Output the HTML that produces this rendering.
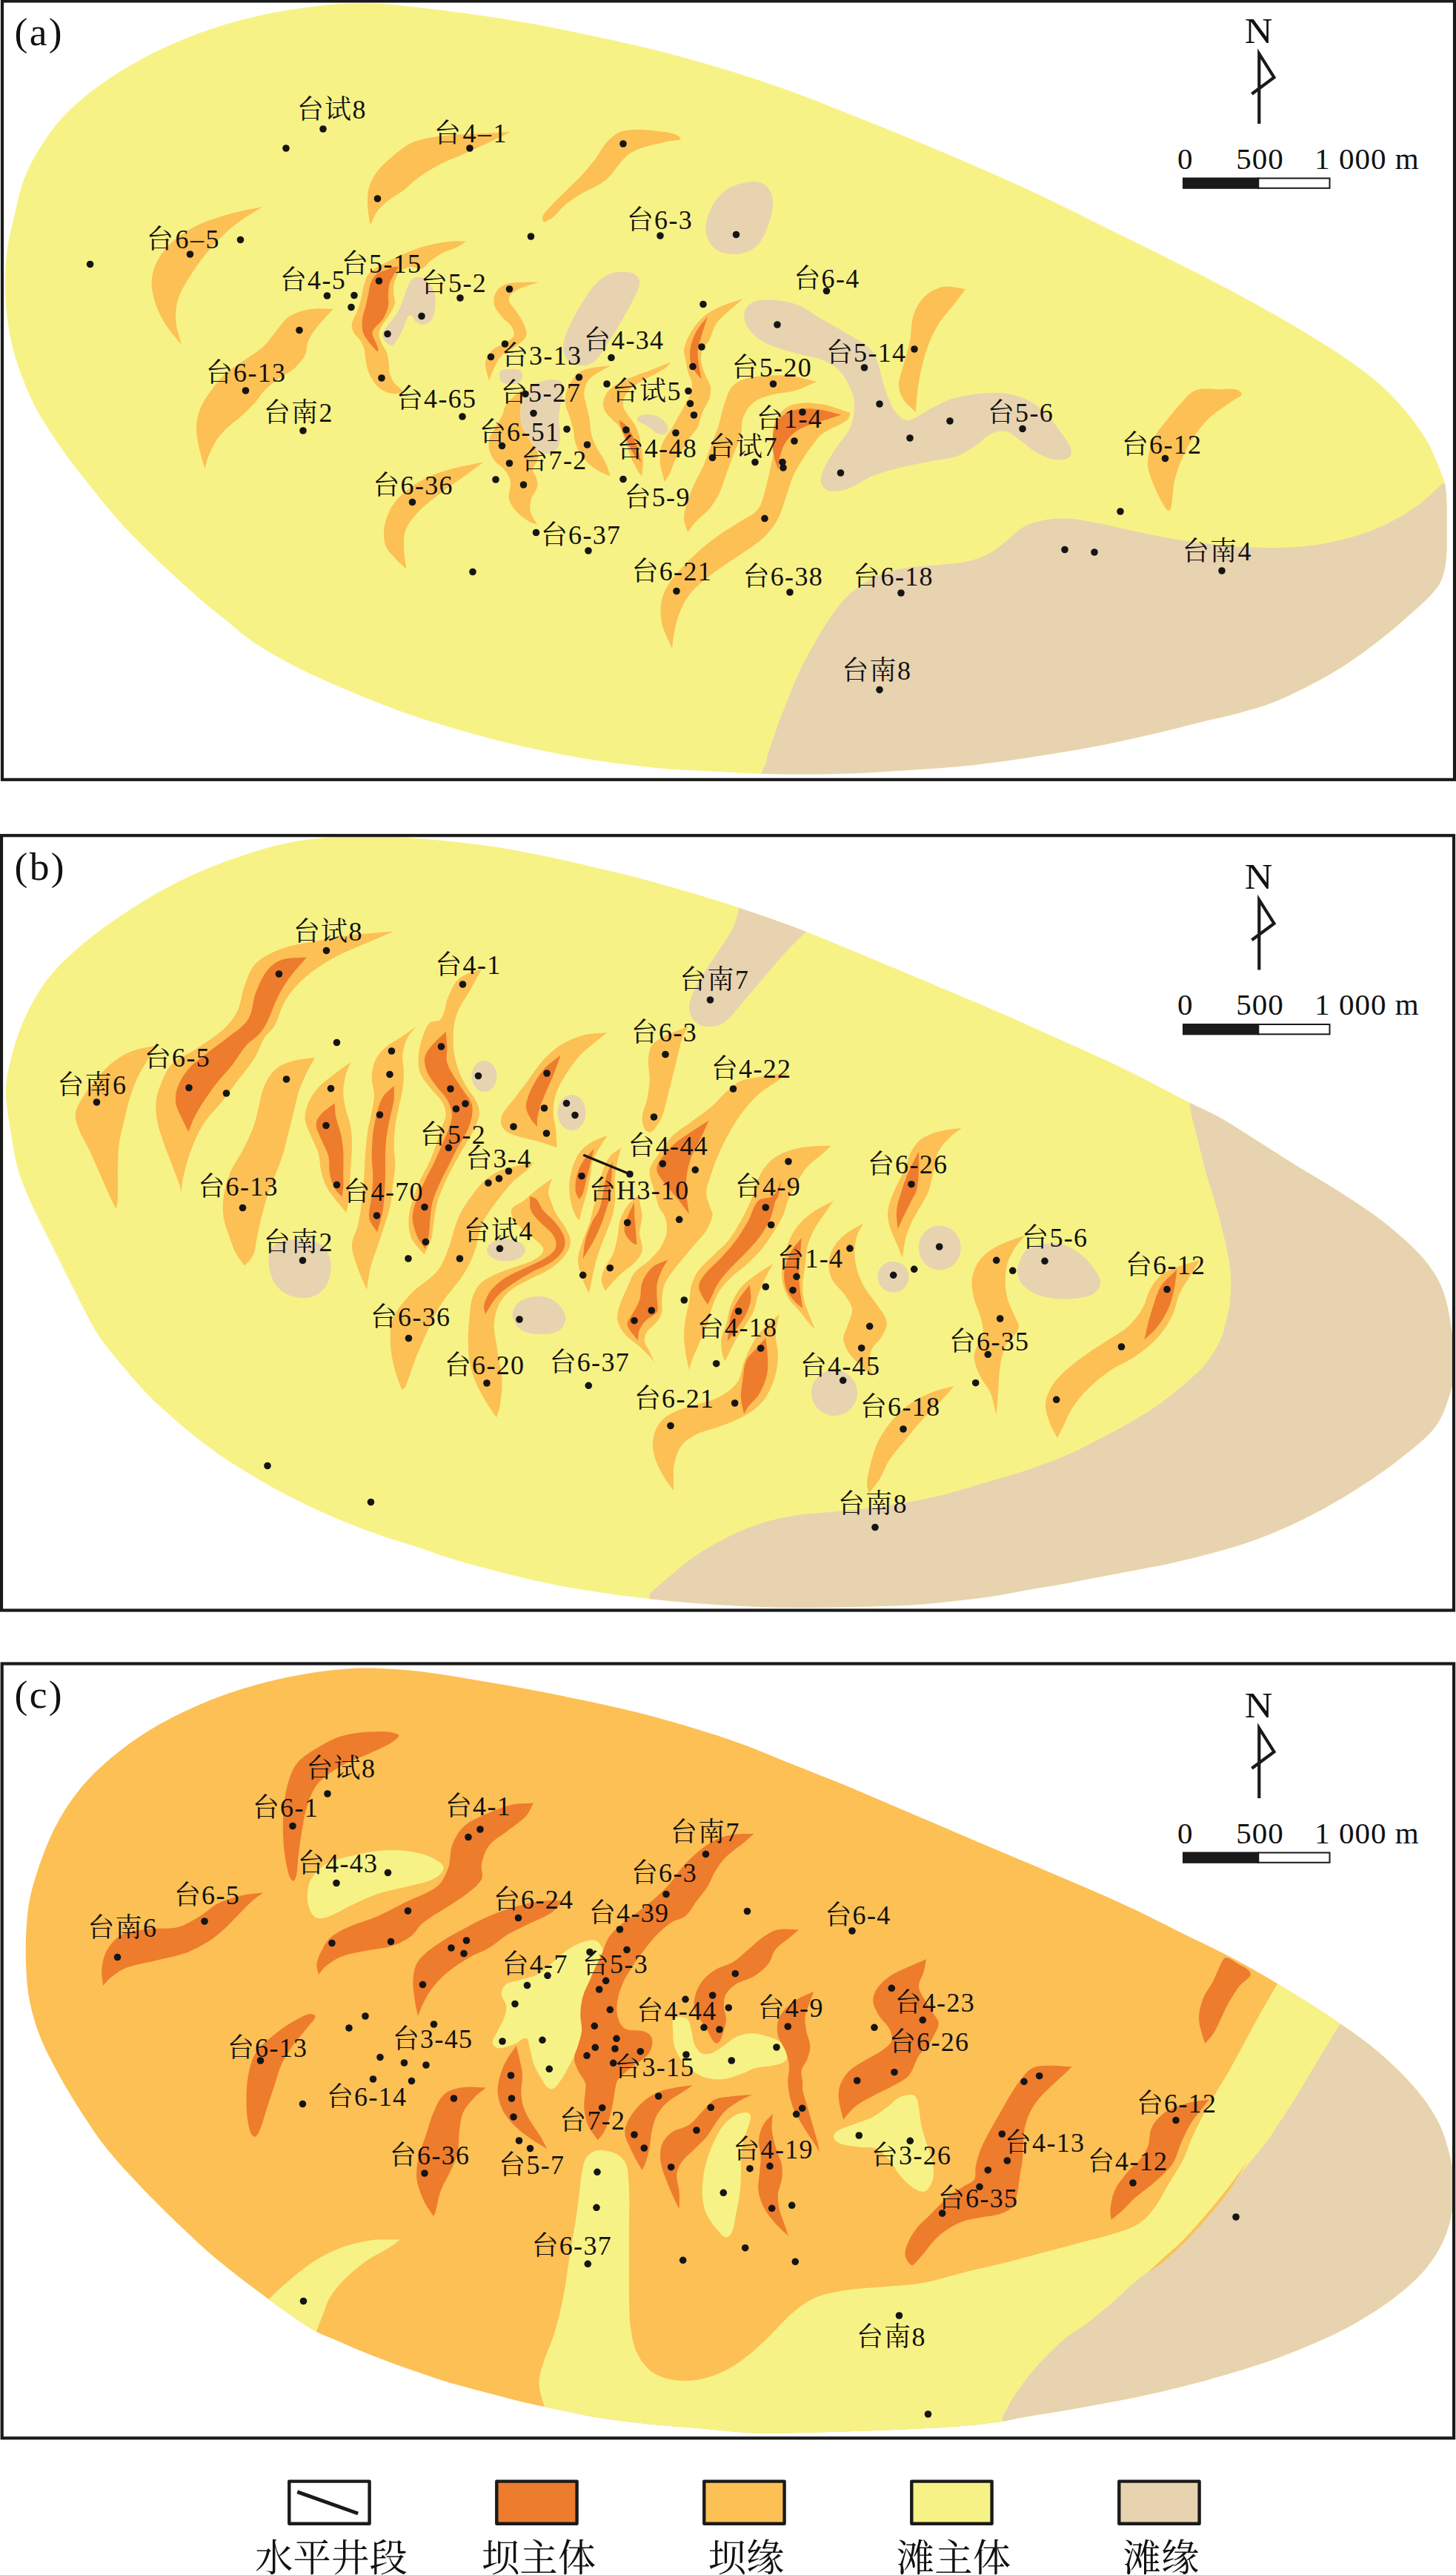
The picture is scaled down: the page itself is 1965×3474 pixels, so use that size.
<!DOCTYPE html>
<html><head><meta charset="utf-8"><title>fig</title>
<style>html,body{margin:0;padding:0;background:#fff}svg{display:block}text{font-family:"Liberation Serif","Noto Serif CJK SC",serif;fill:#111}</style></head><body>
<svg width="1965" height="3474" viewBox="0 0 1965 3474">
<rect width="1965" height="3474" fill="#fff"/>
<g id="a">
<clipPath id="clip_a"><path d="M470.0 4.8C486.5 4.3 503.5 4.5 520.0 5.4C533.3 6.1 546.8 8.0 560.0 9.5C582.7 12.1 606.0 14.8 628.6 18.0C658.2 22.2 688.6 26.7 718.0 32.0C747.5 37.3 777.7 43.7 807.0 50.0C836.5 56.4 866.8 63.0 896.0 70.5C925.9 78.2 956.5 86.9 986.0 96.0C1015.6 105.2 1045.8 115.5 1075.0 126.0C1096.3 133.7 1117.9 142.6 1139.0 151.0C1168.6 162.8 1199.2 174.8 1228.6 187.0C1258.2 199.2 1288.6 212.2 1318.0 225.0C1347.5 237.9 1377.9 251.3 1407.0 265.0C1436.6 279.0 1466.6 294.5 1496.0 309.0C1526.3 324.0 1557.7 339.3 1587.9 354.5C1611.5 366.4 1635.9 378.6 1659.3 391.0C1683.1 403.7 1707.4 417.0 1730.7 430.5C1754.5 444.4 1779.0 458.8 1802.0 474.0C1820.3 486.1 1838.9 498.9 1855.7 513.0C1869.4 524.4 1882.4 537.5 1894.0 551.0C1905.7 564.6 1916.8 579.6 1926.0 595.0C1933.0 606.8 1937.7 620.3 1943.0 633.0C1945.6 639.2 1948.6 645.5 1950.0 652.0C1951.6 659.4 1952.0 667.4 1952.3 675.0C1952.8 685.5 1952.7 696.4 1952.5 707.0C1952.2 724.7 1953.6 743.0 1951.0 760.5C1949.4 771.4 1946.6 783.2 1940.0 792.0C1927.6 808.7 1910.4 822.1 1895.0 836.0C1881.0 848.5 1866.0 860.7 1851.0 872.0C1836.6 882.8 1821.3 893.5 1806.0 903.0C1791.6 912.0 1776.2 920.3 1761.0 928.0C1746.8 935.2 1731.9 942.3 1717.0 948.0C1702.5 953.6 1687.0 957.9 1672.0 962.0C1657.4 966.0 1642.2 969.0 1627.5 972.6C1612.8 976.2 1597.7 980.2 1583.0 983.7C1553.5 990.6 1523.3 998.1 1493.6 1004.0C1464.2 1009.9 1433.6 1014.9 1404.0 1019.5C1374.7 1024.1 1344.5 1028.8 1315.0 1032.0C1286.0 1035.2 1256.1 1037.1 1227.0 1039.0C1195.3 1041.1 1162.7 1043.2 1131.0 1044.0C1099.2 1044.8 1066.4 1044.7 1034.6 1044.0C1002.9 1043.3 970.2 1041.0 938.5 1039.5C925.8 1038.9 912.7 1038.8 900.0 1037.5C870.9 1034.6 840.9 1031.2 812.0 1027.0C789.3 1023.7 765.9 1019.5 743.4 1015.0C720.6 1010.5 697.2 1005.3 674.7 999.7C651.9 994.0 628.5 987.6 606.0 980.8C583.2 974.0 559.8 966.6 537.4 958.5C514.4 950.2 491.2 940.6 468.7 931.0C445.8 921.3 422.2 911.3 400.0 900.0C380.6 890.1 361.1 879.0 343.0 867.0C330.4 858.7 318.8 848.1 307.0 838.6C294.0 828.1 280.6 817.3 268.0 806.4C255.9 796.0 243.7 784.9 232.0 774.0C220.1 763.0 207.9 751.5 196.4 740.0C184.4 728.0 172.0 715.7 160.7 703.0C148.4 689.2 136.5 674.4 125.0 660.0C112.9 644.9 100.3 629.4 89.0 613.6C76.7 596.3 64.4 578.2 53.6 560.0C46.9 548.6 41.0 536.2 36.0 524.0C29.6 508.5 23.5 492.2 19.0 476.0C14.7 460.4 11.6 444.0 9.6 428.0C7.6 412.3 6.9 395.9 7.0 380.0C7.1 365.1 7.9 349.7 10.0 335.0C12.1 320.0 16.1 304.8 19.6 290.0C23.3 274.4 26.3 258.0 32.0 243.0C37.6 228.1 45.1 213.4 53.6 200.0C64.0 183.8 75.5 167.3 89.0 153.6C105.2 137.1 123.9 122.1 143.0 109.0C165.3 93.7 189.7 79.9 214.0 68.0C236.9 56.8 261.5 47.2 285.7 39.0C308.8 31.2 333.2 24.8 357.0 19.6C380.4 14.5 404.9 11.1 428.6 8.0C442.2 6.2 456.3 5.2 470.0 4.8Z"/></clipPath>
<path fill="#F7F285" d="M470.0 4.8C486.5 4.3 503.5 4.5 520.0 5.4C533.3 6.1 546.8 8.0 560.0 9.5C582.7 12.1 606.0 14.8 628.6 18.0C658.2 22.2 688.6 26.7 718.0 32.0C747.5 37.3 777.7 43.7 807.0 50.0C836.5 56.4 866.8 63.0 896.0 70.5C925.9 78.2 956.5 86.9 986.0 96.0C1015.6 105.2 1045.8 115.5 1075.0 126.0C1096.3 133.7 1117.9 142.6 1139.0 151.0C1168.6 162.8 1199.2 174.8 1228.6 187.0C1258.2 199.2 1288.6 212.2 1318.0 225.0C1347.5 237.9 1377.9 251.3 1407.0 265.0C1436.6 279.0 1466.6 294.5 1496.0 309.0C1526.3 324.0 1557.7 339.3 1587.9 354.5C1611.5 366.4 1635.9 378.6 1659.3 391.0C1683.1 403.7 1707.4 417.0 1730.7 430.5C1754.5 444.4 1779.0 458.8 1802.0 474.0C1820.3 486.1 1838.9 498.9 1855.7 513.0C1869.4 524.4 1882.4 537.5 1894.0 551.0C1905.7 564.6 1916.8 579.6 1926.0 595.0C1933.0 606.8 1937.7 620.3 1943.0 633.0C1945.6 639.2 1948.6 645.5 1950.0 652.0C1951.6 659.4 1952.0 667.4 1952.3 675.0C1952.8 685.5 1952.7 696.4 1952.5 707.0C1952.2 724.7 1953.6 743.0 1951.0 760.5C1949.4 771.4 1946.6 783.2 1940.0 792.0C1927.6 808.7 1910.4 822.1 1895.0 836.0C1881.0 848.5 1866.0 860.7 1851.0 872.0C1836.6 882.8 1821.3 893.5 1806.0 903.0C1791.6 912.0 1776.2 920.3 1761.0 928.0C1746.8 935.2 1731.9 942.3 1717.0 948.0C1702.5 953.6 1687.0 957.9 1672.0 962.0C1657.4 966.0 1642.2 969.0 1627.5 972.6C1612.8 976.2 1597.7 980.2 1583.0 983.7C1553.5 990.6 1523.3 998.1 1493.6 1004.0C1464.2 1009.9 1433.6 1014.9 1404.0 1019.5C1374.7 1024.1 1344.5 1028.8 1315.0 1032.0C1286.0 1035.2 1256.1 1037.1 1227.0 1039.0C1195.3 1041.1 1162.7 1043.2 1131.0 1044.0C1099.2 1044.8 1066.4 1044.7 1034.6 1044.0C1002.9 1043.3 970.2 1041.0 938.5 1039.5C925.8 1038.9 912.7 1038.8 900.0 1037.5C870.9 1034.6 840.9 1031.2 812.0 1027.0C789.3 1023.7 765.9 1019.5 743.4 1015.0C720.6 1010.5 697.2 1005.3 674.7 999.7C651.9 994.0 628.5 987.6 606.0 980.8C583.2 974.0 559.8 966.6 537.4 958.5C514.4 950.2 491.2 940.6 468.7 931.0C445.8 921.3 422.2 911.3 400.0 900.0C380.6 890.1 361.1 879.0 343.0 867.0C330.4 858.7 318.8 848.1 307.0 838.6C294.0 828.1 280.6 817.3 268.0 806.4C255.9 796.0 243.7 784.9 232.0 774.0C220.1 763.0 207.9 751.5 196.4 740.0C184.4 728.0 172.0 715.7 160.7 703.0C148.4 689.2 136.5 674.4 125.0 660.0C112.9 644.9 100.3 629.4 89.0 613.6C76.7 596.3 64.4 578.2 53.6 560.0C46.9 548.6 41.0 536.2 36.0 524.0C29.6 508.5 23.5 492.2 19.0 476.0C14.7 460.4 11.6 444.0 9.6 428.0C7.6 412.3 6.9 395.9 7.0 380.0C7.1 365.1 7.9 349.7 10.0 335.0C12.1 320.0 16.1 304.8 19.6 290.0C23.3 274.4 26.3 258.0 32.0 243.0C37.6 228.1 45.1 213.4 53.6 200.0C64.0 183.8 75.5 167.3 89.0 153.6C105.2 137.1 123.9 122.1 143.0 109.0C165.3 93.7 189.7 79.9 214.0 68.0C236.9 56.8 261.5 47.2 285.7 39.0C308.8 31.2 333.2 24.8 357.0 19.6C380.4 14.5 404.9 11.1 428.6 8.0C442.2 6.2 456.3 5.2 470.0 4.8Z"/>
<path fill="#E8D3B0" d="M1034.0 1029.0C1035.0 1024.3 1035.5 1019.5 1037.0 1015.0C1042.2 999.0 1048.0 982.7 1054.0 967.0C1061.5 947.4 1069.3 927.1 1078.0 908.0C1083.9 895.1 1091.0 882.3 1098.0 870.0C1104.3 858.9 1110.8 847.5 1118.0 837.0C1125.6 826.0 1133.3 814.2 1143.0 805.0C1153.3 795.2 1165.3 786.4 1178.0 780.0C1190.4 773.7 1204.4 769.7 1218.0 767.0C1234.3 763.7 1251.5 763.8 1268.0 762.0C1281.2 760.5 1295.1 760.1 1308.0 757.0C1318.4 754.5 1328.6 750.1 1338.0 745.0C1345.3 741.1 1351.5 735.1 1358.0 730.0C1366.3 723.5 1373.7 714.9 1383.0 710.0C1392.1 705.2 1402.8 702.6 1413.0 701.0C1424.4 699.2 1436.5 699.1 1448.0 700.0C1461.4 701.1 1474.9 704.4 1488.0 707.0C1502.9 710.0 1518.1 713.9 1533.0 717.0C1549.5 720.5 1566.4 724.3 1583.0 727.0C1605.7 730.6 1629.1 734.0 1652.0 736.0C1674.4 738.0 1697.5 739.5 1720.0 739.0C1742.9 738.5 1766.5 737.2 1789.0 733.0C1812.3 728.6 1836.1 722.0 1858.0 713.0C1877.3 705.1 1895.8 693.8 1913.0 682.0C1925.3 673.5 1935.7 662.0 1947.0 652.0C1964.7 648.0 1982.3 644.0 2000.0 640.0C2000.0 793.3 2000.0 946.7 2000.0 1100.0C1666.7 1100.0 1333.3 1100.0 1000.0 1100.0C1011.3 1076.3 1022.7 1052.7 1034.0 1029.0Z" clip-path="url(#clip_a)"/>
<path fill="#E8D3B0" d="M1013.0 245.0C1019.7 244.1 1027.8 245.6 1033.0 250.0C1038.7 254.7 1042.3 262.7 1043.0 270.0C1044.0 280.0 1041.2 290.5 1038.0 300.0C1034.5 310.5 1030.6 321.9 1023.0 330.0C1016.7 336.7 1007.1 341.3 998.0 342.5C988.1 343.9 976.6 342.7 968.0 337.5C960.4 332.8 954.7 323.8 953.0 315.0C951.1 305.1 954.0 294.2 958.0 285.0C962.5 274.7 968.9 264.1 978.0 257.5C987.9 250.3 1000.8 246.7 1013.0 245.0Z"/>
<path fill="#E8D3B0" d="M826.7 368.3C835.2 366.2 844.9 365.6 853.3 368.3C858.1 369.8 863.3 374.9 863.3 380.0C863.3 389.4 857.3 398.2 853.3 406.7C848.5 416.9 842.4 426.9 836.7 436.7C831.4 445.6 825.8 454.7 820.0 463.3C814.7 471.2 810.3 480.4 803.3 486.7C798.9 490.6 792.6 493.3 786.7 493.3C779.7 493.3 771.6 491.6 766.7 486.7C761.8 481.8 759.5 473.6 760.0 466.7C760.7 456.3 765.8 446.2 770.0 436.7C774.6 426.3 780.5 416.2 786.7 406.7C792.7 397.5 798.8 387.6 806.7 380.0C812.2 374.7 819.3 370.2 826.7 368.3Z"/>
<path fill="#E8D3B0" d="M565.0 373.6C568.9 374.0 572.9 376.2 575.7 379.0C580.2 383.5 584.3 389.0 586.4 395.0C588.3 400.6 587.9 407.0 587.3 412.9C586.7 418.9 586.1 425.5 582.9 430.7C580.6 434.4 576.3 437.2 572.0 437.9C568.4 438.5 564.4 436.4 561.4 434.3C558.3 432.1 557.9 426.4 554.3 425.4C551.9 424.7 550.2 428.5 549.0 430.7C546.6 435.1 545.7 440.4 543.6 445.0C541.6 449.3 539.1 453.6 536.4 457.5C534.3 460.5 532.9 465.2 529.3 466.0C526.0 466.7 522.5 463.6 520.4 461.0C518.1 458.1 516.0 454.0 516.8 450.4C518.0 444.9 522.5 440.6 525.7 436.0C529.0 431.2 533.4 426.9 536.4 421.8C539.4 416.8 541.5 411.1 543.6 405.7C545.6 400.5 546.8 394.7 549.0 389.6C550.9 385.2 552.6 380.4 556.0 377.0C558.2 374.8 561.8 373.3 565.0 373.6Z"/>
<path fill="#E8D3B0" d="M676.0 500.0C679.9 497.4 685.3 498.0 690.0 498.0C694.2 498.0 698.9 497.9 702.5 500.0C704.6 501.3 705.2 504.6 705.0 507.0C704.7 510.2 703.6 514.1 701.0 516.0C698.0 518.2 693.7 518.0 690.0 518.0C686.0 518.0 681.5 518.0 678.0 516.0C675.6 514.6 674.3 511.4 674.0 508.6C673.6 505.7 673.6 501.6 676.0 500.0Z"/>
<path fill="#E8D3B0" d="M733.0 514.0C737.5 512.8 742.3 511.6 747.0 512.0C750.9 512.3 755.7 512.9 758.0 516.0C760.7 519.8 760.3 525.3 760.0 530.0C759.6 536.1 757.0 542.0 756.0 548.0C755.0 553.9 754.0 560.0 754.0 566.0C754.0 571.8 756.0 577.8 756.0 583.6C756.0 589.4 755.9 595.5 754.0 601.0C752.8 604.6 750.3 608.1 747.0 610.0C743.5 612.0 739.0 612.3 735.0 612.0C731.8 611.8 728.4 610.7 726.0 608.6C722.2 605.2 719.7 600.4 717.0 596.0C713.1 589.6 708.8 583.0 706.0 576.0C703.6 570.0 701.0 563.4 701.6 557.0C702.4 548.3 706.2 539.8 710.0 532.0C712.4 527.1 715.7 522.3 720.0 519.0C723.6 516.2 728.6 515.2 733.0 514.0Z"/>
<path fill="#E8D3B0" d="M860.7 563.0C863.4 560.6 867.4 559.3 871.0 559.0C875.9 558.6 881.2 559.2 885.7 561.0C890.4 562.9 894.6 566.3 898.0 570.0C900.1 572.4 902.2 575.8 901.8 579.0C901.4 582.0 898.9 585.1 896.0 586.0C892.7 587.0 888.8 585.5 885.7 584.0C882.3 582.4 879.9 579.1 876.8 577.0C874.0 575.1 870.9 573.5 867.9 571.8C865.6 570.5 862.4 570.1 860.7 568.0C859.7 566.7 859.5 564.1 860.7 563.0Z"/>
<path fill="#E8D3B0" d="M1005.0 420.0C1006.8 414.2 1012.3 409.0 1018.0 407.0C1027.4 403.7 1038.1 404.2 1048.0 405.0C1058.1 405.8 1068.6 408.1 1078.0 412.0C1088.7 416.4 1098.0 424.2 1108.0 430.0C1119.5 436.7 1131.8 442.8 1143.0 450.0C1154.9 457.7 1169.8 463.4 1178.0 475.0C1187.1 487.7 1188.0 505.1 1193.0 520.0C1194.7 525.0 1195.9 530.2 1198.0 535.0C1200.9 541.8 1203.5 549.2 1208.0 555.0C1211.9 560.0 1216.8 565.6 1223.0 567.0C1228.1 568.2 1233.3 564.3 1238.0 562.0C1244.9 558.6 1251.1 553.4 1258.0 550.0C1267.7 545.2 1277.6 540.0 1288.0 537.0C1299.2 533.7 1311.3 532.0 1323.0 531.0C1334.5 530.0 1346.6 529.4 1358.0 531.0C1368.2 532.4 1378.9 535.2 1388.0 540.0C1397.3 544.9 1405.5 552.5 1413.0 560.0C1420.5 567.5 1426.9 576.4 1433.0 585.0C1437.5 591.3 1442.7 597.7 1445.0 605.0C1446.2 608.8 1446.3 614.7 1443.0 617.0C1437.5 620.8 1429.6 621.0 1423.0 620.0C1414.2 618.6 1405.8 614.3 1398.0 610.0C1390.8 606.0 1384.8 599.7 1378.0 595.0C1371.6 590.5 1365.6 583.9 1358.0 582.0C1351.5 580.4 1344.1 582.3 1338.0 585.0C1330.5 588.4 1324.9 595.4 1318.0 600.0C1310.0 605.3 1302.0 611.7 1293.0 615.0C1281.9 619.1 1269.5 619.7 1258.0 622.0C1244.8 624.6 1231.1 626.7 1218.0 630.0C1204.6 633.3 1190.8 636.9 1178.0 642.0C1165.9 646.8 1155.3 655.9 1143.0 660.0C1135.1 662.6 1126.0 664.3 1118.0 662.0C1113.0 660.6 1108.8 655.1 1108.0 650.0C1106.9 643.3 1110.2 636.2 1113.0 630.0C1116.9 621.2 1122.8 613.1 1128.0 605.0C1134.4 595.0 1143.4 586.0 1148.0 575.0C1151.9 565.7 1153.0 555.0 1153.0 545.0C1153.0 538.2 1150.8 531.2 1148.0 525.0C1144.1 516.2 1139.8 506.8 1133.0 500.0C1126.2 493.2 1117.0 488.5 1108.0 485.0C1095.3 480.1 1081.0 479.1 1068.0 475.0C1054.5 470.8 1040.2 467.1 1028.0 460.0C1019.9 455.3 1012.7 448.1 1008.0 440.0C1004.7 434.2 1003.1 426.4 1005.0 420.0Z"/>
<path fill="#FCC055" d="M354.0 279.0C337.7 282.7 320.8 285.0 305.0 290.0C288.0 295.3 270.3 301.0 255.0 310.0C241.9 317.7 229.3 327.9 220.0 340.0C212.3 350.0 206.8 362.6 205.0 375.0C203.3 386.6 206.6 398.8 210.0 410.0C213.3 420.6 219.1 430.7 225.0 440.0C230.7 448.9 238.3 456.7 245.0 465.0C242.5 455.0 238.3 445.2 237.5 435.0C236.7 425.1 237.2 414.5 240.0 405.0C243.1 394.4 249.2 384.4 255.0 375.0C262.4 362.9 270.8 350.8 280.0 340.0C290.6 327.6 302.4 315.4 315.0 305.0C326.9 295.2 341.0 287.7 354.0 279.0Z"/>
<path fill="#FCC055" d="M689.0 177.9C674.1 178.7 659.0 179.5 644.3 180.4C626.6 181.5 608.3 181.5 590.7 184.0C578.7 185.7 566.1 188.0 555.0 192.9C545.7 197.0 537.7 204.2 530.0 210.7C522.4 217.1 514.6 224.0 508.6 232.0C503.8 238.4 500.1 246.0 497.9 253.6C495.9 260.4 495.8 267.9 496.0 275.0C496.3 284.7 498.4 294.5 499.6 304.3C502.6 298.1 504.7 291.3 508.6 285.7C512.5 280.3 517.7 275.6 522.9 271.4C529.5 266.1 537.5 262.1 544.3 257.0C549.3 253.3 553.7 248.5 558.6 244.6C563.2 240.9 568.0 237.2 572.9 234.0C579.8 229.5 587.0 225.1 594.3 221.4C603.5 216.8 613.5 213.2 622.9 209.0C633.5 204.3 644.5 199.5 655.0 194.6C666.3 189.3 677.7 183.5 689.0 177.9Z"/>
<path fill="#FCC055" d="M917.9 185.7C910.1 177.9 896.6 178.7 885.7 176.8C876.4 175.2 866.5 174.7 857.0 175.0C849.9 175.3 842.2 175.6 835.7 178.6C828.8 181.7 822.9 187.3 817.9 192.9C812.2 199.2 808.7 207.5 803.6 214.3C798.1 221.7 791.9 228.9 785.7 235.7C779.0 243.0 771.3 249.9 764.3 257.0C757.2 264.1 749.6 271.1 742.9 278.6C738.9 283.0 734.3 287.4 732.0 292.9C731.1 295.1 733.3 297.6 734.0 300.0C738.1 297.6 742.8 295.9 746.4 292.9C752.8 287.6 757.8 280.3 764.3 275.0C770.9 269.6 778.4 265.0 785.7 260.7C792.5 256.7 800.3 254.0 807.0 250.0C812.1 247.0 817.2 243.5 821.4 239.3C826.8 234.0 830.7 227.1 835.7 221.4C840.1 216.4 844.4 210.7 850.0 207.0C856.4 202.8 864.1 200.3 871.4 198.0C880.7 195.0 890.6 193.5 900.0 191.0C906.0 189.4 922.3 190.0 917.9 185.7Z"/>
<path fill="#FCC055" d="M449.6 417.0C439.5 417.0 429.2 415.4 419.3 417.0C409.5 418.6 399.1 421.5 390.7 426.8C383.3 431.5 378.6 439.8 372.9 446.4C366.8 453.4 361.8 461.7 355.0 467.9C347.5 474.7 338.2 479.8 330.0 485.7C321.7 491.6 312.5 496.7 305.0 503.6C297.0 511.0 289.9 519.8 283.6 528.6C278.1 536.3 272.6 544.7 269.3 553.6C266.4 561.4 265.0 570.2 265.0 578.6C265.0 588.1 267.3 597.7 269.3 607.0C271.1 615.4 274.0 623.7 276.4 632.0C278.2 626.1 279.5 620.0 281.8 614.3C284.3 608.2 287.1 601.9 290.7 596.4C294.8 590.1 299.7 583.9 305.0 578.6C311.5 572.1 319.6 566.9 326.4 560.7C332.6 555.1 338.7 549.1 344.3 542.9C349.4 537.3 353.3 530.4 358.6 525.0C363.9 519.7 370.3 515.1 376.4 510.7C383.3 505.7 391.6 502.1 397.9 496.4C403.5 491.4 408.7 485.3 412.0 478.6C414.7 473.2 413.4 466.3 415.7 460.7C418.3 454.3 422.3 448.4 426.4 442.9C430.6 437.2 436.0 432.1 440.7 426.8C443.6 423.5 446.6 420.3 449.6 417.0Z"/>
<path fill="#FCC055" d="M629.3 325.4C622.7 325.4 616.1 324.8 609.6 325.4C600.7 326.2 591.6 327.8 582.9 329.8C573.9 331.9 564.7 334.6 556.0 337.9C545.5 341.9 534.9 346.8 525.0 352.0C516.1 356.7 506.4 361.2 499.0 368.0C495.1 371.6 493.5 377.4 491.8 382.5C489.9 388.2 489.5 394.5 488.0 400.4C486.5 406.3 484.9 412.3 482.9 418.0C480.5 424.7 476.0 430.9 474.8 437.9C474.2 441.6 475.7 445.7 477.5 449.0C479.7 453.0 484.0 455.7 486.4 459.6C488.8 463.4 490.6 467.7 491.8 472.0C493.0 476.6 492.7 481.7 493.6 486.4C494.5 491.2 495.3 496.2 497.0 500.7C498.9 505.7 501.2 510.7 504.3 515.0C507.2 519.1 510.8 523.0 515.0 525.7C519.2 528.4 524.3 530.3 529.3 531.0C534.4 531.7 539.8 530.3 545.0 530.0C543.3 528.0 541.8 525.9 540.0 524.0C537.1 520.9 533.3 518.5 531.0 515.0C528.5 511.3 526.8 506.8 525.7 502.5C524.7 498.5 525.4 494.1 524.8 490.0C524.1 485.2 523.6 480.2 522.0 475.7C520.4 471.2 516.9 467.4 515.0 463.0C513.3 459.1 511.4 454.9 511.4 450.7C511.4 447.0 513.3 443.3 515.0 440.0C517.4 435.4 521.4 431.5 524.0 427.0C527.3 421.4 531.5 415.7 532.9 409.3C533.9 404.6 531.0 399.8 531.0 395.0C531.0 389.7 531.3 384.1 532.9 379.0C534.3 374.4 536.4 369.5 540.0 366.4C544.1 362.9 549.7 360.7 555.0 360.0C559.6 359.4 564.2 364.2 568.6 362.9C573.8 361.3 576.7 355.3 581.0 352.0C586.0 348.2 591.4 344.3 597.0 341.4C603.8 337.9 611.7 335.9 618.6 332.5C622.4 330.6 625.7 327.8 629.3 325.4Z"/>
<path fill="#EE7C2D" d="M536.4 360.0C531.1 358.6 525.6 362.8 520.4 364.6C516.2 366.1 511.4 367.2 507.9 370.0C504.6 372.7 502.3 376.8 500.7 380.7C498.6 385.7 498.2 391.5 497.0 396.8C495.8 402.1 494.8 407.6 493.6 412.9C492.2 418.8 489.6 424.7 489.0 430.7C488.4 436.6 488.3 442.9 490.0 448.6C491.7 454.0 495.6 458.5 499.0 463.0C502.1 467.2 506.1 470.9 509.6 474.8C509.9 473.3 510.8 471.8 510.5 470.4C509.6 466.6 507.4 463.2 506.0 459.6C504.7 456.1 502.1 452.7 502.5 449.0C502.8 445.6 505.8 442.7 507.9 440.0C510.5 436.7 514.6 434.4 516.8 430.7C520.0 425.3 522.6 419.1 524.0 412.9C525.0 408.3 523.7 403.3 524.0 398.6C524.3 393.3 524.2 387.6 525.7 382.5C527.2 377.4 530.6 372.8 532.9 368.0C534.1 365.4 539.2 360.8 536.4 360.0Z"/>
<path fill="#FCC055" d="M726.7 380.7C720.0 380.7 713.3 380.3 706.7 380.7C698.9 381.2 690.6 380.8 683.3 383.3C678.1 385.1 672.9 388.6 670.0 393.3C667.0 398.1 665.6 404.5 666.7 410.0C668.0 416.3 672.8 421.6 676.7 426.7C680.5 431.6 686.7 434.7 690.0 440.0C692.4 443.8 695.1 449.1 693.3 453.3C691.1 458.3 684.6 460.3 680.0 463.3C674.7 466.9 667.7 468.6 663.3 473.3C659.1 477.8 655.5 483.9 655.0 490.0C654.4 497.8 658.3 505.5 660.0 513.3C662.2 507.8 664.1 502.0 666.7 496.7C669.6 491.0 672.2 484.5 676.7 480.0C682.3 474.4 690.5 471.7 696.7 466.7C701.6 462.8 708.0 459.2 710.0 453.3C711.8 448.0 708.8 441.9 706.7 436.7C704.3 430.7 700.0 425.5 696.7 420.0C693.4 414.5 686.7 409.7 686.7 403.3C686.7 398.2 692.3 394.2 696.7 391.7C705.9 386.5 716.7 384.4 726.7 380.7Z"/>
<path fill="#FCC055" d="M652.5 623.5C638.3 626.5 623.8 628.5 610.0 632.5C596.5 636.4 582.3 640.5 570.0 647.5C557.2 654.7 544.6 663.9 535.0 675.0C527.7 683.4 522.7 694.3 520.0 705.0C517.6 714.6 517.2 725.5 520.0 735.0C522.4 742.9 529.6 748.8 535.0 755.0C539.0 759.6 544.0 763.3 548.5 767.5C547.3 758.3 545.2 749.1 545.0 740.0C544.8 731.7 544.4 722.7 547.5 715.0C551.2 705.6 558.1 697.3 565.0 690.0C573.9 680.7 584.8 672.9 595.0 665.0C606.3 656.3 618.5 648.3 630.0 640.0C637.5 634.6 645.0 629.0 652.5 623.5Z"/>
<path fill="#FCC055" d="M1303.0 390.0C1293.0 389.0 1282.8 385.2 1273.0 387.0C1263.9 388.7 1254.7 393.6 1248.0 400.0C1241.0 406.6 1236.0 415.9 1233.0 425.0C1229.3 436.1 1230.3 448.6 1228.0 460.0C1226.0 470.0 1222.5 480.1 1220.0 490.0C1217.5 499.9 1213.0 509.8 1213.0 520.0C1213.0 527.0 1216.2 534.1 1220.0 540.0C1224.0 546.3 1230.7 550.7 1236.0 556.0C1236.7 547.3 1236.9 538.5 1238.0 530.0C1239.2 520.0 1240.7 509.8 1243.0 500.0C1245.7 488.3 1248.7 476.2 1253.0 465.0C1257.0 454.7 1262.1 444.3 1268.0 435.0C1273.7 426.1 1281.5 418.3 1288.0 410.0C1293.1 403.5 1298.0 396.7 1303.0 390.0Z"/>
<path fill="#FCC055" d="M1675.0 529.6C1667.6 522.2 1654.0 525.8 1643.6 525.4C1633.4 525.0 1622.2 523.2 1612.7 527.0C1604.1 530.4 1598.4 539.3 1592.0 546.0C1585.9 552.4 1580.4 559.6 1575.0 566.6C1569.0 574.4 1561.7 581.8 1557.7 590.7C1553.0 601.4 1549.0 613.3 1549.0 625.0C1549.0 635.6 1553.8 646.1 1557.7 656.0C1561.5 665.7 1566.5 675.2 1572.0 684.0C1573.3 686.1 1576.0 690.0 1578.0 688.5C1581.3 686.0 1581.1 680.6 1581.8 676.5C1583.4 667.5 1582.9 657.9 1585.0 649.0C1587.5 638.5 1591.1 627.9 1595.5 618.0C1600.3 607.3 1606.1 596.7 1612.7 587.0C1618.5 578.4 1625.4 570.0 1633.0 563.0C1641.3 555.3 1651.8 549.7 1660.7 542.6C1665.7 538.6 1679.5 534.1 1675.0 529.6Z"/>
<path fill="#FCC055" d="M1102.0 515.0C1090.3 512.3 1078.8 508.4 1067.0 507.0C1055.9 505.7 1044.2 506.1 1033.0 507.0C1023.0 507.8 1012.5 508.7 1003.0 512.0C996.9 514.1 990.8 517.9 987.0 523.0C981.9 529.9 979.8 538.9 977.0 547.0C974.1 555.4 972.7 564.5 970.0 573.0C967.1 582.0 963.3 591.1 960.0 600.0C956.7 608.9 953.8 618.3 950.0 627.0C946.2 635.8 940.8 644.2 937.0 653.0C933.2 661.7 929.7 670.9 927.0 680.0C925.1 686.5 922.8 693.3 923.0 700.0C923.2 706.2 926.3 712.0 928.0 718.0C932.0 713.0 935.7 707.6 940.0 703.0C945.3 697.4 952.1 692.9 957.0 687.0C962.0 681.0 966.5 674.1 970.0 667.0C974.2 658.5 976.7 648.9 980.0 640.0C983.3 631.1 986.6 621.9 990.0 613.0C993.2 604.4 997.7 595.9 1000.0 587.0C1002.0 579.3 1000.1 570.4 1003.0 563.0C1005.9 555.5 1010.7 548.1 1017.0 543.0C1023.4 537.8 1032.0 535.3 1040.0 533.0C1050.6 530.0 1062.4 530.1 1073.0 527.0C1082.9 524.1 1092.3 519.0 1102.0 515.0Z"/>
<path fill="#FCC055" d="M1148.0 557.0C1134.7 553.0 1121.6 547.2 1108.0 545.0C1096.6 543.2 1084.3 542.5 1073.0 545.0C1065.5 546.6 1058.0 551.2 1053.0 557.0C1047.6 563.3 1044.4 571.8 1043.0 580.0C1041.6 588.2 1045.5 596.7 1045.0 605.0C1044.5 613.4 1041.8 621.8 1040.0 630.0C1037.8 639.9 1035.9 650.3 1033.0 660.0C1030.3 669.1 1028.8 679.5 1023.0 687.0C1017.4 694.3 1007.7 697.9 1000.0 703.0C991.2 708.8 981.6 714.0 973.0 720.0C964.1 726.2 955.2 732.9 947.0 740.0C938.7 747.2 930.5 755.0 923.0 763.0C916.0 770.5 908.5 778.3 903.0 787.0C898.5 794.0 894.5 801.9 893.0 810.0C891.2 819.7 890.9 830.3 893.0 840.0C895.6 852.2 902.3 863.3 907.0 875.0C908.0 867.7 908.5 860.2 910.0 853.0C911.8 844.3 913.7 835.2 917.0 827.0C920.3 818.6 924.6 810.2 930.0 803.0C935.6 795.5 942.9 789.0 950.0 783.0C958.4 775.8 967.9 769.4 977.0 763.0C986.7 756.2 997.3 749.9 1007.0 743.0C1015.8 736.7 1025.3 730.7 1033.0 723.0C1039.7 716.3 1045.5 708.3 1050.0 700.0C1054.5 691.6 1056.9 682.0 1060.0 673.0C1063.5 663.2 1065.8 652.6 1070.0 643.0C1073.5 635.0 1078.4 627.4 1083.0 620.0C1087.3 613.2 1092.1 606.4 1097.0 600.0C1101.0 594.8 1104.7 588.8 1110.0 585.0C1120.1 577.8 1133.0 574.4 1143.0 567.0C1146.0 564.8 1146.3 560.3 1148.0 557.0Z"/>
<path fill="#EE7C2D" d="M1135.4 559.6C1126.5 557.4 1117.6 554.2 1108.6 552.9C1099.2 551.6 1089.4 550.7 1080.0 551.8C1072.6 552.7 1064.8 554.8 1058.6 559.0C1053.0 562.8 1048.7 568.8 1046.0 575.0C1043.2 581.6 1042.7 589.2 1042.5 596.4C1042.3 603.5 1043.5 610.9 1045.0 617.9C1046.2 623.4 1048.8 628.6 1050.7 634.0C1051.5 627.4 1051.4 620.6 1053.0 614.3C1054.6 608.1 1056.8 601.7 1060.4 596.4C1064.6 590.3 1070.2 584.5 1076.4 580.4C1082.8 576.1 1090.7 574.0 1097.9 571.4C1104.8 568.9 1112.3 567.2 1119.3 565.0C1124.6 563.3 1130.0 561.4 1135.4 559.6Z"/>
<path fill="#FCC055" d="M711.0 522.0C705.3 526.0 699.1 529.4 694.0 534.0C689.5 538.1 685.2 542.8 682.0 548.0C679.8 551.6 679.8 556.2 678.0 560.0C675.4 565.5 671.9 570.7 669.0 576.0C666.3 580.9 662.7 585.6 661.0 591.0C659.6 595.4 659.1 600.5 660.0 605.0C661.1 610.7 663.6 616.3 667.0 621.0C670.7 626.1 677.2 629.0 681.0 634.0C684.6 638.7 688.1 644.2 689.0 650.0C690.2 657.5 685.5 665.5 687.0 673.0C688.3 679.4 692.7 685.1 697.0 690.0C701.5 695.1 707.3 699.3 713.0 703.0C716.6 705.3 721.0 706.3 725.0 708.0C722.0 702.0 717.5 696.5 716.0 690.0C714.7 684.5 715.5 678.4 717.0 673.0C718.6 667.3 723.6 662.7 725.0 657.0C726.0 653.1 725.0 648.8 724.0 645.0C723.0 641.1 719.0 638.0 719.0 634.0C719.0 630.0 722.8 626.8 724.0 623.0C725.1 619.5 727.1 615.5 726.0 612.0C723.9 605.4 718.4 600.1 715.0 594.0C711.2 587.2 706.5 580.4 704.0 573.0C702.1 567.3 701.7 561.0 702.0 555.0C702.4 548.3 704.2 541.5 706.0 535.0C707.2 530.6 709.3 526.3 711.0 522.0Z"/>
<path fill="#FCC055" d="M823.9 493.4C816.2 494.3 808.3 494.6 800.7 496.1C794.7 497.3 788.3 498.5 782.9 501.4C779.2 503.4 776.3 507.0 773.9 510.4C770.4 515.3 766.8 520.6 765.0 526.4C763.2 532.1 762.6 538.4 763.2 544.3C763.8 550.4 766.8 556.2 768.6 562.1C770.4 568.0 772.6 574.0 773.9 580.0C774.9 584.6 774.5 589.7 775.7 594.3C776.9 599.2 778.6 604.2 781.1 608.6C784.0 613.7 787.6 618.7 791.8 622.9C796.6 627.7 802.2 631.9 807.9 635.4C812.8 638.4 818.6 640.1 823.9 642.5C821.5 636.0 819.7 629.1 816.8 622.9C814.4 617.9 810.6 613.4 807.9 608.6C805.3 604.0 802.6 599.2 800.7 594.3C799.0 589.7 797.9 584.8 797.1 580.0C796.2 574.7 796.3 569.2 795.4 563.9C794.5 558.6 792.9 553.2 791.8 547.9C790.5 542.0 787.9 536.0 788.2 530.0C788.5 524.4 790.5 518.6 793.6 513.9C796.6 509.4 801.6 506.2 806.1 503.2C811.7 499.4 818.0 496.7 823.9 493.4Z"/>
<path fill="#FCC055" d="M904.5 488.8C899.4 490.9 894.3 493.0 889.3 495.0C883.4 497.4 877.3 499.9 871.4 502.1C865.6 504.3 859.4 506.1 853.6 508.4C847.6 510.8 841.3 513.2 835.7 516.4C830.6 519.4 825.2 522.6 821.4 527.1C818.0 531.1 815.3 536.2 814.3 541.4C813.5 545.5 814.4 550.1 816.1 553.9C818.0 558.1 821.9 561.2 825.0 564.6C828.4 568.3 832.8 571.3 835.7 575.4C838.3 579.1 839.4 583.7 841.1 587.9C843.0 592.5 844.7 597.4 846.4 602.1C848.8 608.6 850.8 615.5 853.6 621.8C856.1 627.3 859.3 632.8 862.5 637.9C863.5 639.5 865.1 640.8 866.4 642.3C866.9 636.1 868.0 629.8 867.9 623.6C867.9 617.7 867.0 611.6 866.1 605.7C865.2 599.8 864.1 593.7 862.5 587.9C861.1 583.0 859.5 578.1 857.1 573.6C854.7 569.1 850.9 565.4 848.2 561.1C845.6 557.1 842.1 553.2 841.1 548.6C840.2 544.5 841.3 539.9 842.9 536.1C844.9 531.4 848.1 527.0 851.8 523.6C856.5 519.3 862.4 516.1 867.9 512.9C873.6 509.6 880.0 507.1 885.7 503.9C890.6 501.2 895.7 498.5 900.0 495.0C902.0 493.4 903.0 490.9 904.5 488.8Z"/>
<path fill="#EE7C2D" d="M835.7 566.4C838.7 568.8 842.2 570.7 844.6 573.6C848.2 577.9 851.1 582.9 853.6 587.9C856.4 593.6 858.7 599.7 860.7 605.7C862.6 611.5 863.7 617.6 865.2 623.6C861.9 620.0 858.0 616.9 855.4 612.9C851.8 607.4 849.2 601.0 846.4 595.0C843.6 589.2 840.7 583.2 838.4 577.1C837.1 573.7 836.6 570.0 835.7 566.4Z"/>
<path fill="#FCC055" d="M1003.3 402.7C993.3 406.2 982.9 409.0 973.3 413.3C965.2 416.9 956.8 421.0 950.0 426.7C943.4 432.2 937.8 439.4 933.3 446.7C928.9 453.8 925.1 461.8 923.3 470.0C922.3 474.6 924.2 479.6 925.0 484.3C926.0 490.2 927.0 496.3 928.6 502.1C929.9 506.9 933.3 511.4 933.9 516.4C934.5 521.1 933.5 526.2 932.1 530.7C930.5 535.7 927.5 540.3 925.0 545.0C922.2 550.4 919.1 555.8 916.1 561.1C913.1 566.4 910.3 571.9 907.1 577.1C903.8 582.5 899.2 587.5 896.4 593.2C893.9 598.2 892.0 603.8 891.1 609.3C890.2 615.1 890.5 621.3 891.1 627.1C891.6 631.9 893.4 636.7 894.6 641.4C895.3 644.2 896.0 647.1 896.7 650.0C899.0 646.5 901.8 643.3 903.6 639.6C906.4 633.9 907.8 627.4 910.7 621.8C913.7 616.2 917.9 611.1 921.4 605.7C924.4 601.0 927.2 596.0 930.4 591.4C933.7 586.5 938.2 582.2 941.1 577.1C942.9 573.9 943.4 569.9 944.6 566.4C946.3 561.6 948.0 556.7 950.0 552.1C952.1 547.3 955.6 542.9 957.1 537.9C958.6 532.8 959.8 527.1 958.9 521.8C958.0 516.1 953.8 511.1 951.8 505.7C949.7 499.9 947.0 494.0 946.4 487.9C945.8 482.0 946.1 475.6 948.2 470.0C949.7 465.9 954.6 463.8 956.7 460.0C960.8 452.7 961.9 443.6 966.7 436.7C972.0 429.0 979.9 423.1 986.7 416.7C992.0 411.8 997.8 407.4 1003.3 402.7Z"/>
<path fill="#EE7C2D" d="M955.0 426.7C950.0 433.4 943.9 439.4 940.0 446.7C936.1 453.9 932.9 461.9 931.7 470.0C930.6 477.6 930.7 486.0 933.3 493.3C935.8 500.4 942.2 505.6 946.7 511.7C945.6 505.6 944.1 499.4 943.3 493.3C942.4 486.7 941.1 479.9 941.7 473.3C942.3 466.5 944.8 459.8 946.7 453.3C949.2 444.5 952.2 435.6 955.0 426.7Z"/>
<circle cx="436.0" cy="174.0" r="4.8" fill="#151515"/>
<circle cx="386.0" cy="200.0" r="4.8" fill="#151515"/>
<circle cx="634.0" cy="200.0" r="4.8" fill="#151515"/>
<circle cx="509.5" cy="268.0" r="4.8" fill="#151515"/>
<circle cx="841.0" cy="194.0" r="4.8" fill="#151515"/>
<circle cx="324.5" cy="323.5" r="4.8" fill="#151515"/>
<circle cx="256.5" cy="343.0" r="4.8" fill="#151515"/>
<circle cx="716.5" cy="319.0" r="4.8" fill="#151515"/>
<circle cx="891.0" cy="318.0" r="4.8" fill="#151515"/>
<circle cx="511.5" cy="379.0" r="4.8" fill="#151515"/>
<circle cx="441.5" cy="399.0" r="4.8" fill="#151515"/>
<circle cx="478.0" cy="398.5" r="4.8" fill="#151515"/>
<circle cx="474.0" cy="414.5" r="4.8" fill="#151515"/>
<circle cx="621.0" cy="402.0" r="4.8" fill="#151515"/>
<circle cx="687.5" cy="390.0" r="4.8" fill="#151515"/>
<circle cx="569.0" cy="426.5" r="4.8" fill="#151515"/>
<circle cx="523.0" cy="450.5" r="4.8" fill="#151515"/>
<circle cx="404.0" cy="445.5" r="4.8" fill="#151515"/>
<circle cx="681.5" cy="464.0" r="4.8" fill="#151515"/>
<circle cx="662.5" cy="481.5" r="4.8" fill="#151515"/>
<circle cx="825.0" cy="482.5" r="4.8" fill="#151515"/>
<circle cx="515.0" cy="510.0" r="4.8" fill="#151515"/>
<circle cx="781.5" cy="509.0" r="4.8" fill="#151515"/>
<circle cx="819.0" cy="518.0" r="4.8" fill="#151515"/>
<circle cx="331.5" cy="527.0" r="4.8" fill="#151515"/>
<circle cx="709.0" cy="531.5" r="4.8" fill="#151515"/>
<circle cx="121.6" cy="356.5" r="4.8" fill="#151515"/>
<circle cx="993.5" cy="316.5" r="4.8" fill="#151515"/>
<circle cx="1115.5" cy="392.5" r="4.8" fill="#151515"/>
<circle cx="949.0" cy="410.5" r="4.8" fill="#151515"/>
<circle cx="1049.0" cy="438.0" r="4.8" fill="#151515"/>
<circle cx="1234.0" cy="471.0" r="4.8" fill="#151515"/>
<circle cx="947.0" cy="468.0" r="4.8" fill="#151515"/>
<circle cx="1166.5" cy="496.0" r="4.8" fill="#151515"/>
<circle cx="935.0" cy="494.5" r="4.8" fill="#151515"/>
<circle cx="1043.5" cy="518.0" r="4.8" fill="#151515"/>
<circle cx="929.0" cy="527.5" r="4.8" fill="#151515"/>
<circle cx="1187.0" cy="545.0" r="4.8" fill="#151515"/>
<circle cx="931.5" cy="544.5" r="4.8" fill="#151515"/>
<circle cx="409.0" cy="581.0" r="4.8" fill="#151515"/>
<circle cx="624.0" cy="562.0" r="4.8" fill="#151515"/>
<circle cx="720.0" cy="557.5" r="4.8" fill="#151515"/>
<circle cx="765.0" cy="579.0" r="4.8" fill="#151515"/>
<circle cx="677.5" cy="601.5" r="4.8" fill="#151515"/>
<circle cx="792.5" cy="600.0" r="4.8" fill="#151515"/>
<circle cx="687.5" cy="625.0" r="4.8" fill="#151515"/>
<circle cx="845.0" cy="580.0" r="4.8" fill="#151515"/>
<circle cx="669.0" cy="647.0" r="4.8" fill="#151515"/>
<circle cx="706.5" cy="654.0" r="4.8" fill="#151515"/>
<circle cx="841.0" cy="646.5" r="4.8" fill="#151515"/>
<circle cx="556.5" cy="677.5" r="4.8" fill="#151515"/>
<circle cx="723.5" cy="718.5" r="4.8" fill="#151515"/>
<circle cx="794.0" cy="743.0" r="4.8" fill="#151515"/>
<circle cx="638.0" cy="771.5" r="4.8" fill="#151515"/>
<circle cx="936.5" cy="560.0" r="4.8" fill="#151515"/>
<circle cx="912.0" cy="584.0" r="4.8" fill="#151515"/>
<circle cx="1083.0" cy="556.0" r="4.8" fill="#151515"/>
<circle cx="1072.0" cy="595.0" r="4.8" fill="#151515"/>
<circle cx="961.5" cy="617.5" r="4.8" fill="#151515"/>
<circle cx="1019.0" cy="623.5" r="4.8" fill="#151515"/>
<circle cx="1056.0" cy="623.5" r="4.8" fill="#151515"/>
<circle cx="1057.0" cy="631.0" r="4.8" fill="#151515"/>
<circle cx="1228.0" cy="591.0" r="4.8" fill="#151515"/>
<circle cx="1282.0" cy="568.0" r="4.8" fill="#151515"/>
<circle cx="1380.0" cy="578.5" r="4.8" fill="#151515"/>
<circle cx="1134.5" cy="638.0" r="4.8" fill="#151515"/>
<circle cx="1572.5" cy="618.5" r="4.8" fill="#151515"/>
<circle cx="1032.0" cy="699.5" r="4.8" fill="#151515"/>
<circle cx="1512.0" cy="690.0" r="4.8" fill="#151515"/>
<circle cx="1437.0" cy="741.5" r="4.8" fill="#151515"/>
<circle cx="1477.0" cy="745.0" r="4.8" fill="#151515"/>
<circle cx="913.0" cy="797.5" r="4.8" fill="#151515"/>
<circle cx="1066.0" cy="799.0" r="4.8" fill="#151515"/>
<circle cx="1216.0" cy="800.0" r="4.8" fill="#151515"/>
<circle cx="1187.0" cy="930.6" r="4.8" fill="#151515"/>
<circle cx="1649.0" cy="770.0" r="4.8" fill="#151515"/>
<text x="400.8" y="160.0" font-size="36" letter-spacing="1.3">台试8</text>
<text x="585.8" y="191.5" font-size="36" letter-spacing="2.6">台4–1</text>
<text x="197.8" y="335.0" font-size="36" letter-spacing="2.6">台6–5</text>
<text x="460.8" y="368.0" font-size="36" letter-spacing="1.3">台5-15</text>
<text x="377.8" y="390.0" font-size="36" letter-spacing="1.3">台4-5</text>
<text x="567.8" y="394.0" font-size="36" letter-spacing="1.3">台5-2</text>
<text x="676.8" y="492.0" font-size="36" letter-spacing="1.3">台3-13</text>
<text x="787.8" y="471.0" font-size="36" letter-spacing="1.3">台4-34</text>
<text x="277.8" y="515.0" font-size="36" letter-spacing="1.3">台6-13</text>
<text x="845.8" y="309.0" font-size="36" letter-spacing="1.3">台6-3</text>
<text x="534.8" y="550.0" font-size="36" letter-spacing="1.3">台4-65</text>
<text x="675.8" y="541.5" font-size="36" letter-spacing="1.3">台5-27</text>
<text x="825.8" y="540.0" font-size="36" letter-spacing="1.3">台试5</text>
<text x="355.8" y="569.0" font-size="36" letter-spacing="1.3">台南2</text>
<text x="646.8" y="595.0" font-size="36" letter-spacing="1.3">台6-51</text>
<text x="703.3" y="633.0" font-size="36" letter-spacing="1.3">台7-2</text>
<text x="503.3" y="666.5" font-size="36" letter-spacing="1.3">台6-36</text>
<text x="729.8" y="734.0" font-size="36" letter-spacing="1.3">台6-37</text>
<text x="842.5" y="683.0" font-size="36" letter-spacing="1.3">台5-9</text>
<text x="832.5" y="616.7" font-size="36" letter-spacing="1.3">台4-48</text>
<text x="955.8" y="615.0" font-size="36" letter-spacing="1.3">台试7</text>
<text x="1020.8" y="577.0" font-size="36" letter-spacing="1.3">台1-4</text>
<text x="987.5" y="508.0" font-size="36" letter-spacing="1.3">台5-20</text>
<text x="1071.3" y="387.5" font-size="36" letter-spacing="1.3">台6-4</text>
<text x="1114.8" y="487.5" font-size="36" letter-spacing="1.3">台5-14</text>
<text x="1332.8" y="569.0" font-size="36" letter-spacing="1.3">台5-6</text>
<text x="1513.8" y="611.5" font-size="36" letter-spacing="1.3">台6-12</text>
<text x="852.5" y="783.0" font-size="36" letter-spacing="1.3">台6-21</text>
<text x="1002.5" y="790.0" font-size="36" letter-spacing="1.3">台6-38</text>
<text x="1151.3" y="790.0" font-size="36" letter-spacing="1.3">台6-18</text>
<text x="1136.3" y="916.5" font-size="36" letter-spacing="1.3">台南8</text>
<text x="1595.8" y="756.0" font-size="36" letter-spacing="1.3">台南4</text>
<text x="19.5" y="61.0" font-size="53.5" letter-spacing="2.4">(a)</text>
<text x="0" y="0" font-size="47.5" text-anchor="middle" transform="translate(1698.6 57.5) scale(1.1 1)">N</text>
<path d="M1699.3 167.0L1699.3 72.5L1719.5 104.5L1689.4 126.7" fill="none" stroke="#1a1a1a" stroke-width="4.2" stroke-linejoin="miter" stroke-miterlimit="10"/>
<text x="1599.3" y="227.6" font-size="41" text-anchor="middle">0</text>
<text x="1700.5" y="227.6" font-size="41" text-anchor="middle" letter-spacing="1">500</text>
<text x="1845" y="227.6" font-size="41" text-anchor="middle" letter-spacing="1">1 000 m</text>
<rect x="1596" y="239.5" width="103.3" height="15.3" fill="#1a1a1a"/>
<rect x="1698.3" y="240.5" width="96.2" height="13.3" fill="#fff" stroke="#1a1a1a" stroke-width="2"/>
<rect x="3.0" y="1.5" width="1960.0" height="1050.3" fill="none" stroke="#1a1a1a" stroke-width="4.2"/>
</g>
<g id="b">
<clipPath id="clip_b"><path d="M480.0 1128.0C503.1 1127.2 526.9 1128.4 550.0 1130.0C583.1 1132.3 617.1 1135.7 650.0 1140.0C675.9 1143.4 702.4 1148.4 728.0 1153.5C753.2 1158.5 779.0 1164.7 804.0 1170.5C822.2 1174.7 840.9 1179.0 859.0 1183.7C877.2 1188.4 895.9 1193.8 914.0 1199.0C932.2 1204.3 950.9 1209.8 969.0 1215.5C982.6 1219.7 996.5 1224.3 1010.0 1229.0C1034.1 1237.4 1059.0 1245.9 1082.9 1255.0C1102.9 1262.6 1123.1 1271.3 1142.9 1279.4C1166.5 1289.1 1190.8 1299.1 1214.3 1309.0C1237.9 1318.9 1262.1 1329.3 1285.7 1339.3C1309.2 1349.3 1333.6 1359.4 1357.0 1369.6C1380.7 1380.0 1405.0 1391.2 1428.6 1401.8C1447.2 1410.1 1466.5 1418.4 1485.0 1427.0C1502.3 1435.0 1520.0 1443.4 1537.0 1452.0C1559.3 1463.2 1581.8 1475.7 1604.0 1487.0C1617.4 1493.8 1631.9 1499.6 1645.0 1507.0C1661.9 1516.5 1678.6 1527.7 1695.0 1538.0C1712.7 1549.1 1730.8 1561.0 1748.6 1572.0C1766.1 1582.8 1784.6 1593.3 1802.0 1604.3C1820.0 1615.7 1838.5 1627.5 1855.7 1640.0C1869.2 1649.8 1882.6 1660.8 1895.0 1672.0C1905.0 1681.0 1915.1 1690.6 1923.6 1701.0C1931.0 1710.1 1937.9 1720.4 1943.0 1731.0C1948.1 1741.7 1951.5 1753.5 1954.0 1765.0C1957.8 1782.9 1960.3 1801.7 1962.0 1820.0C1962.9 1829.9 1962.8 1840.1 1962.0 1850.0C1961.2 1860.0 1960.2 1870.5 1957.0 1880.0C1951.9 1895.4 1947.0 1912.2 1937.0 1925.0C1923.4 1942.5 1904.3 1956.1 1887.0 1970.0C1871.3 1982.6 1853.9 1994.0 1837.0 2005.0C1820.9 2015.5 1803.9 2025.7 1787.0 2035.0C1770.8 2043.9 1753.8 2052.4 1737.0 2060.0C1720.8 2067.3 1703.8 2074.1 1687.0 2080.0C1670.7 2085.7 1653.6 2090.4 1637.0 2095.0C1620.6 2099.5 1603.6 2103.8 1587.0 2107.5C1570.6 2111.2 1553.5 2114.3 1537.0 2117.5C1520.5 2120.7 1503.5 2123.9 1487.0 2127.0C1470.5 2130.1 1453.5 2133.5 1437.0 2136.5C1420.5 2139.5 1403.5 2142.1 1387.0 2145.0C1370.5 2147.9 1353.6 2151.5 1337.0 2154.0C1320.6 2156.5 1303.5 2158.2 1287.0 2160.0C1270.5 2161.8 1253.5 2163.9 1237.0 2165.0C1214.9 2166.4 1192.1 2167.0 1170.0 2167.5C1137.0 2168.3 1103.0 2169.1 1070.0 2169.0C1048.2 2168.9 1025.8 2168.0 1004.0 2167.0C980.5 2165.9 956.3 2164.3 932.9 2162.5C914.0 2161.0 894.5 2159.1 875.7 2157.0C859.2 2155.2 842.2 2153.1 825.7 2150.7C802.0 2147.2 777.5 2143.6 754.0 2139.0C730.4 2134.4 706.2 2128.8 682.9 2123.0C659.2 2117.1 634.8 2110.6 611.4 2103.6C595.6 2098.9 579.7 2092.7 564.0 2087.5C540.6 2079.7 516.1 2072.7 493.0 2064.0C469.0 2055.0 444.6 2044.9 421.4 2034.0C397.3 2022.6 373.0 2009.9 350.0 1996.4C325.8 1982.2 301.1 1966.9 278.6 1950.0C253.8 1931.4 229.7 1910.2 207.0 1889.0C194.3 1877.1 182.6 1863.3 171.4 1850.0C157.9 1833.9 143.4 1817.6 132.0 1800.0C119.8 1781.2 110.3 1759.9 100.0 1740.0C89.8 1720.3 79.9 1699.8 70.0 1680.0C61.8 1663.5 52.6 1646.8 45.0 1630.0C37.7 1613.8 30.1 1597.0 25.0 1580.0C20.2 1563.9 17.6 1546.6 15.0 1530.0C12.0 1510.3 7.6 1489.9 8.0 1470.0C8.3 1453.2 12.6 1436.2 17.0 1420.0C21.6 1403.1 27.4 1385.8 35.0 1370.0C43.3 1352.7 53.1 1335.1 65.0 1320.0C78.0 1303.5 93.9 1288.5 110.0 1275.0C130.3 1257.9 152.7 1241.9 175.0 1227.5C198.9 1212.1 224.4 1197.4 250.0 1185.0C274.0 1173.4 299.7 1163.4 325.0 1155.0C349.3 1146.9 374.8 1139.4 400.0 1135.0C426.1 1130.5 453.5 1128.9 480.0 1128.0Z"/></clipPath>
<path fill="#F7F285" d="M480.0 1128.0C503.1 1127.2 526.9 1128.4 550.0 1130.0C583.1 1132.3 617.1 1135.7 650.0 1140.0C675.9 1143.4 702.4 1148.4 728.0 1153.5C753.2 1158.5 779.0 1164.7 804.0 1170.5C822.2 1174.7 840.9 1179.0 859.0 1183.7C877.2 1188.4 895.9 1193.8 914.0 1199.0C932.2 1204.3 950.9 1209.8 969.0 1215.5C982.6 1219.7 996.5 1224.3 1010.0 1229.0C1034.1 1237.4 1059.0 1245.9 1082.9 1255.0C1102.9 1262.6 1123.1 1271.3 1142.9 1279.4C1166.5 1289.1 1190.8 1299.1 1214.3 1309.0C1237.9 1318.9 1262.1 1329.3 1285.7 1339.3C1309.2 1349.3 1333.6 1359.4 1357.0 1369.6C1380.7 1380.0 1405.0 1391.2 1428.6 1401.8C1447.2 1410.1 1466.5 1418.4 1485.0 1427.0C1502.3 1435.0 1520.0 1443.4 1537.0 1452.0C1559.3 1463.2 1581.8 1475.7 1604.0 1487.0C1617.4 1493.8 1631.9 1499.6 1645.0 1507.0C1661.9 1516.5 1678.6 1527.7 1695.0 1538.0C1712.7 1549.1 1730.8 1561.0 1748.6 1572.0C1766.1 1582.8 1784.6 1593.3 1802.0 1604.3C1820.0 1615.7 1838.5 1627.5 1855.7 1640.0C1869.2 1649.8 1882.6 1660.8 1895.0 1672.0C1905.0 1681.0 1915.1 1690.6 1923.6 1701.0C1931.0 1710.1 1937.9 1720.4 1943.0 1731.0C1948.1 1741.7 1951.5 1753.5 1954.0 1765.0C1957.8 1782.9 1960.3 1801.7 1962.0 1820.0C1962.9 1829.9 1962.8 1840.1 1962.0 1850.0C1961.2 1860.0 1960.2 1870.5 1957.0 1880.0C1951.9 1895.4 1947.0 1912.2 1937.0 1925.0C1923.4 1942.5 1904.3 1956.1 1887.0 1970.0C1871.3 1982.6 1853.9 1994.0 1837.0 2005.0C1820.9 2015.5 1803.9 2025.7 1787.0 2035.0C1770.8 2043.9 1753.8 2052.4 1737.0 2060.0C1720.8 2067.3 1703.8 2074.1 1687.0 2080.0C1670.7 2085.7 1653.6 2090.4 1637.0 2095.0C1620.6 2099.5 1603.6 2103.8 1587.0 2107.5C1570.6 2111.2 1553.5 2114.3 1537.0 2117.5C1520.5 2120.7 1503.5 2123.9 1487.0 2127.0C1470.5 2130.1 1453.5 2133.5 1437.0 2136.5C1420.5 2139.5 1403.5 2142.1 1387.0 2145.0C1370.5 2147.9 1353.6 2151.5 1337.0 2154.0C1320.6 2156.5 1303.5 2158.2 1287.0 2160.0C1270.5 2161.8 1253.5 2163.9 1237.0 2165.0C1214.9 2166.4 1192.1 2167.0 1170.0 2167.5C1137.0 2168.3 1103.0 2169.1 1070.0 2169.0C1048.2 2168.9 1025.8 2168.0 1004.0 2167.0C980.5 2165.9 956.3 2164.3 932.9 2162.5C914.0 2161.0 894.5 2159.1 875.7 2157.0C859.2 2155.2 842.2 2153.1 825.7 2150.7C802.0 2147.2 777.5 2143.6 754.0 2139.0C730.4 2134.4 706.2 2128.8 682.9 2123.0C659.2 2117.1 634.8 2110.6 611.4 2103.6C595.6 2098.9 579.7 2092.7 564.0 2087.5C540.6 2079.7 516.1 2072.7 493.0 2064.0C469.0 2055.0 444.6 2044.9 421.4 2034.0C397.3 2022.6 373.0 2009.9 350.0 1996.4C325.8 1982.2 301.1 1966.9 278.6 1950.0C253.8 1931.4 229.7 1910.2 207.0 1889.0C194.3 1877.1 182.6 1863.3 171.4 1850.0C157.9 1833.9 143.4 1817.6 132.0 1800.0C119.8 1781.2 110.3 1759.9 100.0 1740.0C89.8 1720.3 79.9 1699.8 70.0 1680.0C61.8 1663.5 52.6 1646.8 45.0 1630.0C37.7 1613.8 30.1 1597.0 25.0 1580.0C20.2 1563.9 17.6 1546.6 15.0 1530.0C12.0 1510.3 7.6 1489.9 8.0 1470.0C8.3 1453.2 12.6 1436.2 17.0 1420.0C21.6 1403.1 27.4 1385.8 35.0 1370.0C43.3 1352.7 53.1 1335.1 65.0 1320.0C78.0 1303.5 93.9 1288.5 110.0 1275.0C130.3 1257.9 152.7 1241.9 175.0 1227.5C198.9 1212.1 224.4 1197.4 250.0 1185.0C274.0 1173.4 299.7 1163.4 325.0 1155.0C349.3 1146.9 374.8 1139.4 400.0 1135.0C426.1 1130.5 453.5 1128.9 480.0 1128.0Z"/>
<path fill="#E8D3B0" d="M1604.5 1480.0C1605.3 1486.7 1605.7 1493.5 1607.0 1500.0C1609.0 1510.0 1612.0 1520.1 1614.5 1530.0C1618.6 1546.5 1622.5 1563.6 1627.0 1580.0C1631.6 1596.6 1637.4 1613.4 1642.0 1630.0C1646.5 1646.4 1651.0 1663.4 1654.5 1680.0C1657.3 1693.1 1660.2 1706.7 1661.0 1720.0C1661.8 1733.2 1660.9 1746.9 1659.5 1760.0C1658.6 1768.4 1656.1 1776.8 1654.0 1785.0C1652.0 1792.7 1650.5 1800.9 1647.0 1808.0C1641.5 1819.2 1634.8 1830.3 1627.0 1840.0C1619.8 1849.0 1610.7 1856.7 1602.0 1864.3C1590.6 1874.2 1578.7 1884.1 1566.4 1892.9C1553.9 1901.9 1540.3 1910.1 1527.0 1917.9C1514.3 1925.4 1500.9 1932.5 1487.9 1939.3C1473.9 1946.6 1459.5 1954.4 1445.0 1960.7C1426.2 1968.8 1406.4 1976.4 1387.0 1983.0C1365.8 1990.2 1343.5 1996.2 1322.0 2002.5C1304.9 2007.6 1287.3 2013.2 1270.0 2017.5C1253.7 2021.5 1236.6 2024.6 1220.0 2027.5C1203.6 2030.4 1186.6 2032.9 1170.0 2035.0C1153.5 2037.1 1136.5 2038.3 1120.0 2040.0C1103.5 2041.7 1086.3 2042.1 1070.0 2045.0C1053.2 2047.9 1036.1 2051.9 1020.0 2057.5C1002.9 2063.5 986.0 2071.6 970.0 2080.0C956.2 2087.3 942.7 2096.0 930.0 2105.0C919.5 2112.5 909.9 2121.7 900.0 2130.0C892.6 2136.2 885.0 2142.7 877.5 2149.0C875.0 2166.0 872.5 2183.0 870.0 2200.0C1246.7 2200.0 1623.3 2200.0 2000.0 2200.0C2000.0 1956.7 2000.0 1713.3 2000.0 1470.0C1868.2 1473.3 1736.3 1476.7 1604.5 1480.0Z" clip-path="url(#clip_b)"/>
<path fill="#E8D3B0" d="M1000.0 1215.0C1031.7 1226.7 1063.3 1238.3 1095.0 1250.0C1083.3 1261.7 1071.1 1273.0 1060.0 1285.0C1049.6 1296.1 1039.9 1308.5 1030.0 1320.0C1020.1 1331.5 1010.0 1343.5 1000.0 1355.0C993.5 1362.5 987.9 1371.5 980.0 1377.5C974.4 1381.7 967.0 1384.6 960.0 1385.0C953.2 1385.4 945.2 1384.4 940.0 1380.0C934.3 1375.3 930.0 1367.4 930.0 1360.0C930.0 1349.6 935.3 1339.3 940.0 1330.0C947.0 1316.1 956.8 1303.2 965.0 1290.0C973.2 1276.8 983.4 1264.1 990.0 1250.0C995.1 1239.1 996.7 1226.7 1000.0 1215.0Z" clip-path="url(#clip_b)"/>
<path fill="#E8D3B0" d="M670.5 1452.0C670.5 1455.5 669.7 1459.3 668.2 1462.5C666.8 1465.5 664.7 1468.3 662.0 1470.2C659.6 1471.9 656.5 1473.0 653.5 1473.0C650.5 1473.0 647.4 1471.9 645.0 1470.2C642.3 1468.3 640.2 1465.5 638.8 1462.5C637.3 1459.3 636.5 1455.5 636.5 1452.0C636.5 1448.5 637.3 1444.7 638.8 1441.5C640.2 1438.5 642.3 1435.7 645.0 1433.8C647.4 1432.1 650.5 1431.0 653.5 1431.0C656.5 1431.0 659.6 1432.1 662.0 1433.8C664.7 1435.7 666.8 1438.5 668.2 1441.5C669.7 1444.7 670.5 1448.5 670.5 1452.0Z"/>
<path fill="#E8D3B0" d="M790.5 1501.0C790.5 1505.0 789.6 1509.3 788.0 1513.0C786.4 1516.4 784.0 1519.6 781.0 1521.8C778.3 1523.7 774.8 1525.0 771.5 1525.0C768.2 1525.0 764.7 1523.7 762.0 1521.8C759.0 1519.6 756.6 1516.4 755.0 1513.0C753.4 1509.3 752.5 1505.0 752.5 1501.0C752.5 1497.0 753.4 1492.7 755.0 1489.0C756.6 1485.6 759.0 1482.4 762.0 1480.2C764.7 1478.3 768.2 1477.0 771.5 1477.0C774.8 1477.0 778.3 1478.3 781.0 1480.2C784.0 1482.4 786.4 1485.6 788.0 1489.0C789.6 1492.7 790.5 1497.0 790.5 1501.0Z"/>
<path fill="#E8D3B0" d="M362.5 1700.0C362.5 1693.0 364.3 1684.2 370.0 1680.0C378.2 1674.0 389.8 1672.5 400.0 1672.5C411.8 1672.5 425.3 1673.2 435.0 1680.0C442.4 1685.2 445.7 1696.0 446.5 1705.0C447.4 1715.1 445.1 1726.3 440.0 1735.0C435.8 1742.1 428.0 1748.0 420.0 1750.0C410.4 1752.4 399.2 1751.2 390.0 1747.5C381.9 1744.2 374.4 1737.6 370.0 1730.0C364.9 1721.2 362.5 1710.2 362.5 1700.0Z"/>
<path fill="#E8D3B0" d="M709.0 1686.5C709.0 1689.2 707.4 1692.1 705.5 1694.0C703.0 1696.6 699.4 1698.3 696.0 1699.5C691.9 1700.9 687.3 1701.5 683.0 1701.5C678.7 1701.5 674.1 1700.9 670.0 1699.5C666.6 1698.3 663.0 1696.6 660.5 1694.0C658.6 1692.1 657.0 1689.2 657.0 1686.5C657.0 1683.8 658.6 1680.9 660.5 1679.0C663.0 1676.4 666.6 1674.7 670.0 1673.5C674.1 1672.1 678.7 1671.5 683.0 1671.5C687.3 1671.5 691.9 1672.1 696.0 1673.5C699.4 1674.7 703.0 1676.4 705.5 1679.0C707.4 1680.9 709.0 1683.8 709.0 1686.5Z"/>
<path fill="#E8D3B0" d="M691.7 1775.0C690.8 1768.5 694.8 1761.0 700.0 1757.0C706.8 1751.7 716.3 1749.4 725.0 1749.0C732.8 1748.7 741.5 1750.6 748.0 1755.0C754.8 1759.7 761.1 1767.0 763.0 1775.0C764.4 1781.1 761.7 1788.8 757.0 1793.0C751.3 1798.1 742.6 1799.7 735.0 1800.0C725.0 1800.4 713.7 1800.0 705.0 1795.0C698.1 1791.0 692.7 1782.9 691.7 1775.0Z"/>
<path fill="#E8D3B0" d="M1296.8 1683.5C1296.8 1688.6 1295.4 1694.0 1293.0 1698.5C1290.6 1702.9 1286.8 1706.9 1282.5 1709.5C1278.4 1712.0 1273.2 1713.5 1268.3 1713.5C1263.4 1713.5 1258.2 1712.0 1254.0 1709.5C1249.8 1706.9 1246.0 1702.9 1243.6 1698.5C1241.2 1694.0 1239.8 1688.6 1239.8 1683.5C1239.8 1678.4 1241.2 1673.0 1243.6 1668.5C1246.0 1664.1 1249.8 1660.1 1254.0 1657.5C1258.2 1655.0 1263.4 1653.5 1268.3 1653.5C1273.2 1653.5 1278.4 1655.0 1282.5 1657.5C1286.8 1660.1 1290.6 1664.1 1293.0 1668.5C1295.4 1673.0 1296.8 1678.4 1296.8 1683.5Z"/>
<path fill="#E8D3B0" d="M1226.7 1722.7C1226.7 1726.3 1225.7 1730.1 1223.9 1733.2C1222.1 1736.3 1219.3 1739.1 1216.2 1740.9C1213.1 1742.7 1209.3 1743.7 1205.7 1743.7C1202.1 1743.7 1198.3 1742.7 1195.2 1740.9C1192.1 1739.1 1189.3 1736.3 1187.5 1733.2C1185.7 1730.1 1184.7 1726.3 1184.7 1722.7C1184.7 1719.1 1185.7 1715.3 1187.5 1712.2C1189.3 1709.1 1192.1 1706.3 1195.2 1704.5C1198.3 1702.7 1202.1 1701.7 1205.7 1701.7C1209.3 1701.7 1213.1 1702.7 1216.2 1704.5C1219.3 1706.3 1222.1 1709.1 1223.9 1712.2C1225.7 1715.3 1226.7 1719.1 1226.7 1722.7Z"/>
<path fill="#E8D3B0" d="M1377.0 1700.0C1379.5 1694.6 1382.0 1688.3 1387.0 1685.0C1393.6 1680.6 1402.1 1678.8 1410.0 1678.0C1418.9 1677.1 1428.5 1677.2 1437.0 1680.0C1446.1 1683.0 1454.8 1688.6 1462.0 1695.0C1469.9 1702.0 1476.8 1710.8 1482.0 1720.0C1484.5 1724.4 1486.2 1730.3 1484.5 1735.0C1482.5 1740.5 1477.5 1745.5 1472.0 1747.5C1461.1 1751.5 1448.7 1752.5 1437.0 1752.5C1425.3 1752.5 1413.0 1751.3 1402.0 1747.5C1393.6 1744.6 1385.4 1739.2 1379.5 1732.5C1375.4 1727.9 1373.5 1721.1 1373.0 1715.0C1372.6 1709.9 1374.8 1704.6 1377.0 1700.0Z"/>
<path fill="#E8D3B0" d="M1157.0 1879.0C1157.0 1884.3 1155.5 1889.9 1152.8 1894.5C1150.2 1899.1 1146.1 1903.2 1141.5 1905.8C1136.9 1908.5 1131.3 1910.0 1126.0 1910.0C1120.7 1910.0 1115.1 1908.5 1110.5 1905.8C1105.9 1903.2 1101.8 1899.1 1099.2 1894.5C1096.5 1889.9 1095.0 1884.3 1095.0 1879.0C1095.0 1873.7 1096.5 1868.1 1099.2 1863.5C1101.8 1858.9 1105.9 1854.8 1110.5 1852.2C1115.1 1849.5 1120.7 1848.0 1126.0 1848.0C1131.3 1848.0 1136.9 1849.5 1141.5 1852.2C1146.1 1854.8 1150.2 1858.9 1152.8 1863.5C1155.5 1868.1 1157.0 1873.7 1157.0 1879.0Z"/>
<path fill="#FCC055" d="M531.5 1256.5C512.7 1258.2 493.6 1259.1 475.0 1261.5C458.4 1263.6 441.4 1266.8 425.0 1270.0C410.1 1272.9 394.2 1274.7 380.0 1280.0C367.5 1284.7 354.4 1290.6 345.0 1300.0C337.2 1307.8 334.0 1319.7 330.0 1330.0C325.7 1341.2 325.4 1354.3 320.0 1365.0C315.3 1374.4 307.8 1382.9 300.0 1390.0C289.5 1399.5 276.8 1407.1 265.0 1415.0C254.3 1422.2 241.2 1426.7 232.0 1435.7C225.2 1442.3 221.6 1452.0 217.9 1460.7C214.5 1468.6 211.6 1477.2 210.7 1485.7C209.8 1495.1 210.8 1505.0 212.5 1514.3C214.3 1524.0 218.2 1533.5 221.4 1542.9C224.6 1552.4 228.5 1562.0 232.0 1571.4C235.6 1580.9 239.7 1590.4 242.9 1600.0C243.9 1602.9 244.0 1606.0 244.6 1609.0C245.2 1603.6 245.3 1598.1 246.4 1592.9C248.3 1583.4 250.7 1573.6 253.6 1564.3C256.6 1554.7 260.0 1544.8 264.3 1535.7C268.3 1527.1 273.1 1518.4 278.6 1510.7C284.9 1501.9 293.2 1494.2 300.0 1485.7C307.4 1476.5 314.3 1466.4 321.4 1457.0C328.5 1447.6 336.7 1438.6 342.9 1428.6C348.5 1419.7 351.4 1408.9 357.0 1400.0C360.5 1394.4 366.8 1390.7 370.0 1385.0C376.1 1374.0 378.4 1360.7 385.0 1350.0C391.8 1339.0 400.3 1328.5 410.0 1320.0C422.0 1309.4 436.0 1300.3 450.0 1292.5C465.8 1283.7 483.4 1277.3 500.0 1270.0C510.3 1265.4 521.0 1261.0 531.5 1256.5Z"/>
<path fill="#EE7C2D" d="M414.0 1291.5C402.7 1292.7 390.7 1291.3 380.0 1295.0C372.2 1297.7 365.1 1303.5 360.0 1310.0C353.2 1318.7 349.0 1329.7 345.0 1340.0C340.7 1351.2 341.4 1364.9 335.0 1375.0C328.4 1385.5 316.6 1392.1 307.0 1400.0C297.9 1407.5 287.7 1414.1 278.6 1421.4C270.1 1428.2 260.6 1434.6 253.6 1442.9C247.5 1450.2 242.4 1458.9 239.3 1467.9C237.0 1474.6 236.3 1482.3 237.5 1489.3C238.8 1496.8 243.3 1503.7 246.4 1510.7C248.8 1516.1 251.7 1521.4 254.3 1526.8C257.0 1520.2 259.3 1513.3 262.5 1507.0C266.2 1499.7 270.5 1492.5 275.0 1485.7C280.6 1477.2 286.6 1468.7 292.9 1460.7C299.6 1452.2 307.6 1444.3 314.3 1435.7C320.5 1427.7 325.3 1418.3 332.0 1410.7C337.2 1404.8 344.7 1400.8 350.0 1395.0C354.0 1390.6 357.3 1385.3 360.0 1380.0C365.6 1368.8 369.4 1356.2 375.0 1345.0C379.3 1336.4 384.3 1327.8 390.0 1320.0C397.2 1310.1 406.0 1301.0 414.0 1291.5Z"/>
<path fill="#FCC055" d="M210.7 1410.7C200.0 1413.1 188.8 1414.1 178.6 1417.9C169.7 1421.2 161.1 1426.2 153.6 1432.0C145.6 1438.1 138.6 1445.9 132.0 1453.6C124.4 1462.5 116.8 1472.0 110.7 1482.0C106.7 1488.6 102.5 1495.9 101.8 1503.6C101.2 1510.8 104.3 1518.2 107.0 1525.0C110.9 1534.8 116.9 1544.0 121.4 1553.6C126.4 1564.1 131.0 1575.1 135.7 1585.7C140.4 1596.3 145.1 1607.4 150.0 1617.9C152.1 1622.4 154.7 1626.9 157.0 1631.4C157.7 1625.7 158.8 1620.0 159.0 1614.3C159.4 1602.5 158.7 1590.4 159.0 1578.6C159.3 1566.8 159.2 1554.6 160.7 1542.9C162.1 1532.1 165.4 1521.3 167.9 1510.7C170.1 1501.2 172.1 1491.3 175.0 1482.0C178.0 1472.4 181.5 1462.7 185.7 1453.6C189.7 1445.0 195.2 1436.8 200.0 1428.6C203.5 1422.7 207.1 1416.7 210.7 1410.7Z"/>
<path fill="#FCC055" d="M425.0 1426.8C414.3 1428.5 403.2 1428.9 392.9 1432.0C385.3 1434.3 377.3 1437.6 371.4 1442.9C365.1 1448.6 360.6 1456.6 357.0 1464.3C353.4 1472.1 352.2 1481.0 350.0 1489.3C347.5 1498.7 346.1 1508.7 342.9 1517.9C339.0 1528.8 333.8 1539.6 328.6 1550.0C323.2 1560.8 315.4 1570.8 310.7 1582.0C306.4 1592.2 303.4 1603.4 301.8 1614.3C300.4 1623.6 300.3 1633.6 301.8 1642.9C303.3 1652.6 307.5 1662.1 310.7 1671.4C312.8 1677.6 314.8 1684.2 317.9 1690.0C321.2 1696.2 326.0 1701.7 330.0 1707.5C332.3 1705.0 335.0 1702.7 337.0 1700.0C339.3 1696.9 341.7 1693.6 342.9 1690.0C344.9 1684.1 345.2 1677.5 346.4 1671.4C348.1 1663.1 349.7 1654.6 351.8 1646.4C354.5 1635.7 357.3 1624.8 360.7 1614.3C363.8 1604.7 367.9 1595.1 371.4 1585.7C374.9 1576.2 379.0 1566.6 382.0 1557.0C384.9 1547.8 386.9 1538.0 389.3 1528.6C391.7 1519.2 394.0 1509.4 396.4 1500.0C398.8 1490.6 400.5 1480.6 403.6 1471.4C406.4 1462.9 410.4 1454.5 414.3 1446.4C417.5 1439.8 421.4 1433.3 425.0 1426.8Z"/>
<path fill="#FCC055" d="M473.3 1433.3C465.5 1438.9 457.5 1444.2 450.0 1450.0C443.2 1455.3 435.8 1460.3 430.0 1466.7C424.7 1472.6 419.8 1479.4 416.7 1486.7C413.6 1493.9 411.1 1502.2 411.7 1510.0C412.3 1518.1 417.0 1525.7 420.0 1533.3C423.1 1541.1 427.7 1548.6 430.0 1556.7C432.1 1564.2 431.4 1572.5 433.3 1580.0C435.3 1587.9 437.8 1596.1 441.7 1603.3C445.6 1610.6 451.6 1616.8 456.7 1623.3C460.1 1627.6 463.8 1631.8 467.3 1636.0C468.0 1632.9 468.9 1629.8 469.3 1626.7C470.4 1617.9 471.0 1608.8 471.7 1600.0C472.4 1591.2 472.8 1582.1 473.3 1573.3C473.8 1564.5 475.0 1555.5 475.0 1546.7C475.0 1537.9 474.7 1528.7 473.3 1520.0C472.0 1512.1 468.4 1504.5 466.7 1496.7C465.1 1489.1 463.3 1481.1 463.3 1473.3C463.3 1465.5 464.8 1457.5 466.7 1450.0C468.1 1444.3 471.1 1438.9 473.3 1433.3Z"/>
<path fill="#EE7C2D" d="M451.7 1488.3C445.6 1493.3 438.5 1497.4 433.3 1503.3C430.0 1507.0 426.7 1511.8 426.7 1516.7C426.7 1523.7 430.8 1530.2 433.3 1536.7C436.3 1544.5 441.3 1551.9 443.3 1560.0C445.2 1567.5 443.5 1575.7 445.0 1583.3C446.3 1590.1 448.5 1597.1 451.7 1603.3C454.1 1607.8 458.4 1611.1 461.7 1615.0C462.2 1610.0 463.1 1605.0 463.3 1600.0C463.6 1593.4 463.3 1586.6 463.3 1580.0C463.3 1571.2 463.9 1562.1 463.3 1553.3C462.8 1545.6 461.6 1537.6 460.0 1530.0C458.3 1522.2 454.9 1514.5 453.3 1506.7C452.1 1500.7 452.2 1494.4 451.7 1488.3Z"/>
<path fill="#FCC055" d="M561.7 1385.0C554.5 1390.0 547.2 1395.1 540.0 1400.0C533.4 1404.5 525.9 1408.0 520.0 1413.3C514.8 1418.0 509.6 1423.6 506.7 1430.0C503.4 1437.2 502.0 1445.4 501.7 1453.3C501.4 1461.1 505.0 1468.9 505.0 1476.7C505.0 1484.5 503.1 1492.4 501.7 1500.0C500.3 1507.7 497.9 1515.5 496.7 1523.3C495.1 1533.1 494.2 1543.4 493.3 1553.3C492.5 1562.1 492.2 1571.2 491.7 1580.0C491.2 1588.8 490.8 1597.9 490.0 1606.7C489.2 1615.5 488.1 1624.6 486.7 1633.3C485.6 1640.5 484.3 1647.9 482.5 1655.0C480.4 1663.4 475.0 1671.4 475.0 1680.0C475.0 1690.2 479.3 1700.3 482.5 1710.0C485.9 1720.2 490.8 1730.0 495.0 1740.0C496.7 1730.0 497.6 1719.7 500.0 1710.0C502.5 1699.9 506.7 1689.9 510.0 1680.0C513.3 1670.1 516.9 1660.0 520.0 1650.0C522.4 1642.4 525.1 1634.5 526.7 1626.7C528.4 1618.0 528.9 1608.8 530.0 1600.0C531.1 1591.2 533.0 1582.2 533.3 1573.3C533.6 1564.5 531.7 1555.5 531.7 1546.7C531.7 1537.9 532.2 1528.8 533.3 1520.0C534.4 1511.1 536.5 1502.1 538.3 1493.3C539.8 1485.6 542.2 1477.8 543.3 1470.0C544.4 1462.4 545.0 1454.4 545.0 1446.7C545.0 1439.0 542.5 1431.0 543.3 1423.3C544.2 1415.3 546.5 1407.2 550.0 1400.0C552.7 1394.3 557.8 1390.0 561.7 1385.0Z"/>
<path fill="#EE7C2D" d="M531.7 1465.0C526.7 1470.0 520.3 1474.0 516.7 1480.0C512.4 1487.0 510.4 1495.4 508.3 1503.3C506.0 1512.0 504.3 1521.1 503.3 1530.0C502.2 1539.8 501.7 1550.1 501.7 1560.0C501.7 1568.8 503.3 1577.9 503.3 1586.7C503.3 1595.5 502.5 1604.5 501.7 1613.3C500.8 1623.2 496.8 1633.4 498.3 1643.3C499.4 1650.5 505.4 1656.1 509.0 1662.5C510.7 1656.7 512.5 1650.8 514.0 1645.0C515.0 1641.2 516.1 1637.2 516.7 1633.3C517.8 1625.7 518.5 1617.7 519.0 1610.0C519.5 1602.3 519.8 1594.4 520.0 1586.7C520.2 1577.9 519.7 1568.8 520.0 1560.0C520.3 1551.2 520.6 1542.1 521.7 1533.3C522.8 1524.4 524.9 1515.5 526.7 1506.7C528.2 1499.0 530.8 1491.1 531.7 1483.3C532.4 1477.3 531.7 1471.1 531.7 1465.0Z"/>
<path fill="#FCC055" d="M650.0 1307.5C640.0 1311.7 628.2 1313.1 620.0 1320.0C612.6 1326.2 609.0 1336.2 605.0 1345.0C600.7 1354.5 601.1 1366.5 595.0 1375.0C592.0 1379.2 583.7 1376.3 580.0 1380.0C574.8 1385.2 572.4 1393.0 570.0 1400.0C567.4 1407.4 565.6 1415.5 565.0 1423.3C564.5 1431.0 564.2 1439.4 566.7 1446.7C569.3 1454.2 575.2 1460.4 580.0 1466.7C585.2 1473.6 592.3 1479.3 596.7 1486.7C599.6 1491.6 601.7 1497.6 601.7 1503.3C601.7 1509.1 598.5 1514.5 596.7 1520.0C594.3 1527.6 591.7 1535.5 589.0 1543.0C586.2 1550.9 583.4 1559.1 580.0 1566.7C576.0 1575.7 570.6 1584.3 566.7 1593.3C562.9 1601.9 559.4 1611.0 556.7 1620.0C554.4 1627.5 552.0 1635.4 551.7 1643.3C551.4 1652.2 551.5 1661.8 555.0 1670.0C558.7 1678.7 566.7 1685.0 572.5 1692.5C575.8 1685.0 580.1 1677.8 582.5 1670.0C584.3 1664.3 584.0 1657.9 585.0 1652.0C586.5 1642.5 587.5 1632.6 590.0 1623.3C592.5 1614.2 596.2 1605.3 600.0 1596.7C603.9 1587.7 608.7 1578.7 613.3 1570.0C617.5 1562.2 622.3 1554.4 626.7 1546.7C631.1 1539.0 636.3 1531.4 640.0 1523.3C642.9 1517.0 646.1 1510.2 646.7 1503.3C647.2 1497.7 645.6 1491.8 643.3 1486.7C640.0 1479.5 634.0 1473.5 630.0 1466.7C626.3 1460.3 622.6 1453.6 620.0 1446.7C617.1 1439.2 614.7 1431.2 613.3 1423.3C612.0 1415.7 611.7 1407.7 611.7 1400.0C611.7 1393.4 612.0 1386.5 613.3 1380.0C614.7 1373.2 617.0 1366.3 620.0 1360.0C624.2 1351.3 630.2 1343.4 635.0 1335.0C640.1 1326.0 645.0 1316.7 650.0 1307.5Z"/>
<path fill="#EE7C2D" d="M601.7 1391.7C595.6 1397.8 588.7 1403.4 583.3 1410.0C579.3 1415.0 574.4 1420.4 573.3 1426.7C572.1 1433.3 574.1 1440.5 576.7 1446.7C579.8 1454.0 585.3 1460.3 590.0 1466.7C594.1 1472.4 599.9 1477.1 603.3 1483.3C606.6 1489.4 609.4 1496.4 610.0 1503.3C610.5 1508.9 608.4 1514.7 606.7 1520.0C604.1 1527.8 600.2 1535.4 597.0 1543.0C593.6 1550.8 590.3 1559.0 586.7 1566.7C582.5 1575.6 577.5 1584.4 573.3 1593.3C569.2 1602.0 564.7 1610.9 561.7 1620.0C559.2 1627.5 556.5 1635.4 556.7 1643.3C556.9 1651.7 559.8 1660.2 563.0 1668.0C565.6 1674.2 570.3 1679.3 574.0 1685.0C575.3 1680.7 577.2 1676.4 578.0 1672.0C579.2 1665.5 579.3 1658.6 580.0 1652.0C581.0 1642.5 581.1 1632.6 583.3 1623.3C585.5 1614.2 589.5 1605.3 593.3 1596.7C597.3 1587.7 602.3 1578.8 606.7 1570.0C610.0 1563.4 613.2 1556.5 616.7 1550.0C620.9 1542.2 626.3 1534.7 630.0 1526.7C632.9 1520.4 635.4 1513.5 636.7 1506.7C637.7 1501.3 638.3 1495.3 636.7 1490.0C634.9 1483.8 630.2 1478.7 626.7 1473.3C622.4 1466.6 617.3 1460.2 613.3 1453.3C609.6 1446.9 605.1 1440.5 603.3 1433.3C601.7 1426.9 603.6 1419.9 603.3 1413.3C603.0 1406.2 602.2 1398.9 601.7 1391.7Z"/>
<path fill="#FCC055" d="M820.0 1393.0C808.9 1394.2 797.4 1393.8 786.7 1396.7C776.2 1399.5 765.9 1404.3 756.7 1410.0C748.1 1415.4 740.2 1422.6 733.3 1430.0C725.8 1438.1 719.9 1447.9 713.3 1456.7C706.7 1465.5 699.8 1474.4 693.3 1483.3C687.7 1490.9 679.7 1497.7 676.7 1506.7C674.9 1512.0 676.3 1519.1 680.0 1523.3C684.9 1528.9 693.1 1530.8 700.0 1533.3C708.6 1536.4 718.0 1537.5 726.7 1540.0C735.0 1542.4 743.4 1545.5 751.7 1548.3C751.1 1540.0 750.9 1531.5 750.0 1523.3C749.2 1515.6 746.7 1507.8 746.7 1500.0C746.7 1492.2 747.6 1484.1 750.0 1476.7C753.1 1467.4 758.1 1458.4 763.3 1450.0C769.1 1440.7 775.8 1431.4 783.3 1423.3C790.2 1415.9 798.9 1409.8 806.7 1403.3C811.0 1399.8 815.6 1396.4 820.0 1393.0Z"/>
<path fill="#EE7C2D" d="M756.7 1423.3C748.9 1430.0 739.9 1435.6 733.3 1443.3C726.6 1451.2 721.1 1460.6 716.7 1470.0C713.3 1477.3 710.0 1485.3 710.0 1493.3C710.0 1499.2 713.8 1504.8 716.7 1510.0C718.8 1513.7 722.2 1516.7 725.0 1520.0C725.0 1516.7 724.5 1513.3 725.0 1510.0C726.1 1503.3 727.9 1496.5 730.0 1490.0C732.3 1483.2 735.5 1476.6 738.3 1470.0C741.6 1462.3 745.2 1454.5 748.3 1446.7C751.3 1439.1 753.9 1431.1 756.7 1423.3Z"/>
<path fill="#FCC055" d="M928.3 1385.0C918.9 1388.9 909.0 1392.1 900.0 1396.7C893.0 1400.3 884.8 1403.7 880.0 1410.0C875.9 1415.4 875.5 1423.2 875.0 1430.0C874.4 1438.8 877.0 1447.9 876.7 1456.7C876.4 1465.5 875.0 1474.6 873.3 1483.3C871.7 1491.2 867.4 1498.7 866.7 1506.7C866.2 1512.3 867.7 1518.2 870.0 1523.3C871.2 1525.8 874.5 1526.6 876.7 1528.3C878.9 1526.6 881.6 1525.5 883.3 1523.3C887.2 1518.2 890.8 1512.6 893.3 1506.7C896.4 1499.3 897.9 1491.1 900.0 1483.3C902.3 1474.6 904.5 1465.5 906.7 1456.7C908.9 1447.9 911.1 1438.8 913.3 1430.0C915.5 1421.2 917.1 1411.9 920.0 1403.3C922.1 1397.0 925.5 1391.1 928.3 1385.0Z"/>
<path fill="#FCC055" d="M1065.0 1446.7C1054.4 1448.4 1043.7 1449.8 1033.3 1451.7C1022.3 1453.7 1010.4 1454.1 1000.0 1458.3C992.4 1461.4 986.2 1467.9 980.0 1473.3C973.0 1479.4 967.1 1487.2 960.0 1493.3C951.6 1500.5 942.1 1506.7 933.3 1513.3C924.5 1519.9 914.5 1525.5 906.7 1533.3C898.9 1541.1 892.7 1550.7 886.7 1560.0C882.7 1566.2 877.2 1572.6 876.7 1580.0C876.0 1589.1 881.0 1597.9 883.3 1606.7C885.4 1614.4 887.0 1622.6 890.0 1630.0C891.5 1633.7 895.4 1636.2 896.7 1640.0C898.8 1646.3 900.6 1653.3 900.0 1660.0C899.4 1666.9 896.8 1674.0 893.3 1680.0C889.0 1687.4 882.8 1693.9 876.7 1700.0C870.6 1706.1 862.1 1710.0 856.7 1716.7C852.0 1722.4 849.8 1730.0 846.7 1736.7C843.2 1744.3 839.2 1752.0 836.7 1760.0C834.7 1766.4 832.2 1773.4 833.3 1780.0C834.5 1787.3 838.6 1794.3 843.3 1800.0C848.7 1806.7 856.9 1811.0 863.3 1816.7C867.9 1820.9 872.5 1825.4 876.7 1830.0C879.1 1832.6 881.1 1835.5 883.3 1838.3C881.1 1833.3 879.0 1828.2 876.7 1823.3C874.6 1818.9 870.6 1814.9 870.0 1810.0C869.4 1805.5 870.9 1800.5 873.3 1796.7C876.6 1791.4 883.0 1788.3 886.7 1783.3C889.6 1779.4 892.2 1774.8 893.3 1770.0C894.5 1764.6 892.8 1758.8 893.3 1753.3C893.9 1746.6 894.4 1739.6 896.7 1733.3C898.9 1727.3 903.0 1721.9 906.7 1716.7C910.7 1710.9 915.5 1705.5 920.0 1700.0C925.4 1693.3 931.2 1686.6 936.7 1680.0C942.2 1673.4 948.8 1667.3 953.3 1660.0C957.1 1653.9 960.0 1646.9 961.7 1640.0C962.3 1637.8 960.6 1635.5 960.0 1633.3C957.8 1625.6 953.3 1618.0 953.3 1610.0C953.3 1600.9 957.3 1592.0 960.0 1583.3C962.8 1574.4 966.2 1565.3 970.0 1556.7C973.9 1547.7 978.5 1538.6 983.3 1530.0C988.4 1520.9 993.8 1511.6 1000.0 1503.3C1007.0 1494.0 1014.7 1484.6 1023.3 1476.7C1030.3 1470.2 1039.0 1465.5 1046.7 1460.0C1052.8 1455.6 1058.9 1451.1 1065.0 1446.7Z"/>
<path fill="#EE7C2D" d="M956.7 1511.7C948.9 1516.7 940.9 1521.6 933.3 1526.7C925.5 1532.0 916.9 1536.9 910.0 1543.3C902.5 1550.2 895.4 1558.1 890.0 1566.7C887.6 1570.5 885.4 1575.7 886.7 1580.0C889.0 1587.6 895.2 1593.7 900.0 1600.0C905.2 1606.9 911.4 1613.2 916.7 1620.0C921.3 1625.9 925.6 1632.2 930.0 1638.3C928.9 1630.0 927.2 1621.6 926.7 1613.3C926.1 1604.5 925.6 1595.4 926.7 1586.7C927.8 1577.7 930.1 1568.5 933.3 1560.0C936.8 1550.8 942.4 1542.2 946.7 1533.3C950.1 1526.2 953.4 1518.9 956.7 1511.7Z"/>
<path fill="#EE7C2D" d="M901.7 1699.3C894.5 1702.9 886.0 1704.7 880.0 1710.0C874.0 1715.2 869.6 1722.6 866.7 1730.0C863.9 1737.2 865.6 1745.9 863.3 1753.3C861.1 1760.3 856.6 1766.7 853.3 1773.3C851.1 1777.7 846.1 1781.8 846.7 1786.7C847.4 1793.1 853.2 1797.9 856.7 1803.3C857.8 1805.1 859.4 1806.6 860.7 1808.3C861.6 1803.3 861.3 1797.9 863.3 1793.3C865.5 1788.3 869.4 1783.9 873.3 1780.0C877.2 1776.1 884.2 1774.9 886.7 1770.0C889.2 1765.1 886.7 1758.8 886.7 1753.3C886.7 1746.7 885.6 1739.8 886.7 1733.3C887.8 1726.4 890.5 1719.7 893.3 1713.3C895.5 1708.4 898.9 1704.0 901.7 1699.3Z"/>
<path fill="#FCC055" d="M820.0 1531.7C813.3 1534.5 806.2 1536.4 800.0 1540.0C793.9 1543.6 787.7 1547.8 783.3 1553.3C778.7 1559.1 775.7 1566.3 773.3 1573.3C770.7 1580.8 768.9 1588.8 768.3 1596.7C767.8 1604.4 768.5 1612.4 770.0 1620.0C771.3 1626.8 773.9 1633.6 776.7 1640.0C777.8 1642.5 780.0 1644.5 781.7 1646.7C782.8 1642.2 783.8 1637.7 785.0 1633.3C787.1 1625.6 789.8 1617.8 791.7 1610.0C793.6 1602.4 795.2 1594.4 796.7 1586.7C798.0 1580.1 797.9 1573.0 800.0 1566.7C802.3 1559.7 806.3 1553.1 810.0 1546.7C813.0 1541.5 816.7 1536.7 820.0 1531.7Z"/>
<path fill="#EE7C2D" d="M801.7 1550.0C796.7 1555.6 790.7 1560.5 786.7 1566.7C782.9 1572.7 780.0 1579.8 778.3 1586.7C776.7 1593.1 776.0 1600.1 776.7 1606.7C777.1 1610.8 780.0 1614.4 781.7 1618.3C783.4 1615.5 785.6 1613.0 786.7 1610.0C789.0 1603.6 790.1 1596.6 791.7 1590.0C793.4 1583.4 795.1 1576.6 796.7 1570.0C798.4 1563.4 800.0 1556.7 801.7 1550.0Z"/>
<path fill="#FCC055" d="M838.3 1548.3C833.3 1552.2 827.2 1555.1 823.3 1560.0C818.7 1565.8 815.8 1573.0 813.3 1580.0C810.3 1588.6 808.9 1597.9 806.7 1606.7C804.5 1615.5 802.3 1624.5 800.0 1633.3C798.4 1639.5 797.0 1645.9 795.0 1652.0C792.6 1659.2 789.0 1666.1 786.7 1673.3C784.0 1682.0 780.0 1690.9 780.0 1700.0C780.0 1709.1 783.8 1718.1 786.7 1726.7C788.8 1733.0 792.2 1738.9 795.0 1745.0C796.7 1736.7 798.1 1728.2 800.0 1720.0C802.0 1711.1 804.0 1702.0 806.7 1693.3C809.5 1684.4 813.4 1675.5 816.7 1666.7C820.0 1657.9 824.1 1649.0 826.7 1640.0C828.5 1633.6 829.3 1626.6 830.0 1620.0C830.4 1616.7 830.0 1613.3 830.0 1610.0C830.0 1602.3 829.4 1594.4 830.0 1586.7C830.5 1580.0 831.9 1573.2 833.3 1566.7C834.6 1560.5 836.6 1554.4 838.3 1548.3Z"/>
<path fill="#EE7C2D" d="M826.7 1566.7C823.9 1573.4 820.3 1579.8 818.3 1586.7C815.8 1595.3 815.2 1604.6 813.3 1613.3C811.9 1619.9 810.8 1626.8 808.3 1633.0C806.3 1637.9 802.2 1641.9 800.0 1646.7C796.1 1655.2 792.3 1664.2 790.0 1673.3C787.9 1681.4 787.8 1690.0 786.7 1698.3C792.2 1688.9 798.3 1679.6 803.3 1670.0C807.1 1662.6 810.3 1654.5 813.3 1646.7C815.8 1640.0 817.8 1632.8 820.0 1626.0C820.6 1624.0 821.4 1622.0 821.7 1620.0C823.0 1611.2 824.2 1602.1 825.0 1593.3C825.8 1584.5 826.1 1575.6 826.7 1566.7Z"/>
<path fill="#FCC055" d="M862.0 1612.0C856.9 1616.9 850.8 1621.0 846.7 1626.7C842.4 1632.7 838.9 1639.7 836.7 1646.7C834.4 1654.1 834.9 1662.4 833.3 1670.0C831.6 1677.8 829.8 1685.9 826.7 1693.3C824.2 1699.2 819.3 1704.1 816.7 1710.0C814.3 1715.2 811.7 1720.9 811.7 1726.7C811.7 1731.9 815.0 1736.7 816.7 1741.7C820.0 1737.8 823.2 1733.7 826.7 1730.0C830.9 1725.5 835.4 1720.8 840.0 1716.7C845.3 1712.0 852.0 1708.6 856.7 1703.3C861.0 1698.5 865.7 1693.0 866.7 1686.7C868.0 1679.0 863.3 1671.1 863.3 1663.3C863.3 1655.5 866.6 1647.8 866.7 1640.0C866.8 1635.0 864.8 1630.0 864.0 1625.0C863.3 1620.7 862.7 1616.3 862.0 1612.0Z"/>
<path fill="#EE7C2D" d="M856.0 1622.0C852.3 1630.2 847.6 1638.2 845.0 1646.7C843.4 1652.0 841.8 1658.0 843.3 1663.3C844.8 1668.6 849.4 1672.8 853.3 1676.7C854.8 1678.2 857.3 1678.4 859.3 1679.3C859.0 1674.0 858.7 1668.6 858.3 1663.3C857.9 1657.8 857.0 1652.2 856.7 1646.7C856.2 1638.6 856.2 1630.2 856.0 1622.0Z"/>
<path fill="#FCC055" d="M720.0 1568.3C712.2 1570.0 704.3 1571.4 696.7 1573.3C688.9 1575.3 680.6 1576.6 673.3 1580.0C666.1 1583.3 659.2 1588.0 653.3 1593.3C647.0 1599.1 641.8 1606.4 636.7 1613.3C631.9 1619.7 627.2 1626.4 623.3 1633.3C620.0 1639.3 617.3 1645.8 615.0 1652.3C611.2 1662.9 609.2 1674.5 605.0 1685.0C600.9 1695.3 597.1 1706.5 590.0 1715.0C580.3 1726.7 565.3 1733.8 555.0 1745.0C545.4 1755.4 534.9 1766.7 530.0 1780.0C525.4 1792.4 526.6 1806.8 527.5 1820.0C528.3 1831.8 531.9 1843.6 535.0 1855.0C536.9 1861.8 540.0 1868.3 542.5 1875.0C544.2 1873.3 546.6 1872.1 547.5 1870.0C552.4 1858.8 555.5 1846.4 560.0 1835.0C564.6 1823.3 569.7 1811.4 575.0 1800.0C581.2 1786.6 587.2 1772.5 595.0 1760.0C603.7 1746.0 616.1 1733.9 625.0 1720.0C631.0 1710.7 636.2 1700.4 640.0 1690.0C644.5 1677.9 645.9 1664.5 650.0 1652.3C651.5 1647.9 654.2 1643.9 656.7 1640.0C661.9 1632.1 667.5 1624.1 673.3 1616.7C679.6 1608.7 686.1 1600.5 693.3 1593.3C699.4 1587.2 707.0 1582.6 713.3 1576.7C715.9 1574.3 717.8 1571.1 720.0 1568.3Z"/>
<path fill="#FCC055" d="M745.0 1590.0C738.9 1594.4 732.6 1598.7 726.7 1603.3C719.9 1608.6 713.4 1614.6 706.7 1620.0C701.2 1624.5 691.4 1626.4 690.0 1633.3C688.5 1640.5 695.3 1647.6 700.0 1653.3C706.5 1661.1 716.1 1666.1 723.3 1673.3C727.2 1677.2 734.0 1681.2 733.3 1686.7C732.5 1692.9 725.4 1696.9 720.0 1700.0C711.9 1704.7 702.1 1706.7 693.3 1710.0C684.5 1713.3 675.1 1715.8 666.7 1720.0C659.6 1723.5 652.0 1727.4 646.7 1733.3C641.8 1738.8 638.7 1746.2 636.7 1753.3C634.3 1761.8 634.1 1771.2 633.3 1780.0C632.5 1788.8 631.7 1797.9 631.7 1806.7C631.7 1815.5 631.9 1824.6 633.3 1833.3C634.7 1842.3 636.8 1851.5 640.0 1860.0C644.0 1870.3 649.5 1880.4 655.0 1890.0C659.4 1897.7 665.0 1905.0 670.0 1912.5C671.7 1906.7 674.2 1900.9 675.0 1895.0C676.6 1883.5 677.9 1871.6 677.5 1860.0C677.2 1851.1 674.4 1842.1 673.0 1833.3C671.9 1826.7 670.9 1819.9 670.0 1813.3C668.8 1804.5 666.2 1795.5 666.7 1786.7C667.3 1777.6 669.2 1768.1 673.3 1760.0C677.1 1752.3 683.4 1745.5 690.0 1740.0C696.8 1734.3 705.5 1730.9 713.3 1726.7C722.0 1722.1 731.7 1718.6 740.0 1713.3C747.2 1708.7 754.6 1703.3 760.0 1696.7C764.7 1691.0 769.4 1684.1 770.0 1676.7C770.6 1669.8 766.4 1662.9 763.3 1656.7C759.8 1649.6 753.8 1643.7 750.0 1636.7C747.2 1631.5 745.3 1625.6 743.3 1620.0C741.9 1616.1 739.8 1612.1 740.0 1608.0C740.3 1601.8 743.3 1596.0 745.0 1590.0Z"/>
<path fill="#EE7C2D" d="M715.0 1614.0C715.6 1620.4 714.2 1627.4 716.7 1633.3C719.4 1639.8 725.3 1644.8 730.0 1650.0C735.2 1655.8 742.7 1660.0 746.7 1666.7C749.6 1671.5 751.8 1678.0 750.0 1683.3C748.0 1689.2 741.9 1693.2 736.7 1696.7C728.5 1702.2 718.8 1705.6 710.0 1710.0C701.2 1714.4 691.6 1718.0 683.3 1723.3C676.1 1727.9 668.7 1733.3 663.3 1740.0C658.6 1745.7 655.1 1752.8 653.3 1760.0C652.2 1764.3 654.4 1768.9 655.0 1773.3C660.0 1765.5 664.0 1756.9 670.0 1750.0C675.7 1743.5 683.0 1738.3 690.0 1733.3C698.4 1727.3 707.7 1721.8 716.7 1716.7C725.3 1711.9 735.2 1708.9 743.3 1703.3C749.7 1698.9 756.2 1693.5 760.0 1686.7C762.7 1681.9 763.2 1675.3 761.7 1670.0C759.7 1662.6 754.7 1656.0 750.0 1650.0C745.2 1643.8 738.2 1639.3 733.3 1633.3C729.6 1628.7 728.1 1622.3 724.0 1618.0C721.8 1615.6 718.0 1615.3 715.0 1614.0Z"/>
<path fill="#FCC055" d="M1121.7 1545.7C1112.2 1546.0 1102.6 1545.7 1093.3 1546.7C1084.4 1547.7 1075.2 1548.9 1066.7 1551.7C1058.5 1554.4 1050.1 1558.0 1043.3 1563.3C1036.6 1568.6 1030.7 1575.7 1026.7 1583.3C1020.7 1594.7 1018.3 1608.1 1013.3 1620.0C1009.5 1629.1 1004.8 1638.1 1000.0 1646.7C994.9 1655.7 989.7 1665.2 983.3 1673.3C977.5 1680.6 969.9 1686.7 963.3 1693.3C956.7 1699.9 948.9 1705.8 943.3 1713.3C938.9 1719.2 935.5 1726.2 933.3 1733.3C931.0 1740.8 931.4 1749.0 930.0 1756.7C928.6 1764.4 926.0 1772.2 925.0 1780.0C923.8 1788.8 923.0 1797.9 923.3 1806.7C923.6 1815.5 925.3 1824.6 926.7 1833.3C927.5 1838.3 928.9 1843.3 930.0 1848.3C931.1 1844.4 931.9 1840.4 933.3 1836.7C936.3 1828.9 940.0 1821.0 943.3 1813.3C946.6 1805.6 950.5 1797.9 953.3 1790.0C956.0 1782.5 957.3 1774.2 960.0 1766.7C962.8 1758.8 965.6 1750.5 970.0 1743.3C974.5 1736.0 980.6 1729.4 986.7 1723.3C992.8 1717.2 1000.4 1712.5 1006.7 1706.7C1013.6 1700.4 1020.7 1693.8 1026.7 1686.7C1032.8 1679.5 1038.2 1671.3 1043.3 1663.3C1048.1 1655.8 1053.0 1648.1 1056.7 1640.0C1059.6 1633.7 1060.6 1626.4 1063.3 1620.0C1067.2 1610.9 1071.8 1601.9 1076.7 1593.3C1080.6 1586.4 1084.7 1579.2 1090.0 1573.3C1095.8 1567.0 1103.5 1562.3 1110.0 1556.7C1114.0 1553.2 1117.8 1549.4 1121.7 1545.7Z"/>
<path fill="#EE7C2D" d="M1055.0 1591.7C1051.1 1598.9 1049.3 1607.9 1043.3 1613.3C1038.1 1617.9 1028.2 1615.1 1023.3 1620.0C1016.3 1627.0 1014.8 1638.1 1010.0 1646.7C1004.9 1655.7 999.4 1664.9 993.3 1673.3C987.3 1681.5 980.2 1689.2 973.3 1696.7C967.0 1703.6 959.2 1709.5 953.3 1716.7C949.2 1721.6 944.7 1727.1 943.3 1733.3C942.3 1737.8 944.9 1742.5 946.7 1746.7C948.8 1751.4 952.2 1755.6 955.0 1760.0C956.7 1756.7 958.4 1753.3 960.0 1750.0C963.3 1743.4 965.9 1736.1 970.0 1730.0C974.8 1722.8 980.9 1716.3 986.7 1710.0C993.0 1703.1 1000.4 1696.9 1006.7 1690.0C1013.6 1682.6 1020.8 1675.0 1026.7 1666.7C1031.9 1659.5 1036.5 1651.5 1040.0 1643.3C1043.1 1635.9 1044.0 1627.5 1046.7 1620.0C1047.4 1618.1 1049.4 1616.9 1050.0 1615.0C1052.2 1607.5 1053.3 1599.5 1055.0 1591.7Z"/>
<path fill="#FCC055" d="M1297.7 1521.7C1287.4 1523.4 1276.7 1523.9 1266.7 1526.7C1258.6 1528.9 1250.1 1531.8 1243.3 1536.7C1237.6 1540.8 1233.3 1547.1 1230.0 1553.3C1225.5 1561.6 1223.8 1571.4 1220.0 1580.0C1216.1 1589.0 1210.4 1597.6 1206.7 1606.7C1203.2 1615.2 1199.6 1624.2 1198.3 1633.3C1197.4 1639.5 1198.6 1646.2 1200.0 1652.3C1201.4 1658.4 1204.3 1664.2 1206.7 1670.0C1208.7 1675.0 1211.3 1680.0 1213.3 1685.0C1214.9 1689.0 1216.2 1693.2 1217.7 1697.3C1219.6 1687.1 1220.5 1676.6 1223.3 1666.7C1225.6 1658.6 1229.5 1650.8 1233.3 1643.3C1237.3 1635.4 1242.4 1627.8 1246.7 1620.0C1249.0 1615.7 1251.8 1611.3 1253.3 1606.7C1256.2 1598.1 1257.8 1588.8 1260.0 1580.0C1262.2 1571.2 1262.6 1561.4 1266.7 1553.3C1270.5 1545.6 1277.3 1539.4 1283.3 1533.3C1287.6 1528.9 1292.9 1525.6 1297.7 1521.7Z"/>
<path fill="#EE7C2D" d="M1240.0 1553.3C1235.6 1562.2 1230.6 1571.0 1226.7 1580.0C1222.9 1588.6 1219.5 1597.7 1216.7 1606.7C1214.0 1615.3 1210.9 1624.3 1210.0 1633.3C1209.2 1641.5 1211.1 1650.0 1211.7 1658.3C1214.5 1652.2 1217.1 1646.0 1220.0 1640.0C1223.2 1633.3 1226.7 1626.6 1230.0 1620.0C1232.2 1615.6 1235.5 1611.5 1236.7 1606.7C1238.9 1598.1 1239.5 1588.9 1240.0 1580.0C1240.5 1571.2 1240.0 1562.2 1240.0 1553.3Z"/>
<path fill="#FCC055" d="M1125.0 1620.0C1116.7 1624.4 1107.8 1628.1 1100.0 1633.3C1092.8 1638.1 1085.8 1643.6 1080.0 1650.0C1074.7 1655.9 1070.0 1662.8 1066.7 1670.0C1062.8 1678.4 1060.3 1687.7 1058.3 1696.7C1056.4 1705.3 1054.2 1714.5 1055.0 1723.3C1055.9 1732.5 1058.9 1741.9 1063.3 1750.0C1067.4 1757.6 1074.6 1763.3 1080.0 1770.0C1084.5 1775.5 1088.7 1781.4 1093.3 1786.7C1095.3 1789.1 1097.8 1791.1 1100.0 1793.3C1097.2 1786.6 1094.2 1780.0 1091.7 1773.3C1089.3 1766.8 1086.4 1760.1 1085.0 1753.3C1083.6 1746.8 1083.1 1739.9 1083.3 1733.3C1083.6 1724.5 1085.6 1715.5 1086.7 1706.7C1087.8 1697.9 1087.7 1688.6 1090.0 1680.0C1092.2 1671.9 1096.0 1664.1 1100.0 1656.7C1103.8 1649.7 1108.8 1643.3 1113.3 1636.7C1117.1 1631.1 1121.1 1625.6 1125.0 1620.0Z"/>
<path fill="#EE7C2D" d="M1081.7 1670.0C1076.7 1676.7 1070.4 1682.6 1066.7 1690.0C1062.6 1698.3 1059.2 1707.5 1058.3 1716.7C1057.5 1724.4 1059.0 1732.7 1061.7 1740.0C1064.1 1746.3 1068.9 1751.6 1073.3 1756.7C1076.1 1759.9 1080.0 1762.2 1083.3 1765.0C1082.2 1757.8 1080.8 1750.5 1080.0 1743.3C1079.1 1735.6 1078.3 1727.7 1078.3 1720.0C1078.3 1711.2 1079.4 1702.1 1080.0 1693.3C1080.5 1685.6 1081.1 1677.8 1081.7 1670.0Z"/>
<path fill="#FCC055" d="M1043.3 1705.0C1035.5 1710.0 1027.4 1714.6 1020.0 1720.0C1013.1 1725.1 1005.5 1730.1 1000.0 1736.7C994.3 1743.5 990.0 1751.8 986.7 1760.0C983.3 1768.4 982.5 1778.0 980.0 1786.7C978.1 1793.4 974.2 1799.8 973.3 1806.7C972.5 1813.3 973.9 1820.2 975.0 1826.7C975.6 1830.1 977.2 1833.4 978.3 1836.7C980.0 1833.4 981.6 1830.0 983.3 1826.7C986.6 1820.1 989.6 1813.1 993.3 1806.7C997.1 1800.3 1002.0 1794.3 1006.0 1788.0C1009.7 1782.2 1014.0 1776.4 1016.7 1770.0C1019.8 1762.6 1020.6 1754.2 1023.3 1746.7C1026.1 1738.8 1029.7 1730.9 1033.3 1723.3C1036.3 1717.1 1040.0 1711.1 1043.3 1705.0Z"/>
<path fill="#EE7C2D" d="M1011.7 1733.3C1006.7 1740.0 1001.1 1746.3 996.7 1753.3C992.8 1759.6 989.0 1766.3 986.7 1773.3C984.6 1779.6 984.2 1786.7 983.3 1793.3C982.6 1798.8 982.2 1804.4 981.7 1810.0C986.5 1803.3 991.4 1796.7 996.0 1790.0C999.7 1784.6 1003.9 1779.2 1006.7 1773.3C1009.7 1767.0 1012.4 1760.2 1013.3 1753.3C1014.1 1746.7 1012.2 1740.0 1011.7 1733.3Z"/>
<path fill="#FCC055" d="M1051.7 1773.3C1046.7 1777.8 1041.4 1782.0 1036.7 1786.7C1030.9 1792.5 1024.5 1798.2 1020.0 1805.0C1013.9 1814.3 1009.3 1824.8 1005.0 1835.0C1001.0 1844.6 1001.0 1856.5 995.0 1865.0C988.9 1873.7 979.3 1879.9 970.0 1885.0C960.8 1890.0 949.9 1891.7 940.0 1895.0C930.1 1898.3 919.3 1900.3 910.0 1905.0C902.6 1908.7 894.8 1913.3 890.0 1920.0C884.9 1927.1 881.9 1936.3 881.0 1945.0C880.2 1953.3 882.4 1962.1 885.0 1970.0C887.9 1978.8 892.8 1987.0 897.5 1995.0C900.8 2000.6 905.2 2005.7 909.0 2011.0C909.0 2007.3 908.9 2003.6 909.0 2000.0C909.2 1991.7 908.2 1983.1 910.0 1975.0C911.9 1966.3 914.7 1957.1 920.0 1950.0C925.0 1943.4 932.6 1938.7 940.0 1935.0C949.3 1930.3 960.3 1928.7 970.0 1925.0C981.7 1920.5 994.1 1916.3 1005.0 1910.0C1014.1 1904.7 1023.4 1898.2 1030.0 1890.0C1036.9 1881.4 1041.5 1870.5 1045.0 1860.0C1048.2 1850.5 1049.7 1840.0 1050.0 1830.0C1050.3 1820.0 1046.4 1810.0 1046.7 1800.0C1047.0 1791.0 1050.0 1782.2 1051.7 1773.3Z"/>
<path fill="#EE7C2D" d="M1033.3 1805.0C1028.9 1810.0 1024.3 1815.0 1020.0 1820.0C1015.8 1824.9 1010.1 1829.1 1007.5 1835.0C1004.1 1842.7 1003.7 1851.7 1002.5 1860.0C1001.3 1868.2 999.7 1876.7 1000.0 1885.0C1000.2 1892.5 1002.7 1900.0 1004.0 1907.5C1006.0 1904.2 1007.7 1900.6 1010.0 1897.5C1014.6 1891.5 1021.1 1886.6 1025.0 1880.0C1029.5 1872.3 1033.1 1863.7 1035.0 1855.0C1036.8 1846.9 1036.3 1838.3 1036.0 1830.0C1035.7 1821.7 1034.2 1813.3 1033.3 1805.0Z"/>
<path fill="#FCC055" d="M1165.0 1650.7C1157.8 1654.9 1149.9 1658.3 1143.3 1663.3C1137.1 1668.0 1130.8 1673.4 1126.7 1680.0C1122.4 1686.9 1118.9 1695.1 1118.3 1703.3C1117.7 1711.2 1119.8 1719.6 1123.3 1726.7C1127.1 1734.4 1135.2 1739.5 1140.0 1746.7C1144.1 1752.8 1149.4 1759.3 1150.0 1766.7C1150.6 1774.7 1145.5 1782.3 1143.3 1790.0C1141.7 1795.5 1137.8 1801.0 1138.3 1806.7C1139.0 1813.8 1142.7 1820.8 1146.7 1826.7C1151.1 1833.1 1157.8 1837.8 1163.3 1843.3C1168.2 1848.2 1173.3 1853.3 1178.3 1858.3C1176.6 1851.1 1173.6 1844.0 1173.3 1836.7C1173.1 1831.1 1174.2 1825.0 1176.7 1820.0C1179.9 1813.7 1186.6 1809.5 1190.0 1803.3C1193.3 1797.2 1197.8 1790.2 1196.7 1783.3C1195.3 1774.5 1188.1 1767.5 1183.3 1760.0C1178.2 1752.1 1171.4 1744.9 1166.7 1736.7C1162.5 1729.4 1159.0 1721.4 1156.7 1713.3C1154.6 1705.8 1153.3 1697.8 1153.3 1690.0C1153.3 1682.2 1154.5 1674.1 1156.7 1666.7C1158.4 1661.0 1162.2 1656.0 1165.0 1650.7Z"/>
<path fill="#FCC055" d="M1383.3 1666.7C1375.5 1669.5 1367.5 1671.8 1360.0 1675.0C1352.1 1678.4 1343.7 1681.7 1336.7 1686.7C1330.4 1691.2 1324.1 1696.7 1320.0 1703.3C1315.7 1710.2 1312.5 1718.5 1311.7 1726.7C1310.8 1735.5 1313.0 1744.7 1315.0 1753.3C1316.9 1761.3 1321.3 1768.8 1323.3 1776.7C1325.2 1784.2 1327.7 1792.3 1326.7 1800.0C1325.9 1806.5 1320.4 1811.8 1318.0 1818.0C1316.3 1822.4 1314.0 1827.3 1314.5 1832.0C1315.4 1839.9 1318.6 1847.8 1322.0 1855.0C1326.1 1863.7 1333.3 1871.1 1337.0 1880.0C1340.8 1889.1 1342.0 1899.3 1344.5 1909.0C1345.3 1899.3 1346.3 1889.6 1347.0 1880.0C1347.9 1868.5 1347.7 1856.4 1349.5 1845.0C1351.0 1835.2 1352.9 1825.0 1357.0 1816.0C1359.8 1809.8 1366.1 1805.6 1370.0 1800.0C1372.1 1797.0 1375.0 1793.7 1375.0 1790.0C1375.0 1785.3 1371.8 1781.0 1370.0 1776.7C1366.8 1768.9 1362.2 1761.4 1360.0 1753.3C1357.7 1744.8 1356.7 1735.5 1356.7 1726.7C1356.7 1718.9 1357.7 1710.8 1360.0 1703.3C1362.2 1696.2 1366.0 1689.5 1370.0 1683.3C1373.8 1677.4 1378.9 1672.2 1383.3 1666.7Z"/>
<path fill="#FCC055" d="M1619.5 1700.0C1608.7 1703.3 1597.5 1706.0 1587.0 1710.0C1580.1 1712.6 1572.6 1715.2 1567.0 1720.0C1560.7 1725.4 1556.0 1732.8 1552.0 1740.0C1547.7 1747.8 1546.6 1757.4 1542.0 1765.0C1536.6 1774.1 1529.9 1782.9 1522.0 1790.0C1513.2 1798.0 1501.9 1803.4 1492.0 1810.0C1482.1 1816.6 1471.6 1823.0 1462.0 1830.0C1453.5 1836.2 1444.7 1842.8 1437.0 1850.0C1430.6 1856.0 1423.9 1862.4 1419.5 1870.0C1415.1 1877.5 1411.4 1886.3 1411.0 1895.0C1410.6 1903.5 1414.2 1912.0 1417.0 1920.0C1419.5 1927.0 1423.7 1933.3 1427.0 1940.0C1429.5 1935.0 1432.0 1930.0 1434.5 1925.0C1438.6 1916.8 1442.0 1907.7 1447.0 1900.0C1452.8 1891.1 1459.5 1882.5 1467.0 1875.0C1476.1 1865.9 1486.4 1857.3 1497.0 1850.0C1507.9 1842.4 1521.1 1837.6 1532.0 1830.0C1542.6 1822.7 1553.3 1814.5 1562.0 1805.0C1570.0 1796.2 1576.7 1785.6 1582.0 1775.0C1586.7 1765.7 1587.7 1754.5 1592.0 1745.0C1596.0 1736.2 1602.0 1728.2 1607.0 1720.0C1611.1 1713.4 1615.3 1706.7 1619.5 1700.0Z"/>
<path fill="#EE7C2D" d="M1588.5 1712.5C1581.3 1720.0 1572.7 1726.4 1567.0 1735.0C1562.1 1742.4 1559.9 1751.6 1557.0 1760.0C1554.2 1768.1 1551.7 1776.7 1549.5 1785.0C1547.6 1792.4 1546.2 1800.0 1544.5 1807.5C1550.3 1801.7 1557.0 1796.5 1562.0 1790.0C1567.8 1782.4 1573.1 1773.8 1577.0 1765.0C1580.5 1757.1 1582.7 1748.4 1584.5 1740.0C1586.5 1731.0 1587.2 1721.7 1588.5 1712.5Z"/>
<path fill="#FCC055" d="M1287.5 1870.0C1278.3 1872.5 1268.8 1874.1 1260.0 1877.5C1249.7 1881.5 1239.1 1886.3 1230.0 1892.5C1220.8 1898.8 1212.2 1906.6 1205.0 1915.0C1197.3 1924.0 1190.3 1934.4 1185.0 1945.0C1180.3 1954.3 1177.7 1964.9 1175.0 1975.0C1172.8 1983.1 1170.5 1991.6 1170.0 2000.0C1169.7 2005.0 1171.7 2010.0 1172.5 2015.0C1177.5 2008.3 1183.2 2002.0 1187.5 1995.0C1192.3 1987.1 1195.0 1977.7 1200.0 1970.0C1205.8 1961.1 1213.3 1953.2 1220.0 1945.0C1228.2 1935.0 1236.3 1924.5 1245.0 1915.0C1252.8 1906.4 1262.0 1898.5 1270.0 1890.0C1276.0 1883.6 1281.7 1876.7 1287.5 1870.0Z"/>
<line x1="787.3" y1="1558.3" x2="850.0" y2="1584.0" stroke="#151515" stroke-width="3.2"/>
<circle cx="440.5" cy="1282.5" r="4.8" fill="#151515"/>
<circle cx="376.5" cy="1314.0" r="4.8" fill="#151515"/>
<circle cx="624.5" cy="1328.0" r="4.8" fill="#151515"/>
<circle cx="454.5" cy="1406.5" r="4.8" fill="#151515"/>
<circle cx="528.5" cy="1418.0" r="4.8" fill="#151515"/>
<circle cx="595.5" cy="1412.0" r="4.8" fill="#151515"/>
<circle cx="526.0" cy="1449.5" r="4.8" fill="#151515"/>
<circle cx="645.5" cy="1451.5" r="4.8" fill="#151515"/>
<circle cx="386.5" cy="1456.0" r="4.8" fill="#151515"/>
<circle cx="446.5" cy="1468.5" r="4.8" fill="#151515"/>
<circle cx="255.0" cy="1467.5" r="4.8" fill="#151515"/>
<circle cx="305.5" cy="1475.0" r="4.8" fill="#151515"/>
<circle cx="608.0" cy="1469.0" r="4.8" fill="#151515"/>
<circle cx="130.5" cy="1487.0" r="4.8" fill="#151515"/>
<circle cx="628.0" cy="1489.0" r="4.8" fill="#151515"/>
<circle cx="615.5" cy="1496.0" r="4.8" fill="#151515"/>
<circle cx="512.5" cy="1504.0" r="4.8" fill="#151515"/>
<circle cx="440.0" cy="1518.5" r="4.8" fill="#151515"/>
<circle cx="693.0" cy="1520.0" r="4.8" fill="#151515"/>
<circle cx="958.5" cy="1349.0" r="4.8" fill="#151515"/>
<circle cx="898.0" cy="1422.5" r="4.8" fill="#151515"/>
<circle cx="738.0" cy="1448.0" r="4.8" fill="#151515"/>
<circle cx="989.5" cy="1469.0" r="4.8" fill="#151515"/>
<circle cx="764.5" cy="1488.5" r="4.8" fill="#151515"/>
<circle cx="734.5" cy="1495.0" r="4.8" fill="#151515"/>
<circle cx="776.0" cy="1504.5" r="4.8" fill="#151515"/>
<circle cx="882.5" cy="1507.0" r="4.8" fill="#151515"/>
<circle cx="737.5" cy="1529.0" r="4.8" fill="#151515"/>
<circle cx="605.5" cy="1548.5" r="4.8" fill="#151515"/>
<circle cx="686.5" cy="1580.0" r="4.8" fill="#151515"/>
<circle cx="673.5" cy="1590.0" r="4.8" fill="#151515"/>
<circle cx="659.0" cy="1596.0" r="4.8" fill="#151515"/>
<circle cx="454.5" cy="1598.5" r="4.8" fill="#151515"/>
<circle cx="573.0" cy="1628.5" r="4.8" fill="#151515"/>
<circle cx="327.5" cy="1629.5" r="4.8" fill="#151515"/>
<circle cx="508.5" cy="1640.0" r="4.8" fill="#151515"/>
<circle cx="574.5" cy="1675.5" r="4.8" fill="#151515"/>
<circle cx="674.5" cy="1684.5" r="4.8" fill="#151515"/>
<circle cx="551.0" cy="1698.0" r="4.8" fill="#151515"/>
<circle cx="620.5" cy="1698.0" r="4.8" fill="#151515"/>
<circle cx="408.5" cy="1700.5" r="4.8" fill="#151515"/>
<circle cx="701.0" cy="1780.0" r="4.8" fill="#151515"/>
<circle cx="551.5" cy="1805.5" r="4.8" fill="#151515"/>
<circle cx="657.0" cy="1866.0" r="4.8" fill="#151515"/>
<circle cx="894.3" cy="1570.0" r="4.8" fill="#151515"/>
<circle cx="938.3" cy="1578.3" r="4.8" fill="#151515"/>
<circle cx="1064.0" cy="1567.0" r="4.8" fill="#151515"/>
<circle cx="785.0" cy="1586.7" r="4.8" fill="#151515"/>
<circle cx="850.0" cy="1584.0" r="4.8" fill="#151515"/>
<circle cx="1033.3" cy="1629.0" r="4.8" fill="#151515"/>
<circle cx="916.7" cy="1645.3" r="4.8" fill="#151515"/>
<circle cx="846.7" cy="1649.5" r="4.8" fill="#151515"/>
<circle cx="1230.0" cy="1597.7" r="4.8" fill="#151515"/>
<circle cx="1040.7" cy="1652.5" r="4.8" fill="#151515"/>
<circle cx="823.3" cy="1710.7" r="4.8" fill="#151515"/>
<circle cx="786.7" cy="1720.3" r="4.8" fill="#151515"/>
<circle cx="1033.3" cy="1736.0" r="4.8" fill="#151515"/>
<circle cx="923.3" cy="1754.0" r="4.8" fill="#151515"/>
<circle cx="1075.0" cy="1722.3" r="4.8" fill="#151515"/>
<circle cx="1070.0" cy="1740.7" r="4.8" fill="#151515"/>
<circle cx="879.3" cy="1768.0" r="4.8" fill="#151515"/>
<circle cx="996.7" cy="1769.0" r="4.8" fill="#151515"/>
<circle cx="856.0" cy="1781.7" r="4.8" fill="#151515"/>
<circle cx="1026.7" cy="1819.0" r="4.8" fill="#151515"/>
<circle cx="966.7" cy="1839.7" r="4.8" fill="#151515"/>
<circle cx="794.3" cy="1869.3" r="4.8" fill="#151515"/>
<circle cx="991.7" cy="1893.0" r="4.8" fill="#151515"/>
<circle cx="1147.0" cy="1684.3" r="4.8" fill="#151515"/>
<circle cx="1267.7" cy="1682.0" r="4.8" fill="#151515"/>
<circle cx="1344.7" cy="1700.3" r="4.8" fill="#151515"/>
<circle cx="1410.0" cy="1701.3" r="4.8" fill="#151515"/>
<circle cx="1233.7" cy="1712.3" r="4.8" fill="#151515"/>
<circle cx="1366.7" cy="1714.3" r="4.8" fill="#151515"/>
<circle cx="1205.7" cy="1720.3" r="4.8" fill="#151515"/>
<circle cx="1349.7" cy="1779.0" r="4.8" fill="#151515"/>
<circle cx="1173.7" cy="1789.3" r="4.8" fill="#151515"/>
<circle cx="1162.7" cy="1818.7" r="4.8" fill="#151515"/>
<circle cx="1333.3" cy="1827.3" r="4.8" fill="#151515"/>
<circle cx="1137.7" cy="1862.3" r="4.8" fill="#151515"/>
<circle cx="1316.7" cy="1865.7" r="4.8" fill="#151515"/>
<circle cx="1425.7" cy="1888.3" r="4.8" fill="#151515"/>
<circle cx="1575.0" cy="1739.5" r="4.8" fill="#151515"/>
<circle cx="1513.5" cy="1817.0" r="4.8" fill="#151515"/>
<circle cx="905.0" cy="1923.5" r="4.8" fill="#151515"/>
<circle cx="1219.0" cy="1928.0" r="4.8" fill="#151515"/>
<circle cx="1181.0" cy="2060.5" r="4.8" fill="#151515"/>
<circle cx="361.0" cy="1977.5" r="4.8" fill="#151515"/>
<circle cx="500.5" cy="2026.5" r="4.8" fill="#151515"/>
<text x="395.8" y="1268.5" font-size="36" letter-spacing="1.3">台试8</text>
<text x="587.3" y="1314.0" font-size="36" letter-spacing="1.3">台4-1</text>
<text x="194.8" y="1438.5" font-size="36" letter-spacing="1.3">台6-5</text>
<text x="77.3" y="1476.0" font-size="36" letter-spacing="1.3">台南6</text>
<text x="566.8" y="1542.5" font-size="36" letter-spacing="1.3">台5-2</text>
<text x="628.3" y="1575.0" font-size="36" letter-spacing="1.3">台3-4</text>
<text x="267.3" y="1612.5" font-size="36" letter-spacing="1.3">台6-13</text>
<text x="463.3" y="1620.0" font-size="36" letter-spacing="1.3">台4-70</text>
<text x="625.8" y="1672.5" font-size="36" letter-spacing="1.3">台试4</text>
<text x="355.8" y="1687.5" font-size="36" letter-spacing="1.3">台南2</text>
<text x="499.8" y="1788.5" font-size="36" letter-spacing="1.3">台6-36</text>
<text x="599.8" y="1854.0" font-size="36" letter-spacing="1.3">台6-20</text>
<text x="917.3" y="1334.0" font-size="36" letter-spacing="1.3">台南7</text>
<text x="851.8" y="1405.0" font-size="36" letter-spacing="1.3">台6-3</text>
<text x="959.8" y="1453.5" font-size="36" letter-spacing="1.3">台4-22</text>
<text x="847.5" y="1558.3" font-size="36" letter-spacing="1.3">台4-44</text>
<text x="794.8" y="1618.3" font-size="36" letter-spacing="1.3">台H3-10</text>
<text x="991.8" y="1613.3" font-size="36" letter-spacing="1.3">台4-9</text>
<text x="1170.8" y="1582.7" font-size="36" letter-spacing="1.3">台6-26</text>
<text x="741.5" y="1850.0" font-size="36" letter-spacing="1.3">台6-37</text>
<text x="940.8" y="1803.3" font-size="36" letter-spacing="1.3">台4-18</text>
<text x="1049.1" y="1710.0" font-size="36" letter-spacing="1.3">台1-4</text>
<text x="1379.1" y="1682.0" font-size="36" letter-spacing="1.3">台5-6</text>
<text x="1280.8" y="1821.7" font-size="36" letter-spacing="1.3">台6-35</text>
<text x="1079.8" y="1855.0" font-size="36" letter-spacing="1.3">台4-45</text>
<text x="1518.8" y="1719.0" font-size="36" letter-spacing="1.3">台6-12</text>
<text x="855.8" y="1898.5" font-size="36" letter-spacing="1.3">台6-21</text>
<text x="1160.8" y="1910.0" font-size="36" letter-spacing="1.3">台6-18</text>
<text x="1130.8" y="2041.0" font-size="36" letter-spacing="1.3">台南8</text>
<text x="19.5" y="1186.7" font-size="53.5" letter-spacing="2.4">(b)</text>
<text x="0" y="0" font-size="47.5" text-anchor="middle" transform="translate(1698.6 1199.0) scale(1.1 1)">N</text>
<path d="M1699.3 1308.5L1699.3 1214.0L1719.5 1246.0L1689.4 1268.2" fill="none" stroke="#1a1a1a" stroke-width="4.2" stroke-linejoin="miter" stroke-miterlimit="10"/>
<text x="1599.3" y="1369.1" font-size="41" text-anchor="middle">0</text>
<text x="1700.5" y="1369.1" font-size="41" text-anchor="middle" letter-spacing="1">500</text>
<text x="1845" y="1369.1" font-size="41" text-anchor="middle" letter-spacing="1">1 000 m</text>
<rect x="1596" y="1381.0" width="103.3" height="15.3" fill="#1a1a1a"/>
<rect x="1698.3" y="1382.0" width="96.2" height="13.3" fill="#fff" stroke="#1a1a1a" stroke-width="2"/>
<rect x="2.0" y="1127.2" width="1960.0" height="1045.3" fill="none" stroke="#1a1a1a" stroke-width="4.2"/>
</g>
<g id="c">
<clipPath id="clip_c"><path d="M475.0 2251.0C491.5 2250.1 508.5 2250.7 525.0 2251.5C540.4 2252.2 556.2 2253.5 571.4 2255.5C595.1 2258.6 619.3 2262.9 642.9 2266.8C666.5 2270.7 690.8 2274.9 714.3 2279.3C737.9 2283.7 762.2 2288.6 785.7 2293.6C809.3 2298.6 833.6 2303.8 857.0 2309.6C880.8 2315.5 905.1 2322.3 928.6 2329.3C952.3 2336.4 976.7 2344.1 1000.0 2352.5C1023.9 2361.1 1047.8 2371.6 1071.4 2381.0C1095.0 2390.4 1119.4 2399.9 1142.9 2409.6C1166.6 2419.4 1190.7 2430.0 1214.3 2440.0C1237.9 2450.0 1262.1 2460.4 1285.7 2470.4C1309.2 2480.4 1333.5 2490.7 1357.0 2500.7C1380.6 2510.7 1405.0 2520.8 1428.6 2531.0C1458.8 2544.0 1490.1 2557.2 1520.0 2571.0C1542.4 2581.3 1564.9 2593.1 1587.0 2604.0C1611.8 2616.2 1637.6 2628.2 1662.0 2641.0C1682.1 2651.6 1702.5 2663.2 1722.0 2675.0C1750.4 2692.2 1779.5 2710.3 1807.0 2729.0C1825.7 2741.7 1844.9 2755.2 1862.0 2770.0C1879.6 2785.3 1897.0 2802.2 1912.0 2820.0C1923.5 2833.7 1934.0 2849.0 1942.0 2865.0C1949.0 2879.0 1953.2 2894.8 1957.0 2910.0C1960.2 2923.0 1962.6 2936.7 1963.0 2950.0C1963.4 2961.8 1961.6 2974.1 1959.3 2985.7C1956.9 2997.8 1953.7 3010.2 1948.6 3021.4C1942.9 3033.9 1935.5 3046.2 1927.0 3057.0C1917.7 3068.8 1906.4 3079.6 1895.0 3089.3C1882.8 3099.7 1869.1 3109.1 1855.7 3117.9C1842.0 3126.8 1827.4 3135.4 1812.9 3142.9C1797.9 3150.7 1781.9 3157.7 1766.4 3164.3C1750.1 3171.2 1733.1 3178.0 1716.4 3184.0C1700.1 3189.8 1683.0 3195.0 1666.4 3200.0C1650.0 3205.0 1633.0 3209.9 1616.4 3214.3C1600.0 3218.7 1583.0 3223.0 1566.4 3226.8C1550.0 3230.6 1532.9 3234.2 1516.4 3237.5C1501.1 3240.5 1485.3 3243.2 1470.0 3246.0C1459.1 3248.0 1447.9 3250.2 1437.0 3252.0C1420.5 3254.8 1403.5 3257.2 1387.0 3260.0C1372.9 3262.4 1358.6 3266.0 1344.5 3268.0C1325.6 3270.6 1306.0 3272.5 1287.0 3274.0C1264.9 3275.7 1242.1 3276.6 1220.0 3277.5C1187.0 3278.9 1153.0 3280.2 1120.0 3281.0C1087.0 3281.8 1053.0 3283.4 1020.0 3282.5C996.4 3281.9 972.2 3278.4 948.6 3276.4C925.0 3274.4 900.6 3272.9 877.0 3270.4C853.4 3267.9 829.1 3265.1 805.7 3261.4C785.9 3258.2 765.8 3253.6 746.2 3249.5C729.8 3246.0 713.0 3242.3 696.7 3238.4C680.3 3234.4 663.6 3229.9 647.3 3225.5C630.9 3221.1 614.0 3216.7 597.8 3211.7C581.4 3206.6 564.6 3200.8 548.4 3195.0C532.0 3189.2 515.1 3183.0 498.9 3176.5C482.4 3169.9 465.7 3162.6 449.5 3155.5C440.5 3151.6 430.7 3148.4 422.3 3143.2C401.0 3130.0 380.2 3114.8 360.0 3100.0C338.2 3084.0 315.8 3067.3 295.0 3050.0C276.2 3034.3 257.8 3016.9 240.0 3000.0C223.1 2983.9 206.1 2966.9 190.0 2950.0C174.7 2933.9 158.9 2917.3 145.0 2900.0C132.4 2884.3 121.0 2866.9 110.0 2850.0C99.5 2833.9 89.3 2816.9 80.0 2800.0C71.1 2783.8 61.9 2767.1 55.0 2750.0C48.6 2734.0 43.4 2716.9 40.0 2700.0C36.7 2683.7 35.7 2666.6 35.0 2650.0C34.3 2633.5 34.6 2616.5 35.7 2600.0C36.7 2585.3 38.0 2570.0 41.5 2555.7C46.8 2534.0 54.2 2512.1 62.5 2491.4C68.8 2475.5 76.7 2459.6 85.7 2445.0C95.0 2429.9 105.9 2415.1 117.9 2402.0C130.8 2387.9 145.6 2374.8 160.7 2363.0C177.4 2349.9 195.5 2337.4 214.0 2327.0C236.8 2314.2 261.4 2302.7 285.7 2293.0C308.7 2283.8 333.1 2276.4 357.0 2270.0C377.5 2264.5 399.0 2260.4 420.0 2257.0C438.0 2254.1 456.8 2252.0 475.0 2251.0Z"/></clipPath>
<path fill="#FCC055" d="M475.0 2251.0C491.5 2250.1 508.5 2250.7 525.0 2251.5C540.4 2252.2 556.2 2253.5 571.4 2255.5C595.1 2258.6 619.3 2262.9 642.9 2266.8C666.5 2270.7 690.8 2274.9 714.3 2279.3C737.9 2283.7 762.2 2288.6 785.7 2293.6C809.3 2298.6 833.6 2303.8 857.0 2309.6C880.8 2315.5 905.1 2322.3 928.6 2329.3C952.3 2336.4 976.7 2344.1 1000.0 2352.5C1023.9 2361.1 1047.8 2371.6 1071.4 2381.0C1095.0 2390.4 1119.4 2399.9 1142.9 2409.6C1166.6 2419.4 1190.7 2430.0 1214.3 2440.0C1237.9 2450.0 1262.1 2460.4 1285.7 2470.4C1309.2 2480.4 1333.5 2490.7 1357.0 2500.7C1380.6 2510.7 1405.0 2520.8 1428.6 2531.0C1458.8 2544.0 1490.1 2557.2 1520.0 2571.0C1542.4 2581.3 1564.9 2593.1 1587.0 2604.0C1611.8 2616.2 1637.6 2628.2 1662.0 2641.0C1682.1 2651.6 1702.5 2663.2 1722.0 2675.0C1750.4 2692.2 1779.5 2710.3 1807.0 2729.0C1825.7 2741.7 1844.9 2755.2 1862.0 2770.0C1879.6 2785.3 1897.0 2802.2 1912.0 2820.0C1923.5 2833.7 1934.0 2849.0 1942.0 2865.0C1949.0 2879.0 1953.2 2894.8 1957.0 2910.0C1960.2 2923.0 1962.6 2936.7 1963.0 2950.0C1963.4 2961.8 1961.6 2974.1 1959.3 2985.7C1956.9 2997.8 1953.7 3010.2 1948.6 3021.4C1942.9 3033.9 1935.5 3046.2 1927.0 3057.0C1917.7 3068.8 1906.4 3079.6 1895.0 3089.3C1882.8 3099.7 1869.1 3109.1 1855.7 3117.9C1842.0 3126.8 1827.4 3135.4 1812.9 3142.9C1797.9 3150.7 1781.9 3157.7 1766.4 3164.3C1750.1 3171.2 1733.1 3178.0 1716.4 3184.0C1700.1 3189.8 1683.0 3195.0 1666.4 3200.0C1650.0 3205.0 1633.0 3209.9 1616.4 3214.3C1600.0 3218.7 1583.0 3223.0 1566.4 3226.8C1550.0 3230.6 1532.9 3234.2 1516.4 3237.5C1501.1 3240.5 1485.3 3243.2 1470.0 3246.0C1459.1 3248.0 1447.9 3250.2 1437.0 3252.0C1420.5 3254.8 1403.5 3257.2 1387.0 3260.0C1372.9 3262.4 1358.6 3266.0 1344.5 3268.0C1325.6 3270.6 1306.0 3272.5 1287.0 3274.0C1264.9 3275.7 1242.1 3276.6 1220.0 3277.5C1187.0 3278.9 1153.0 3280.2 1120.0 3281.0C1087.0 3281.8 1053.0 3283.4 1020.0 3282.5C996.4 3281.9 972.2 3278.4 948.6 3276.4C925.0 3274.4 900.6 3272.9 877.0 3270.4C853.4 3267.9 829.1 3265.1 805.7 3261.4C785.9 3258.2 765.8 3253.6 746.2 3249.5C729.8 3246.0 713.0 3242.3 696.7 3238.4C680.3 3234.4 663.6 3229.9 647.3 3225.5C630.9 3221.1 614.0 3216.7 597.8 3211.7C581.4 3206.6 564.6 3200.8 548.4 3195.0C532.0 3189.2 515.1 3183.0 498.9 3176.5C482.4 3169.9 465.7 3162.6 449.5 3155.5C440.5 3151.6 430.7 3148.4 422.3 3143.2C401.0 3130.0 380.2 3114.8 360.0 3100.0C338.2 3084.0 315.8 3067.3 295.0 3050.0C276.2 3034.3 257.8 3016.9 240.0 3000.0C223.1 2983.9 206.1 2966.9 190.0 2950.0C174.7 2933.9 158.9 2917.3 145.0 2900.0C132.4 2884.3 121.0 2866.9 110.0 2850.0C99.5 2833.9 89.3 2816.9 80.0 2800.0C71.1 2783.8 61.9 2767.1 55.0 2750.0C48.6 2734.0 43.4 2716.9 40.0 2700.0C36.7 2683.7 35.7 2666.6 35.0 2650.0C34.3 2633.5 34.6 2616.5 35.7 2600.0C36.7 2585.3 38.0 2570.0 41.5 2555.7C46.8 2534.0 54.2 2512.1 62.5 2491.4C68.8 2475.5 76.7 2459.6 85.7 2445.0C95.0 2429.9 105.9 2415.1 117.9 2402.0C130.8 2387.9 145.6 2374.8 160.7 2363.0C177.4 2349.9 195.5 2337.4 214.0 2327.0C236.8 2314.2 261.4 2302.7 285.7 2293.0C308.7 2283.8 333.1 2276.4 357.0 2270.0C377.5 2264.5 399.0 2260.4 420.0 2257.0C438.0 2254.1 456.8 2252.0 475.0 2251.0Z"/>
<path fill="#F7F285" d="M1735.0 2655.0C1731.2 2662.3 1727.5 2669.7 1723.6 2676.8C1716.7 2689.3 1709.0 2701.8 1702.0 2714.3C1694.8 2727.2 1687.7 2740.6 1680.7 2753.6C1673.7 2766.6 1666.6 2780.1 1659.3 2792.9C1652.5 2804.8 1644.8 2816.7 1637.9 2828.6C1631.8 2839.1 1625.6 2849.9 1620.0 2860.7C1615.4 2869.6 1611.0 2878.9 1607.0 2888.0C1603.4 2896.2 1601.1 2905.3 1597.0 2913.3C1591.2 2924.7 1583.6 2935.7 1577.0 2946.7C1570.4 2957.7 1564.7 2969.7 1557.0 2980.0C1551.4 2987.5 1544.9 2995.1 1537.0 3000.0C1527.0 3006.3 1515.0 3009.7 1503.7 3013.3C1487.4 3018.5 1470.2 3022.3 1453.7 3026.7C1437.2 3031.1 1420.2 3035.6 1403.7 3040.0C1387.2 3044.4 1370.3 3049.2 1353.7 3053.3C1337.3 3057.4 1320.2 3061.0 1303.7 3065.0C1284.3 3069.8 1264.7 3076.4 1245.0 3080.0C1228.7 3083.0 1211.5 3083.4 1195.0 3085.0C1176.9 3086.7 1158.0 3087.2 1140.0 3090.0C1126.6 3092.1 1112.5 3094.6 1100.0 3100.0C1089.1 3104.7 1079.1 3112.4 1070.0 3120.0C1059.2 3129.0 1050.1 3140.3 1040.0 3150.0C1030.3 3159.3 1020.5 3169.2 1010.0 3177.5C1000.7 3184.9 990.6 3192.2 980.0 3197.5C969.0 3203.0 957.0 3207.7 945.0 3210.0C933.7 3212.2 921.4 3212.8 910.0 3211.0C899.6 3209.4 888.6 3206.2 880.0 3200.0C871.4 3193.8 864.6 3184.5 860.0 3175.0C854.8 3164.3 852.7 3151.8 851.0 3140.0C849.1 3126.9 849.3 3113.2 849.0 3100.0C848.6 3083.5 849.0 3066.5 849.0 3050.0C849.0 3033.5 848.9 3016.5 849.0 3000.0C849.0 2991.1 849.4 2981.9 849.3 2973.0C849.2 2963.1 849.1 2952.9 848.3 2943.0C847.7 2935.4 847.9 2927.1 845.0 2920.0C842.8 2914.6 838.3 2909.7 833.3 2906.7C827.4 2903.2 820.1 2901.7 813.3 2901.0C808.9 2900.5 803.9 2901.2 800.0 2903.3C795.9 2905.5 792.1 2909.1 790.0 2913.3C787.0 2919.4 786.2 2926.6 785.0 2933.3C783.4 2942.0 782.8 2951.2 781.7 2960.0C780.6 2968.8 779.6 2977.9 778.3 2986.7C776.8 2996.6 774.9 3006.8 773.3 3016.7C771.6 3026.6 769.9 3036.8 768.3 3046.7C765.5 3064.3 763.5 3082.5 760.0 3100.0C756.6 3116.7 752.5 3133.7 747.5 3150.0C743.4 3163.5 736.6 3176.5 732.5 3190.0C730.0 3198.0 727.5 3206.6 727.5 3215.0C727.5 3223.4 730.3 3231.9 732.5 3240.0C734.5 3247.4 737.5 3254.7 740.0 3262.0C733.3 3281.3 726.7 3300.7 720.0 3320.0C1146.7 3320.0 1573.3 3320.0 2000.0 3320.0C2000.0 3080.0 2000.0 2840.0 2000.0 2600.0C1911.7 2618.3 1823.3 2636.7 1735.0 2655.0Z" clip-path="url(#clip_c)"/>
<path fill="#E8D3B0" d="M1820.0 2715.0C1816.2 2720.1 1812.1 2725.1 1808.6 2730.4C1801.4 2741.4 1794.7 2753.1 1787.9 2764.3C1780.8 2776.1 1773.5 2788.2 1766.4 2800.0C1759.3 2811.8 1752.3 2824.1 1745.0 2835.7C1738.2 2846.5 1730.6 2857.2 1723.6 2867.9C1718.8 2875.2 1714.5 2883.0 1709.3 2890.0C1703.4 2898.0 1696.4 2905.6 1690.0 2913.3C1679.1 2926.5 1667.9 2940.1 1657.0 2953.3C1647.1 2965.4 1637.2 2978.1 1627.0 2990.0C1617.4 3001.2 1607.5 3012.8 1597.0 3023.3C1586.5 3033.8 1575.0 3043.7 1563.7 3053.3C1552.9 3062.4 1541.1 3070.9 1530.3 3080.0C1519.0 3089.6 1508.3 3100.4 1497.0 3110.0C1486.3 3119.1 1475.0 3128.2 1463.7 3136.7C1455.2 3143.1 1445.0 3148.0 1437.0 3155.0C1422.9 3167.3 1409.3 3181.0 1397.0 3195.0C1386.1 3207.4 1376.2 3221.3 1367.0 3235.0C1361.6 3243.1 1357.7 3252.3 1353.0 3261.0C1352.0 3280.7 1351.0 3300.3 1350.0 3320.0C1566.7 3320.0 1783.3 3320.0 2000.0 3320.0C2000.0 3113.3 2000.0 2906.7 2000.0 2700.0C1940.0 2705.0 1880.0 2710.0 1820.0 2715.0Z" clip-path="url(#clip_c)"/>
<path fill="#FCC055" d="M1684.0 2915.0C1675.0 2927.3 1666.3 2940.1 1657.0 2952.0C1647.4 2964.3 1637.1 2976.7 1627.0 2988.5C1617.3 2999.8 1607.5 3011.5 1597.0 3022.0C1586.6 3032.5 1574.6 3042.0 1563.7 3052.0C1558.8 3056.5 1553.9 3061.3 1549.0 3066.0C1554.7 3062.2 1560.8 3058.8 1566.0 3054.5C1577.3 3045.2 1588.6 3035.3 1599.0 3025.0C1609.4 3014.6 1619.4 3003.2 1629.0 2992.0C1639.2 2980.1 1649.9 2967.8 1659.0 2955.0C1668.0 2942.3 1675.7 2928.3 1684.0 2915.0Z"/>
<path fill="#F7F285" d="M420.0 2535.0C424.9 2527.1 431.8 2519.4 440.0 2515.0C452.2 2508.4 466.5 2505.5 480.0 2502.5C494.6 2499.2 510.0 2496.4 525.0 2496.0C538.3 2495.6 552.0 2497.2 565.0 2500.0C573.7 2501.9 582.5 2505.3 590.0 2510.0C593.9 2512.4 599.4 2516.5 598.5 2521.0C597.2 2527.3 590.8 2532.2 585.0 2535.0C574.2 2540.3 561.6 2541.9 550.0 2545.0C536.9 2548.5 522.9 2550.7 510.0 2555.0C498.1 2559.0 486.4 2564.7 475.0 2570.0C465.0 2574.6 455.4 2581.2 445.0 2585.0C439.5 2587.0 433.0 2589.5 427.5 2587.5C422.5 2585.7 419.4 2579.9 417.5 2575.0C415.1 2568.8 414.6 2561.6 415.0 2555.0C415.4 2548.2 416.4 2540.8 420.0 2535.0Z"/>
<path fill="#F7F285" d="M803.3 2618.0C798.0 2616.6 791.9 2618.3 786.7 2620.0C779.7 2622.3 772.8 2625.9 766.7 2630.0C759.5 2634.8 753.3 2641.2 746.7 2646.7C740.1 2652.2 734.3 2659.3 726.7 2663.3C718.6 2667.7 708.8 2669.0 700.0 2671.7C694.5 2673.4 687.8 2673.1 683.3 2676.7C679.4 2679.7 676.7 2685.1 676.7 2690.0C676.7 2695.9 682.7 2700.8 683.3 2706.7C683.9 2712.3 681.9 2718.1 680.0 2723.3C677.5 2730.2 673.0 2736.6 670.0 2743.3C668.1 2747.6 664.2 2752.0 665.0 2756.7C665.6 2760.2 669.8 2763.3 673.3 2763.3C681.3 2763.3 689.2 2759.4 696.7 2756.7C701.3 2755.0 705.4 2748.3 710.0 2750.0C714.4 2751.6 713.7 2758.8 715.0 2763.3C717.0 2769.8 717.6 2776.9 720.0 2783.3C722.6 2790.2 725.9 2797.2 730.0 2803.3C733.7 2808.8 736.7 2817.5 743.3 2818.3C749.1 2819.0 753.2 2811.4 756.7 2806.7C762.1 2799.6 765.6 2791.0 770.0 2783.3C775.0 2774.5 780.1 2765.5 785.0 2756.7C790.0 2747.9 797.1 2739.7 800.0 2730.0C802.2 2722.6 800.0 2714.4 800.0 2706.7C800.0 2700.1 798.5 2693.1 800.0 2686.7C801.9 2678.5 807.3 2671.2 810.0 2663.3C812.2 2656.9 814.6 2650.1 815.0 2643.3C815.3 2637.7 814.3 2631.8 812.0 2626.7C810.3 2623.0 807.2 2619.0 803.3 2618.0Z"/>
<path fill="#F7F285" d="M910.0 2723.3C905.9 2727.0 908.3 2734.5 908.3 2740.0C908.3 2746.6 908.1 2753.6 910.0 2760.0C912.1 2767.1 915.8 2774.0 920.0 2780.0C923.6 2785.1 928.2 2789.7 933.3 2793.3C939.3 2797.5 946.2 2801.4 953.3 2803.3C960.8 2805.3 969.0 2805.8 976.7 2805.0C984.7 2804.1 992.4 2800.9 1000.0 2798.3C1006.8 2796.0 1013.1 2791.8 1020.0 2790.0C1027.5 2788.0 1035.8 2788.6 1043.3 2786.7C1049.1 2785.3 1056.0 2784.4 1060.0 2780.0C1063.0 2776.7 1062.8 2771.0 1061.7 2766.7C1060.5 2762.1 1057.2 2757.7 1053.3 2755.0C1047.5 2750.9 1040.2 2748.7 1033.3 2746.7C1026.9 2744.8 1020.0 2743.0 1013.3 2743.3C1006.5 2743.6 999.5 2745.5 993.3 2748.3C987.2 2751.1 982.3 2756.3 976.7 2760.0C971.3 2763.5 966.1 2768.0 960.0 2770.0C955.8 2771.4 950.5 2772.2 946.7 2770.0C941.9 2767.3 938.9 2761.7 936.7 2756.7C934.4 2751.6 934.9 2745.4 933.3 2740.0C931.6 2734.3 931.5 2726.8 926.7 2723.3C922.2 2720.1 914.1 2719.6 910.0 2723.3Z"/>
<path fill="#F7F285" d="M1006.7 2850.0C1002.1 2850.0 997.3 2851.1 993.3 2853.3C987.1 2856.7 981.2 2861.2 976.7 2866.7C971.1 2873.6 967.1 2882.0 963.3 2890.0C959.3 2898.5 955.8 2907.6 953.3 2916.7C950.9 2925.3 949.2 2934.4 948.3 2943.3C947.5 2951.0 947.4 2959.0 948.3 2966.7C949.1 2973.5 950.5 2980.5 953.3 2986.7C956.6 2993.9 961.6 3000.6 966.7 3006.7C970.5 3011.1 974.2 3017.4 980.0 3018.3C983.8 3018.9 986.8 3013.6 988.3 3010.0C991.4 3002.8 991.8 2994.4 993.3 2986.7C995.1 2977.9 997.2 2968.9 998.3 2960.0C999.4 2951.2 999.7 2942.1 1000.0 2933.3C1000.3 2924.5 999.1 2915.4 1000.0 2906.7C1000.8 2898.8 1002.9 2890.9 1005.0 2883.3C1006.8 2876.6 1010.0 2870.0 1011.7 2863.3C1012.5 2860.1 1013.9 2856.4 1012.7 2853.3C1011.9 2851.2 1009.0 2850.0 1006.7 2850.0Z"/>
<path fill="#F7F285" d="M1230.0 2826.0C1224.3 2826.0 1218.3 2827.4 1213.3 2830.0C1207.1 2833.2 1202.4 2839.2 1196.7 2843.3C1190.3 2848.0 1183.8 2853.1 1176.7 2856.7C1168.3 2860.9 1158.8 2863.3 1150.0 2866.7C1143.3 2869.3 1136.0 2871.0 1130.0 2875.0C1127.3 2876.8 1124.4 2880.2 1125.0 2883.3C1125.8 2887.1 1129.7 2890.3 1133.3 2891.7C1141.7 2894.9 1151.1 2895.4 1160.0 2896.7C1166.6 2897.6 1173.9 2895.8 1180.0 2898.3C1187.6 2901.5 1194.3 2907.3 1200.0 2913.3C1205.5 2919.0 1208.3 2927.2 1213.3 2933.3C1218.2 2939.3 1223.6 2945.5 1230.0 2950.0C1234.9 2953.4 1240.8 2957.4 1246.7 2956.7C1251.3 2956.1 1254.6 2950.9 1256.7 2946.7C1259.2 2941.7 1260.0 2935.6 1260.0 2930.0C1260.0 2923.3 1258.3 2916.5 1256.7 2910.0C1255.0 2903.2 1252.1 2896.6 1250.0 2890.0C1247.6 2882.4 1245.0 2874.5 1243.3 2866.7C1241.7 2859.1 1241.4 2851.0 1240.0 2843.3C1239.2 2838.8 1239.0 2833.9 1236.7 2830.0C1235.4 2827.8 1232.6 2826.0 1230.0 2826.0Z"/>
<path fill="#F7F285" d="M540.0 3021.5C526.7 3021.8 513.1 3020.7 500.0 3022.5C486.5 3024.4 472.8 3027.8 460.0 3032.5C447.9 3036.9 436.0 3043.2 425.0 3050.0C414.5 3056.5 404.6 3064.7 395.0 3072.5C386.4 3079.5 378.1 3087.4 370.0 3095.0C364.9 3099.8 360.0 3105.0 355.0 3110.0C363.3 3118.3 371.7 3126.7 380.0 3135.0C395.0 3140.0 410.0 3145.0 425.0 3150.0C428.3 3141.7 431.7 3133.2 435.0 3125.0C438.3 3116.8 440.4 3107.6 445.0 3100.0C450.4 3090.9 457.5 3082.5 465.0 3075.0C474.1 3065.9 484.5 3057.4 495.0 3050.0C504.4 3043.4 515.3 3038.6 525.0 3032.5C530.2 3029.2 535.0 3025.2 540.0 3021.5Z" clip-path="url(#clip_c)"/>
<path fill="#EE7C2D" d="M537.5 2340.0C526.2 2334.9 512.4 2336.1 500.0 2336.5C486.7 2336.9 472.7 2338.5 460.0 2342.5C447.7 2346.4 436.0 2353.2 425.0 2360.0C416.0 2365.6 406.3 2371.5 400.0 2380.0C393.6 2388.6 390.3 2399.6 387.5 2410.0C384.5 2421.3 383.3 2433.4 382.5 2445.0C381.6 2458.2 381.6 2471.8 382.5 2485.0C383.3 2496.6 384.8 2508.7 387.5 2520.0C389.0 2526.1 390.1 2533.6 395.0 2537.5C397.3 2539.4 399.3 2532.9 400.0 2530.0C401.9 2521.9 401.5 2513.2 402.5 2505.0C403.9 2493.4 405.4 2481.5 407.5 2470.0C409.6 2458.4 411.1 2446.2 415.0 2435.0C418.6 2424.5 422.6 2413.2 430.0 2405.0C439.5 2394.5 452.7 2387.0 465.0 2380.0C475.9 2373.8 488.6 2370.3 500.0 2365.0C510.0 2360.4 520.8 2356.1 530.0 2350.0C533.4 2347.7 541.3 2341.7 537.5 2340.0Z"/>
<path fill="#EE7C2D" d="M720.0 2432.5C710.0 2433.3 699.6 2432.6 690.0 2435.0C676.3 2438.4 662.8 2444.1 650.0 2450.0C641.3 2454.0 631.8 2458.2 625.0 2465.0C618.2 2471.8 613.3 2481.0 610.0 2490.0C606.6 2499.4 608.4 2510.6 605.0 2520.0C601.7 2529.0 597.4 2538.9 590.0 2545.0C578.6 2554.3 563.2 2558.4 550.0 2565.0C536.8 2571.6 523.5 2579.1 510.0 2585.0C497.1 2590.7 482.8 2594.1 470.0 2600.0C461.3 2604.0 452.0 2608.4 445.0 2615.0C439.3 2620.3 436.0 2628.0 432.5 2635.0C430.2 2639.7 427.9 2644.8 427.5 2650.0C427.1 2654.7 429.2 2659.3 430.0 2664.0C433.3 2660.2 436.1 2655.6 440.0 2652.5C446.1 2647.6 452.8 2642.9 460.0 2640.0C469.5 2636.2 480.0 2634.6 490.0 2632.5C503.1 2629.7 517.2 2629.0 530.0 2625.0C538.9 2622.2 547.6 2617.6 555.0 2612.0C561.0 2607.5 564.2 2599.8 570.0 2595.0C579.2 2587.4 590.1 2581.6 600.0 2575.0C609.9 2568.4 620.7 2562.4 630.0 2555.0C637.3 2549.2 645.8 2543.3 650.0 2535.0C653.0 2529.1 648.6 2521.4 650.0 2515.0C651.9 2506.3 654.5 2497.0 660.0 2490.0C666.5 2481.7 676.8 2476.6 685.0 2470.0C693.2 2463.4 702.8 2457.7 710.0 2450.0C714.5 2445.1 716.7 2438.3 720.0 2432.5Z"/>
<path fill="#EE7C2D" d="M355.0 2553.5C345.0 2554.8 334.7 2555.2 325.0 2557.5C314.8 2559.9 304.3 2562.8 295.0 2567.5C286.0 2572.0 278.7 2579.9 270.0 2585.0C260.5 2590.6 250.7 2597.3 240.0 2600.0C227.2 2603.2 213.1 2600.8 200.0 2602.5C188.3 2604.1 175.6 2604.7 165.0 2610.0C156.7 2614.2 149.9 2622.0 145.0 2630.0C140.5 2637.3 138.5 2646.5 137.5 2655.0C136.5 2662.9 138.5 2671.0 139.0 2679.0C142.7 2675.2 145.8 2670.7 150.0 2667.5C156.2 2662.7 162.7 2657.7 170.0 2655.0C182.7 2650.2 196.8 2648.3 210.0 2645.0C223.2 2641.7 237.2 2639.6 250.0 2635.0C260.4 2631.3 270.5 2625.7 280.0 2620.0C287.1 2615.8 293.8 2610.4 300.0 2605.0C307.0 2598.9 313.4 2591.6 320.0 2585.0C326.6 2578.4 333.1 2571.2 340.0 2565.0C344.6 2560.8 350.0 2557.3 355.0 2553.5Z"/>
<path fill="#EE7C2D" d="M760.0 2564.0C750.0 2564.3 739.8 2563.7 730.0 2565.0C718.3 2566.5 706.4 2569.3 695.0 2572.5C683.2 2575.9 671.3 2580.2 660.0 2585.0C649.8 2589.3 639.7 2594.8 630.0 2600.0C618.3 2606.3 605.9 2612.4 595.0 2620.0C584.4 2627.3 572.7 2634.7 565.0 2645.0C559.8 2651.9 558.3 2661.4 557.5 2670.0C556.6 2679.9 558.7 2690.1 560.0 2700.0C560.9 2706.7 562.7 2713.3 564.0 2720.0C566.8 2713.3 569.2 2706.3 572.5 2700.0C576.1 2693.1 580.1 2686.0 585.0 2680.0C590.9 2672.8 597.7 2665.8 605.0 2660.0C614.3 2652.6 624.7 2646.0 635.0 2640.0C642.9 2635.4 652.2 2632.7 660.0 2628.0C668.7 2622.8 676.3 2615.2 685.0 2610.0C694.5 2604.3 705.1 2599.9 715.0 2595.0C724.9 2590.1 735.9 2586.3 745.0 2580.0C751.0 2575.9 755.0 2569.3 760.0 2564.0Z"/>
<path fill="#EE7C2D" d="M1017.5 2474.0C1008.3 2474.3 999.0 2473.5 990.0 2475.0C981.5 2476.4 972.7 2478.6 965.0 2482.5C956.0 2487.0 947.7 2493.6 940.0 2500.0C932.8 2506.0 926.1 2513.0 920.0 2520.0C914.6 2526.2 910.4 2533.8 905.0 2540.0C898.9 2547.0 892.0 2553.8 885.0 2560.0C877.1 2567.0 868.3 2573.5 860.0 2580.0C853.5 2585.1 846.2 2589.6 840.0 2595.0C833.6 2600.6 826.7 2606.3 822.0 2613.3C817.3 2620.3 815.5 2629.1 812.0 2636.7C809.2 2642.8 805.8 2648.9 803.0 2655.0C800.8 2659.9 798.8 2665.1 796.7 2670.0C793.4 2677.7 789.0 2685.3 786.7 2693.3C784.5 2700.8 783.6 2708.9 783.3 2716.7C783.0 2724.4 785.6 2732.3 785.0 2740.0C784.5 2746.8 781.8 2753.4 780.0 2760.0C778.5 2765.6 775.0 2770.9 775.0 2776.7C775.0 2782.4 777.7 2788.1 780.0 2793.3C782.6 2799.2 787.7 2804.0 790.0 2810.0C791.2 2813.1 790.2 2816.7 790.0 2820.0C789.6 2827.7 787.8 2835.6 788.3 2843.3C788.9 2851.2 790.3 2859.4 793.3 2866.7C796.4 2874.2 802.2 2880.4 806.7 2887.3C809.5 2883.8 812.9 2880.6 815.0 2876.7C817.9 2871.5 819.9 2865.7 821.7 2860.0C823.8 2853.5 825.3 2846.7 826.7 2840.0C828.1 2833.5 828.7 2826.6 830.0 2820.0C830.9 2815.6 831.0 2810.6 833.3 2806.7C836.1 2802.0 840.9 2798.6 845.0 2795.0C849.7 2790.9 855.0 2787.1 860.0 2783.3C864.4 2780.0 869.7 2777.5 873.3 2773.3C876.5 2769.6 879.1 2764.8 880.0 2760.0C880.8 2755.7 880.8 2750.4 878.3 2746.7C875.9 2743.0 871.0 2741.2 866.7 2740.0C859.2 2737.9 850.0 2740.7 843.3 2736.7C837.8 2733.4 835.0 2726.2 833.3 2720.0C831.6 2713.6 832.3 2706.5 833.3 2700.0C834.5 2692.1 836.9 2684.1 840.0 2676.7C843.5 2668.5 848.5 2660.8 853.3 2653.3C858.4 2645.3 864.2 2637.5 870.0 2630.0C875.3 2623.2 880.6 2616.1 886.7 2610.0C892.8 2603.9 899.5 2598.0 906.7 2593.3C912.3 2589.7 919.9 2589.3 925.0 2585.0C931.3 2579.7 935.0 2571.6 940.0 2565.0C945.0 2558.4 950.6 2552.0 955.0 2545.0C958.9 2538.7 961.1 2531.3 965.0 2525.0C969.4 2518.0 974.2 2510.8 980.0 2505.0C987.5 2497.5 996.9 2491.7 1005.0 2485.0C1009.2 2481.5 1013.3 2477.7 1017.5 2474.0Z"/>
<path fill="#EE7C2D" d="M1078.3 2603.3C1068.9 2603.3 1059.1 2601.4 1050.0 2603.3C1042.8 2604.8 1036.1 2609.2 1030.0 2613.3C1022.8 2618.1 1016.6 2624.5 1010.0 2630.0C1003.4 2635.5 997.3 2642.2 990.0 2646.7C982.9 2651.1 973.9 2652.5 966.7 2656.7C960.6 2660.2 954.7 2664.7 950.0 2670.0C945.7 2674.8 942.2 2680.7 940.0 2686.7C937.7 2693.0 936.1 2700.0 936.7 2706.7C937.2 2712.1 940.4 2717.2 943.0 2722.0C945.9 2727.2 950.2 2731.6 953.3 2736.7C955.9 2740.9 957.3 2745.9 960.0 2750.0C961.7 2752.6 963.7 2755.9 966.7 2756.7C968.6 2757.2 970.7 2755.0 971.7 2753.3C974.1 2749.3 975.4 2744.5 976.7 2740.0C978.2 2734.6 980.0 2728.9 980.0 2723.3C980.0 2717.7 976.7 2712.3 976.7 2706.7C976.7 2701.1 977.3 2694.9 980.0 2690.0C983.0 2684.6 988.1 2680.0 993.3 2676.7C1000.4 2672.2 1009.5 2671.1 1016.7 2666.7C1024.0 2662.2 1031.3 2656.7 1036.7 2650.0C1041.4 2644.3 1042.0 2635.7 1046.7 2630.0C1052.1 2623.3 1060.1 2618.8 1066.7 2613.3C1070.6 2610.0 1074.4 2606.6 1078.3 2603.3Z"/>
<path fill="#EE7C2D" d="M424.0 2718.5C417.2 2713.9 407.4 2721.4 400.0 2725.0C389.3 2730.2 379.2 2737.5 370.0 2745.0C361.0 2752.4 351.3 2760.2 345.0 2770.0C339.4 2778.8 337.0 2789.8 335.0 2800.0C332.8 2811.4 332.5 2823.4 332.5 2835.0C332.5 2844.9 333.0 2855.3 335.0 2865.0C336.3 2871.1 337.3 2879.0 342.5 2882.5C345.4 2884.4 348.5 2878.2 350.0 2875.0C354.4 2865.5 356.7 2854.9 360.0 2845.0C363.3 2835.1 366.7 2824.9 370.0 2815.0C373.3 2805.1 375.7 2794.5 380.0 2785.0C384.0 2776.2 389.5 2767.9 395.0 2760.0C401.1 2751.3 408.9 2743.7 415.0 2735.0C418.6 2729.9 429.2 2721.9 424.0 2718.5Z"/>
<path fill="#EE7C2D" d="M656.0 2816.5C645.7 2816.3 635.1 2814.5 625.0 2816.0C616.3 2817.3 606.7 2819.3 600.0 2825.0C592.7 2831.2 589.0 2841.2 585.0 2850.0C580.7 2859.5 578.3 2870.1 575.0 2880.0C571.7 2889.9 567.1 2899.8 565.0 2910.0C563.0 2919.7 561.3 2930.1 562.5 2940.0C563.8 2950.4 568.2 2960.5 572.5 2970.0C575.7 2977.1 580.8 2983.3 585.0 2990.0C585.8 2988.3 587.0 2986.8 587.5 2985.0C590.3 2975.2 591.5 2964.6 595.0 2955.0C598.2 2946.3 603.7 2938.4 607.5 2930.0C611.1 2921.9 615.5 2913.7 617.5 2905.0C619.7 2895.3 618.7 2884.8 620.0 2875.0C621.1 2866.7 621.6 2857.7 625.0 2850.0C628.4 2842.5 634.4 2836.1 640.0 2830.0C644.7 2824.9 650.7 2821.0 656.0 2816.5Z"/>
<path fill="#EE7C2D" d="M696.7 2760.0C692.2 2766.7 687.1 2773.0 683.3 2780.0C679.9 2786.3 676.8 2793.1 675.0 2800.0C673.0 2807.5 671.2 2815.6 671.7 2823.3C672.3 2831.3 674.7 2839.5 678.3 2846.7C682.0 2854.1 687.6 2860.7 693.3 2866.7C699.2 2872.9 706.4 2878.3 713.3 2883.3C721.2 2889.0 730.0 2894.0 738.3 2899.3C735.5 2894.0 733.1 2888.4 730.0 2883.3C725.9 2876.5 720.7 2870.1 716.7 2863.3C713.0 2856.9 709.0 2850.3 706.7 2843.3C704.6 2837.0 703.6 2830.0 703.3 2823.3C703.0 2815.6 705.3 2807.7 705.0 2800.0C704.8 2793.3 703.1 2786.5 701.7 2780.0C700.3 2773.3 698.4 2766.7 696.7 2760.0Z"/>
<path fill="#EE7C2D" d="M1098.3 2686.7C1091.1 2690.0 1083.4 2692.6 1076.7 2696.7C1070.7 2700.4 1064.7 2704.7 1060.0 2710.0C1055.7 2714.8 1051.7 2720.5 1050.0 2726.7C1048.3 2733.1 1048.4 2740.3 1050.0 2746.7C1051.8 2753.9 1057.4 2759.8 1060.0 2766.7C1062.4 2773.1 1064.5 2779.9 1065.0 2786.7C1065.6 2794.4 1063.0 2802.3 1063.3 2810.0C1063.6 2817.3 1064.9 2824.9 1066.7 2832.0C1068.2 2838.1 1070.5 2844.3 1073.3 2850.0C1077.2 2858.0 1082.0 2865.8 1086.7 2873.3C1090.9 2880.0 1095.8 2886.6 1100.0 2893.3C1102.2 2896.7 1104.0 2900.4 1106.0 2904.0C1105.1 2899.3 1104.4 2894.6 1103.3 2890.0C1101.4 2882.2 1098.9 2874.4 1096.7 2866.7C1094.5 2859.0 1092.2 2851.0 1090.0 2843.3C1087.8 2835.6 1084.9 2827.8 1083.3 2820.0C1082.6 2816.8 1083.5 2813.3 1083.3 2810.0C1083.0 2804.5 1080.6 2798.7 1081.7 2793.3C1082.9 2787.3 1088.0 2782.5 1090.0 2776.7C1091.8 2771.4 1093.6 2765.6 1093.3 2760.0C1093.0 2753.2 1089.4 2746.7 1088.3 2740.0C1087.2 2733.5 1085.9 2726.6 1086.7 2720.0C1087.6 2713.1 1091.0 2706.6 1093.3 2700.0C1094.8 2695.6 1096.6 2691.1 1098.3 2686.7Z"/>
<path fill="#EE7C2D" d="M1250.0 2643.3C1242.2 2646.6 1234.3 2649.8 1226.7 2653.3C1217.8 2657.5 1208.1 2661.1 1200.0 2666.7C1193.6 2671.1 1187.5 2676.8 1183.3 2683.3C1180.2 2688.1 1177.8 2694.3 1178.3 2700.0C1179.0 2707.1 1183.1 2713.8 1186.7 2720.0C1190.3 2726.1 1196.9 2730.4 1200.0 2736.7C1202.5 2741.7 1205.1 2748.0 1203.3 2753.3C1201.3 2759.2 1195.0 2763.0 1190.0 2766.7C1182.8 2771.9 1174.2 2775.4 1166.7 2780.0C1159.9 2784.1 1152.5 2787.9 1146.7 2793.3C1141.8 2797.9 1137.9 2803.9 1135.0 2810.0C1132.8 2814.6 1132.0 2819.9 1131.7 2825.0C1131.4 2830.0 1132.4 2835.1 1133.3 2840.0C1134.6 2846.7 1136.6 2853.3 1138.3 2860.0C1140.0 2857.8 1141.4 2855.3 1143.3 2853.3C1147.5 2848.7 1151.7 2843.7 1156.7 2840.0C1163.9 2834.8 1172.2 2830.9 1180.0 2826.7C1188.7 2822.1 1198.1 2818.2 1206.7 2813.3C1213.6 2809.4 1221.6 2806.1 1226.7 2800.0C1233.0 2792.4 1234.7 2781.6 1240.0 2773.3C1243.2 2768.3 1248.4 2764.7 1252.0 2760.0C1255.1 2755.9 1257.7 2751.3 1260.0 2746.7C1262.6 2741.4 1266.7 2735.9 1266.7 2730.0C1266.7 2725.1 1262.5 2720.9 1260.0 2716.7C1256.3 2710.4 1251.5 2704.4 1248.0 2698.0C1244.9 2692.3 1240.2 2686.5 1240.0 2680.0C1239.8 2673.0 1244.9 2666.7 1246.7 2660.0C1248.2 2654.6 1248.9 2648.9 1250.0 2643.3Z"/>
<path fill="#EE7C2D" d="M1446.7 2788.3C1436.7 2787.8 1426.6 2786.4 1416.7 2786.7C1408.9 2786.9 1400.3 2786.5 1393.3 2790.0C1386.3 2793.5 1381.6 2800.7 1376.7 2806.7C1371.7 2812.9 1367.5 2819.9 1363.3 2826.7C1358.7 2834.2 1354.4 2842.3 1350.0 2850.0C1345.6 2857.7 1340.9 2865.5 1336.7 2873.3C1332.1 2882.0 1327.0 2890.8 1323.3 2900.0C1320.3 2907.4 1318.3 2915.5 1316.7 2923.3C1315.6 2928.7 1317.9 2935.3 1315.0 2940.0C1311.8 2945.0 1305.0 2946.7 1300.0 2950.0C1293.4 2954.4 1286.0 2958.1 1280.0 2963.3C1270.5 2971.4 1262.1 2981.2 1253.3 2990.0C1247.8 2995.5 1241.4 3000.5 1236.7 3006.7C1232.0 3012.8 1227.9 3019.6 1225.0 3026.7C1222.9 3031.9 1220.8 3037.8 1221.7 3043.3C1222.5 3048.2 1226.0 3053.0 1230.0 3056.0C1231.5 3057.1 1233.6 3054.6 1235.0 3053.3C1239.2 3049.3 1242.9 3044.5 1246.7 3040.0C1252.3 3033.5 1257.2 3026.1 1263.3 3020.0C1268.3 3015.0 1274.1 3010.5 1280.0 3006.7C1286.2 3002.7 1293.0 2999.1 1300.0 2996.7C1307.4 2994.1 1315.6 2993.2 1323.3 2991.7C1332.1 2989.9 1341.5 2989.6 1350.0 2986.7C1356.1 2984.6 1362.8 2981.8 1366.7 2976.7C1371.0 2971.2 1371.7 2963.5 1373.3 2956.7C1375.1 2949.1 1375.5 2941.0 1376.7 2933.3C1377.7 2926.7 1379.3 2920.0 1380.0 2913.3C1380.8 2905.6 1380.4 2897.7 1381.0 2890.0C1381.5 2883.4 1381.8 2876.5 1383.3 2870.0C1384.8 2863.2 1386.9 2856.2 1390.0 2850.0C1393.5 2842.9 1398.3 2836.1 1403.3 2830.0C1408.2 2824.0 1414.4 2818.7 1420.0 2813.3C1425.4 2808.1 1431.2 2803.1 1436.7 2798.0C1440.1 2794.9 1443.4 2791.5 1446.7 2788.3Z"/>
<path fill="#EE7C2D" d="M935.0 2813.3C926.7 2814.4 918.2 2815.0 910.0 2816.7C902.2 2818.3 894.0 2819.9 886.7 2823.3C879.5 2826.6 872.6 2831.4 866.7 2836.7C860.3 2842.5 854.3 2849.3 850.0 2856.7C846.5 2862.7 843.3 2869.7 843.3 2876.7C843.3 2883.7 847.3 2890.3 850.0 2896.7C852.8 2903.5 856.5 2910.2 860.0 2916.7C862.0 2920.4 864.5 2924.0 866.7 2927.7C868.4 2924.0 870.5 2920.5 871.7 2916.7C873.8 2910.2 875.4 2903.4 876.7 2896.7C878.2 2889.0 878.2 2880.9 880.0 2873.3C881.6 2866.5 883.4 2859.4 886.7 2853.3C890.1 2847.1 894.8 2841.4 900.0 2836.7C905.9 2831.4 913.4 2827.7 920.0 2823.3C924.9 2820.0 930.0 2816.6 935.0 2813.3Z"/>
<path fill="#EE7C2D" d="M1015.0 2826.0C1005.6 2826.8 996.0 2827.0 986.7 2828.3C978.9 2829.4 970.2 2829.5 963.3 2833.3C956.5 2837.0 952.2 2844.5 946.7 2850.0C941.2 2855.5 936.5 2862.4 930.0 2866.7C923.0 2871.3 913.5 2871.8 906.7 2876.7C901.0 2880.8 895.8 2886.7 893.3 2893.3C890.6 2900.5 890.7 2909.0 891.7 2916.7C892.9 2925.8 896.8 2934.7 900.0 2943.3C902.9 2951.2 906.5 2959.1 910.0 2966.7C912.0 2971.2 914.5 2975.6 916.7 2980.0C916.7 2972.2 917.3 2964.4 916.7 2956.7C916.1 2948.9 912.7 2941.1 913.3 2933.3C913.8 2927.4 916.6 2921.5 920.0 2916.7C924.5 2910.3 931.2 2905.5 936.7 2900.0C942.2 2894.5 948.4 2889.3 953.3 2883.3C958.3 2877.1 962.0 2869.7 966.7 2863.3C970.8 2857.6 974.8 2851.4 980.0 2846.7C985.9 2841.4 993.2 2837.3 1000.0 2833.3C1004.7 2830.5 1010.0 2828.4 1015.0 2826.0Z"/>
<path fill="#EE7C2D" d="M1042.7 2851.7C1038.5 2856.7 1033.1 2861.0 1030.0 2866.7C1026.8 2872.8 1024.5 2879.8 1024.0 2886.7C1023.4 2894.4 1026.5 2902.3 1026.7 2910.0C1026.9 2917.7 1025.6 2925.6 1025.0 2933.3C1024.5 2939.9 1022.5 2946.7 1023.3 2953.3C1024.2 2961.3 1026.4 2969.5 1030.0 2976.7C1034.2 2985.2 1040.6 2992.8 1046.7 3000.0C1051.8 3006.0 1058.2 3011.1 1064.0 3016.7C1062.1 3011.1 1060.2 3005.5 1058.3 3000.0C1056.1 2993.4 1053.1 2986.8 1051.7 2980.0C1050.4 2973.5 1049.5 2966.6 1050.0 2960.0C1050.6 2953.2 1054.2 2946.8 1055.0 2940.0C1055.8 2933.5 1056.2 2926.5 1055.0 2920.0C1053.5 2912.0 1048.9 2904.6 1046.7 2896.7C1044.5 2889.1 1042.4 2881.2 1041.7 2873.3C1041.1 2866.2 1042.4 2858.9 1042.7 2851.7Z"/>
<path fill="#EE7C2D" d="M1649.0 2647.0C1650.4 2644.6 1652.2 2640.7 1655.0 2641.0C1660.9 2641.7 1665.8 2646.6 1671.0 2649.5C1675.7 2652.2 1681.1 2654.3 1685.0 2658.0C1686.8 2659.7 1688.7 2662.9 1687.5 2665.0C1684.4 2670.6 1677.6 2673.6 1673.6 2678.6C1668.3 2685.2 1663.6 2692.7 1659.3 2700.0C1655.3 2706.8 1652.1 2714.3 1648.6 2721.4C1645.1 2728.5 1642.1 2736.2 1637.9 2742.9C1634.7 2748.0 1630.2 2752.3 1626.4 2757.0C1624.9 2752.3 1622.9 2747.7 1621.8 2742.9C1620.1 2735.9 1617.7 2728.6 1618.0 2721.4C1618.3 2713.0 1620.5 2704.3 1623.6 2696.4C1627.1 2687.6 1633.6 2679.9 1637.9 2671.4C1641.9 2663.5 1644.7 2654.7 1649.0 2647.0Z"/>
<path fill="#EE7C2D" d="M1632.0 2832.5C1622.0 2834.2 1611.6 2834.7 1602.0 2837.5C1591.7 2840.5 1580.9 2843.9 1572.0 2850.0C1564.8 2855.0 1558.4 2862.2 1554.5 2870.0C1550.7 2877.5 1552.2 2887.0 1549.5 2895.0C1547.4 2901.1 1544.0 2906.9 1540.0 2912.0C1534.8 2918.6 1527.3 2923.5 1522.0 2930.0C1515.6 2937.8 1508.8 2945.9 1504.5 2955.0C1500.9 2962.7 1499.6 2971.6 1498.5 2980.0C1497.9 2984.9 1499.2 2990.0 1499.5 2995.0C1504.5 2990.8 1509.8 2986.9 1514.5 2982.5C1520.5 2977.0 1525.9 2970.4 1532.0 2965.0C1539.9 2958.0 1549.1 2952.1 1557.0 2945.0C1565.7 2937.2 1575.4 2929.6 1582.0 2920.0C1588.0 2911.1 1590.1 2899.8 1594.5 2890.0C1598.3 2881.6 1602.2 2872.9 1607.0 2865.0C1611.3 2858.0 1617.0 2851.5 1622.0 2845.0C1625.2 2840.8 1628.7 2836.7 1632.0 2832.5Z"/>
<circle cx="442.0" cy="2420.0" r="4.8" fill="#151515"/>
<circle cx="395.0" cy="2463.5" r="4.8" fill="#151515"/>
<circle cx="648.0" cy="2468.0" r="4.8" fill="#151515"/>
<circle cx="632.0" cy="2478.5" r="4.8" fill="#151515"/>
<circle cx="523.5" cy="2526.5" r="4.8" fill="#151515"/>
<circle cx="454.0" cy="2540.5" r="4.8" fill="#151515"/>
<circle cx="550.5" cy="2578.0" r="4.8" fill="#151515"/>
<circle cx="276.0" cy="2592.0" r="4.8" fill="#151515"/>
<circle cx="699.5" cy="2587.5" r="4.8" fill="#151515"/>
<circle cx="448.0" cy="2621.5" r="4.8" fill="#151515"/>
<circle cx="527.5" cy="2619.5" r="4.8" fill="#151515"/>
<circle cx="629.5" cy="2618.0" r="4.8" fill="#151515"/>
<circle cx="609.0" cy="2628.0" r="4.8" fill="#151515"/>
<circle cx="626.0" cy="2635.5" r="4.8" fill="#151515"/>
<circle cx="158.5" cy="2640.5" r="4.8" fill="#151515"/>
<circle cx="952.5" cy="2501.5" r="4.8" fill="#151515"/>
<circle cx="899.0" cy="2555.5" r="4.8" fill="#151515"/>
<circle cx="1008.5" cy="2578.5" r="4.8" fill="#151515"/>
<circle cx="1150.0" cy="2605.0" r="4.8" fill="#151515"/>
<circle cx="836.5" cy="2603.0" r="4.8" fill="#151515"/>
<circle cx="846.0" cy="2630.5" r="4.8" fill="#151515"/>
<circle cx="796.0" cy="2633.5" r="4.8" fill="#151515"/>
<circle cx="570.5" cy="2677.5" r="4.8" fill="#151515"/>
<circle cx="711.5" cy="2678.5" r="4.8" fill="#151515"/>
<circle cx="695.0" cy="2703.5" r="4.8" fill="#151515"/>
<circle cx="493.0" cy="2720.0" r="4.8" fill="#151515"/>
<circle cx="471.0" cy="2736.0" r="4.8" fill="#151515"/>
<circle cx="585.5" cy="2731.0" r="4.8" fill="#151515"/>
<circle cx="678.0" cy="2754.0" r="4.8" fill="#151515"/>
<circle cx="513.0" cy="2775.5" r="4.8" fill="#151515"/>
<circle cx="545.5" cy="2783.0" r="4.8" fill="#151515"/>
<circle cx="575.0" cy="2786.0" r="4.8" fill="#151515"/>
<circle cx="351.5" cy="2780.0" r="4.8" fill="#151515"/>
<circle cx="503.5" cy="2805.0" r="4.8" fill="#151515"/>
<circle cx="555.5" cy="2807.5" r="4.8" fill="#151515"/>
<circle cx="689.5" cy="2800.0" r="4.8" fill="#151515"/>
<circle cx="408.5" cy="2838.5" r="4.8" fill="#151515"/>
<circle cx="612.5" cy="2831.0" r="4.8" fill="#151515"/>
<circle cx="690.5" cy="2831.0" r="4.8" fill="#151515"/>
<circle cx="693.0" cy="2856.0" r="4.8" fill="#151515"/>
<circle cx="700.5" cy="2888.0" r="4.8" fill="#151515"/>
<circle cx="715.5" cy="2898.5" r="4.8" fill="#151515"/>
<circle cx="573.0" cy="2932.0" r="4.8" fill="#151515"/>
<circle cx="739.0" cy="2665.3" r="4.8" fill="#151515"/>
<circle cx="992.3" cy="2662.7" r="4.8" fill="#151515"/>
<circle cx="817.7" cy="2672.3" r="4.8" fill="#151515"/>
<circle cx="808.7" cy="2684.0" r="4.8" fill="#151515"/>
<circle cx="961.7" cy="2692.0" r="4.8" fill="#151515"/>
<circle cx="925.0" cy="2697.3" r="4.8" fill="#151515"/>
<circle cx="983.3" cy="2708.7" r="4.8" fill="#151515"/>
<circle cx="823.3" cy="2711.3" r="4.8" fill="#151515"/>
<circle cx="802.3" cy="2733.3" r="4.8" fill="#151515"/>
<circle cx="950.0" cy="2735.3" r="4.8" fill="#151515"/>
<circle cx="971.0" cy="2738.0" r="4.8" fill="#151515"/>
<circle cx="1063.3" cy="2734.0" r="4.8" fill="#151515"/>
<circle cx="832.0" cy="2750.3" r="4.8" fill="#151515"/>
<circle cx="732.0" cy="2752.3" r="4.8" fill="#151515"/>
<circle cx="803.3" cy="2762.3" r="4.8" fill="#151515"/>
<circle cx="830.0" cy="2764.0" r="4.8" fill="#151515"/>
<circle cx="864.3" cy="2767.7" r="4.8" fill="#151515"/>
<circle cx="792.0" cy="2773.3" r="4.8" fill="#151515"/>
<circle cx="1048.0" cy="2762.0" r="4.8" fill="#151515"/>
<circle cx="926.0" cy="2772.0" r="4.8" fill="#151515"/>
<circle cx="827.7" cy="2783.3" r="4.8" fill="#151515"/>
<circle cx="987.3" cy="2780.0" r="4.8" fill="#151515"/>
<circle cx="741.3" cy="2791.3" r="4.8" fill="#151515"/>
<circle cx="888.7" cy="2828.0" r="4.8" fill="#151515"/>
<circle cx="1203.3" cy="2682.3" r="4.8" fill="#151515"/>
<circle cx="1245.3" cy="2725.3" r="4.8" fill="#151515"/>
<circle cx="1180.0" cy="2735.3" r="4.8" fill="#151515"/>
<circle cx="1207.0" cy="2795.7" r="4.8" fill="#151515"/>
<circle cx="1156.7" cy="2807.0" r="4.8" fill="#151515"/>
<circle cx="1402.7" cy="2800.7" r="4.8" fill="#151515"/>
<circle cx="1382.0" cy="2808.3" r="4.8" fill="#151515"/>
<circle cx="812.7" cy="2843.7" r="4.8" fill="#151515"/>
<circle cx="959.3" cy="2843.3" r="4.8" fill="#151515"/>
<circle cx="1082.7" cy="2844.3" r="4.8" fill="#151515"/>
<circle cx="1074.7" cy="2852.3" r="4.8" fill="#151515"/>
<circle cx="940.0" cy="2874.0" r="4.8" fill="#151515"/>
<circle cx="856.0" cy="2880.0" r="4.8" fill="#151515"/>
<circle cx="869.3" cy="2898.0" r="4.8" fill="#151515"/>
<circle cx="905.7" cy="2923.7" r="4.8" fill="#151515"/>
<circle cx="1012.0" cy="2925.7" r="4.8" fill="#151515"/>
<circle cx="1039.0" cy="2922.3" r="4.8" fill="#151515"/>
<circle cx="806.0" cy="2930.3" r="4.8" fill="#151515"/>
<circle cx="976.3" cy="2958.3" r="4.8" fill="#151515"/>
<circle cx="805.0" cy="2978.3" r="4.8" fill="#151515"/>
<circle cx="1041.7" cy="2979.3" r="4.8" fill="#151515"/>
<circle cx="1068.7" cy="2975.3" r="4.8" fill="#151515"/>
<circle cx="1005.7" cy="3032.7" r="4.8" fill="#151515"/>
<circle cx="921.7" cy="3049.3" r="4.8" fill="#151515"/>
<circle cx="1073.3" cy="3051.3" r="4.8" fill="#151515"/>
<circle cx="793.3" cy="3054.3" r="4.8" fill="#151515"/>
<circle cx="1159.3" cy="2881.0" r="4.8" fill="#151515"/>
<circle cx="1228.3" cy="2888.3" r="4.8" fill="#151515"/>
<circle cx="1352.3" cy="2879.0" r="4.8" fill="#151515"/>
<circle cx="1359.3" cy="2915.0" r="4.8" fill="#151515"/>
<circle cx="1333.3" cy="2927.7" r="4.8" fill="#151515"/>
<circle cx="1322.0" cy="2950.3" r="4.8" fill="#151515"/>
<circle cx="1271.7" cy="2986.0" r="4.8" fill="#151515"/>
<circle cx="1587.0" cy="2860.5" r="4.8" fill="#151515"/>
<circle cx="1529.0" cy="2945.0" r="4.8" fill="#151515"/>
<circle cx="1668.0" cy="2991.0" r="4.8" fill="#151515"/>
<circle cx="409.5" cy="3104.5" r="4.8" fill="#151515"/>
<circle cx="1213.5" cy="3124.0" r="4.8" fill="#151515"/>
<circle cx="1252.5" cy="3257.0" r="4.8" fill="#151515"/>
<text x="413.3" y="2397.5" font-size="36" letter-spacing="1.3">台试8</text>
<text x="340.8" y="2451.0" font-size="36" letter-spacing="1.3">台6-1</text>
<text x="600.8" y="2449.0" font-size="36" letter-spacing="1.3">台4-1</text>
<text x="401.8" y="2526.0" font-size="36" letter-spacing="1.3">台4-43</text>
<text x="234.8" y="2569.0" font-size="36" letter-spacing="1.3">台6-5</text>
<text x="118.3" y="2612.5" font-size="36" letter-spacing="1.3">台南6</text>
<text x="904.8" y="2483.5" font-size="36" letter-spacing="1.3">台南7</text>
<text x="851.8" y="2538.5" font-size="36" letter-spacing="1.3">台6-3</text>
<text x="665.8" y="2575.0" font-size="36" letter-spacing="1.3">台6-24</text>
<text x="794.8" y="2592.5" font-size="36" letter-spacing="1.3">台4-39</text>
<text x="1113.3" y="2596.0" font-size="36" letter-spacing="1.3">台6-4</text>
<text x="306.8" y="2775.0" font-size="36" letter-spacing="1.3">台6-13</text>
<text x="529.8" y="2762.5" font-size="36" letter-spacing="1.3">台3-45</text>
<text x="440.8" y="2841.0" font-size="36" letter-spacing="1.3">台6-14</text>
<text x="525.8" y="2920.0" font-size="36" letter-spacing="1.3">台6-36</text>
<text x="673.1" y="2933.0" font-size="36" letter-spacing="1.3">台5-7</text>
<text x="677.5" y="2661.7" font-size="36" letter-spacing="1.3">台4-7</text>
<text x="785.8" y="2661.7" font-size="36" letter-spacing="1.3">台5-3</text>
<text x="859.1" y="2725.0" font-size="36" letter-spacing="1.3">台4-44</text>
<text x="829.1" y="2800.7" font-size="36" letter-spacing="1.3">台3-15</text>
<text x="1022.5" y="2721.0" font-size="36" letter-spacing="1.3">台4-9</text>
<text x="1207.5" y="2714.0" font-size="36" letter-spacing="1.3">台4-23</text>
<text x="1199.8" y="2766.7" font-size="36" letter-spacing="1.3">台6-26</text>
<text x="755.1" y="2873.3" font-size="36" letter-spacing="1.3">台7-2</text>
<text x="717.5" y="3041.5" font-size="36" letter-spacing="1.3">台6-37</text>
<text x="989.3" y="2912.0" font-size="36" letter-spacing="1.3">台4-19</text>
<text x="1175.8" y="2920.0" font-size="36" letter-spacing="1.3">台3-26</text>
<text x="1355.8" y="2903.0" font-size="36" letter-spacing="1.3">台4-13</text>
<text x="1265.8" y="2978.3" font-size="36" letter-spacing="1.3">台6-35</text>
<text x="1533.8" y="2850.0" font-size="36" letter-spacing="1.3">台6-12</text>
<text x="1467.8" y="2927.5" font-size="36" letter-spacing="1.3">台4-12</text>
<text x="1155.8" y="3165.0" font-size="36" letter-spacing="1.3">台南8</text>
<text x="19.5" y="2304.0" font-size="53.5" letter-spacing="2.4">(c)</text>
<text x="0" y="0" font-size="47.5" text-anchor="middle" transform="translate(1698.6 2316.5) scale(1.1 1)">N</text>
<path d="M1699.3 2426.0L1699.3 2331.5L1719.5 2363.5L1689.4 2385.7" fill="none" stroke="#1a1a1a" stroke-width="4.2" stroke-linejoin="miter" stroke-miterlimit="10"/>
<text x="1599.3" y="2486.6" font-size="41" text-anchor="middle">0</text>
<text x="1700.5" y="2486.6" font-size="41" text-anchor="middle" letter-spacing="1">500</text>
<text x="1845" y="2486.6" font-size="41" text-anchor="middle" letter-spacing="1">1 000 m</text>
<rect x="1596" y="2498.5" width="103.3" height="15.3" fill="#1a1a1a"/>
<rect x="1698.3" y="2499.5" width="96.2" height="13.3" fill="#fff" stroke="#1a1a1a" stroke-width="2"/>
<rect x="2.7" y="2244.5" width="1959.4" height="1044.8" fill="none" stroke="#1a1a1a" stroke-width="4.2"/>
</g>
<rect x="390.3" y="3347.6" width="108.3" height="57.1" fill="#fff" stroke="#1a1a1a" stroke-width="4.4" stroke-linejoin="round"/>
<line x1="401.3" y1="3361.9" x2="483.2" y2="3391" stroke="#1a1a1a" stroke-width="5"/>
<text x="446.9" y="3468.5" font-size="51.5" text-anchor="middle">水平井段</text>
<rect x="670.3" y="3347.6" width="108.3" height="57.1" fill="#EE7C2D" stroke="#1a1a1a" stroke-width="4.4" stroke-linejoin="round"/>
<text x="726.9" y="3468.5" font-size="51.5" text-anchor="middle">坝主体</text>
<rect x="950.3" y="3347.6" width="108.3" height="57.1" fill="#FCC055" stroke="#1a1a1a" stroke-width="4.4" stroke-linejoin="round"/>
<text x="1006.9" y="3468.5" font-size="51.5" text-anchor="middle">坝缘</text>
<rect x="1230.3" y="3347.6" width="108.3" height="57.1" fill="#F7F285" stroke="#1a1a1a" stroke-width="4.4" stroke-linejoin="round"/>
<text x="1286.9" y="3468.5" font-size="51.5" text-anchor="middle">滩主体</text>
<rect x="1510.3" y="3347.6" width="108.3" height="57.1" fill="#E8D3B0" stroke="#1a1a1a" stroke-width="4.4" stroke-linejoin="round"/>
<text x="1566.9" y="3468.5" font-size="51.5" text-anchor="middle">滩缘</text>
</svg></body></html>
